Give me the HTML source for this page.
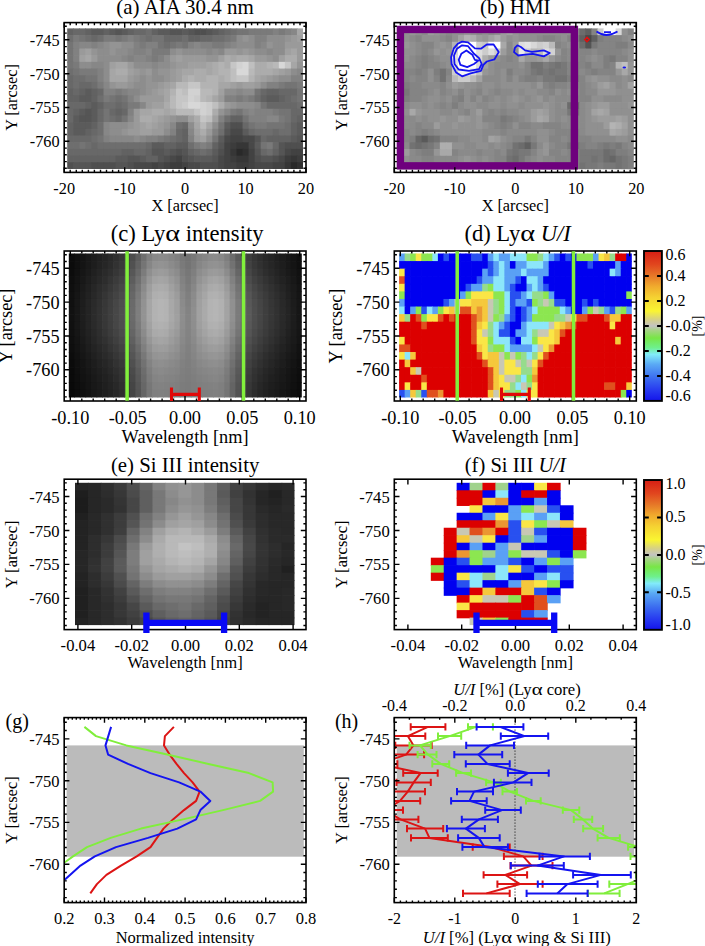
<!DOCTYPE html>
<html><head><meta charset="utf-8"><style>html,body{margin:0;padding:0;background:#fff;overflow:hidden}svg{display:block}</style></head><body>
<svg width="705" height="946" viewBox="0 0 705 946" font-family='"Liberation Serif", serif'>
<rect width="705" height="946" fill="#fff"/>
<rect x="67.20" y="28.40" width="6.75" height="7.40" fill="#626262"/>
<rect x="73.25" y="28.40" width="6.75" height="7.40" fill="#686868"/>
<rect x="79.29" y="28.40" width="6.75" height="7.40" fill="#686868"/>
<rect x="85.34" y="28.40" width="6.75" height="7.40" fill="#626262"/>
<rect x="91.38" y="28.40" width="6.75" height="7.40" fill="#5b5b5b"/>
<rect x="97.43" y="28.40" width="6.75" height="7.40" fill="#5b5b5b"/>
<rect x="103.48" y="28.40" width="6.75" height="7.40" fill="#626262"/>
<rect x="109.52" y="28.40" width="6.75" height="7.40" fill="#5b5b5b"/>
<rect x="115.57" y="28.40" width="6.75" height="7.40" fill="#555555"/>
<rect x="121.62" y="28.40" width="6.75" height="7.40" fill="#5b5b5b"/>
<rect x="127.66" y="28.40" width="6.75" height="7.40" fill="#626262"/>
<rect x="133.71" y="28.40" width="6.75" height="7.40" fill="#686868"/>
<rect x="139.75" y="28.40" width="6.75" height="7.40" fill="#686868"/>
<rect x="145.80" y="28.40" width="6.75" height="7.40" fill="#6e6e6e"/>
<rect x="151.85" y="28.40" width="6.75" height="7.40" fill="#626262"/>
<rect x="157.89" y="28.40" width="6.75" height="7.40" fill="#5b5b5b"/>
<rect x="163.94" y="28.40" width="6.75" height="7.40" fill="#5b5b5b"/>
<rect x="169.98" y="28.40" width="6.75" height="7.40" fill="#555555"/>
<rect x="176.03" y="28.40" width="6.75" height="7.40" fill="#555555"/>
<rect x="182.08" y="28.40" width="6.75" height="7.40" fill="#5b5b5b"/>
<rect x="188.12" y="28.40" width="6.75" height="7.40" fill="#555555"/>
<rect x="194.17" y="28.40" width="6.75" height="7.40" fill="#4f4f4f"/>
<rect x="200.22" y="28.40" width="6.75" height="7.40" fill="#4f4f4f"/>
<rect x="206.26" y="28.40" width="6.75" height="7.40" fill="#555555"/>
<rect x="212.31" y="28.40" width="6.75" height="7.40" fill="#5b5b5b"/>
<rect x="218.35" y="28.40" width="6.75" height="7.40" fill="#626262"/>
<rect x="224.40" y="28.40" width="6.75" height="7.40" fill="#686868"/>
<rect x="230.45" y="28.40" width="6.75" height="7.40" fill="#6e6e6e"/>
<rect x="236.49" y="28.40" width="6.75" height="7.40" fill="#747474"/>
<rect x="242.54" y="28.40" width="6.75" height="7.40" fill="#747474"/>
<rect x="248.58" y="28.40" width="6.75" height="7.40" fill="#7a7a7a"/>
<rect x="254.63" y="28.40" width="6.75" height="7.40" fill="#7a7a7a"/>
<rect x="260.68" y="28.40" width="6.75" height="7.40" fill="#7a7a7a"/>
<rect x="266.72" y="28.40" width="6.75" height="7.40" fill="#7a7a7a"/>
<rect x="272.77" y="28.40" width="6.75" height="7.40" fill="#818181"/>
<rect x="278.82" y="28.40" width="6.75" height="7.40" fill="#7a7a7a"/>
<rect x="284.86" y="28.40" width="6.75" height="7.40" fill="#818181"/>
<rect x="290.91" y="28.40" width="6.75" height="7.40" fill="#878787"/>
<rect x="296.95" y="28.40" width="6.05" height="7.40" fill="#a6a6a6"/>
<rect x="67.20" y="35.10" width="6.75" height="7.40" fill="#6e6e6e"/>
<rect x="73.25" y="35.10" width="6.75" height="7.40" fill="#7a7a7a"/>
<rect x="79.29" y="35.10" width="6.75" height="7.40" fill="#747474"/>
<rect x="85.34" y="35.10" width="6.75" height="7.40" fill="#6e6e6e"/>
<rect x="91.38" y="35.10" width="6.75" height="7.40" fill="#686868"/>
<rect x="97.43" y="35.10" width="6.75" height="7.40" fill="#6e6e6e"/>
<rect x="103.48" y="35.10" width="6.75" height="7.40" fill="#7a7a7a"/>
<rect x="109.52" y="35.10" width="6.75" height="7.40" fill="#7a7a7a"/>
<rect x="115.57" y="35.10" width="6.75" height="7.40" fill="#747474"/>
<rect x="121.62" y="35.10" width="6.75" height="7.40" fill="#7a7a7a"/>
<rect x="127.66" y="35.10" width="6.75" height="7.40" fill="#818181"/>
<rect x="133.71" y="35.10" width="6.75" height="7.40" fill="#7a7a7a"/>
<rect x="139.75" y="35.10" width="6.75" height="7.40" fill="#747474"/>
<rect x="145.80" y="35.10" width="6.75" height="7.40" fill="#6e6e6e"/>
<rect x="151.85" y="35.10" width="6.75" height="7.40" fill="#747474"/>
<rect x="157.89" y="35.10" width="6.75" height="7.40" fill="#747474"/>
<rect x="163.94" y="35.10" width="6.75" height="7.40" fill="#686868"/>
<rect x="169.98" y="35.10" width="6.75" height="7.40" fill="#686868"/>
<rect x="176.03" y="35.10" width="6.75" height="7.40" fill="#686868"/>
<rect x="182.08" y="35.10" width="6.75" height="7.40" fill="#6e6e6e"/>
<rect x="188.12" y="35.10" width="6.75" height="7.40" fill="#626262"/>
<rect x="194.17" y="35.10" width="6.75" height="7.40" fill="#626262"/>
<rect x="200.22" y="35.10" width="6.75" height="7.40" fill="#686868"/>
<rect x="206.26" y="35.10" width="6.75" height="7.40" fill="#686868"/>
<rect x="212.31" y="35.10" width="6.75" height="7.40" fill="#6e6e6e"/>
<rect x="218.35" y="35.10" width="6.75" height="7.40" fill="#6e6e6e"/>
<rect x="224.40" y="35.10" width="6.75" height="7.40" fill="#747474"/>
<rect x="230.45" y="35.10" width="6.75" height="7.40" fill="#7a7a7a"/>
<rect x="236.49" y="35.10" width="6.75" height="7.40" fill="#8d8d8d"/>
<rect x="242.54" y="35.10" width="6.75" height="7.40" fill="#949494"/>
<rect x="248.58" y="35.10" width="6.75" height="7.40" fill="#8d8d8d"/>
<rect x="254.63" y="35.10" width="6.75" height="7.40" fill="#818181"/>
<rect x="260.68" y="35.10" width="6.75" height="7.40" fill="#818181"/>
<rect x="266.72" y="35.10" width="6.75" height="7.40" fill="#8d8d8d"/>
<rect x="272.77" y="35.10" width="6.75" height="7.40" fill="#8d8d8d"/>
<rect x="278.82" y="35.10" width="6.75" height="7.40" fill="#8d8d8d"/>
<rect x="284.86" y="35.10" width="6.75" height="7.40" fill="#949494"/>
<rect x="290.91" y="35.10" width="6.75" height="7.40" fill="#9a9a9a"/>
<rect x="296.95" y="35.10" width="6.05" height="7.40" fill="#a0a0a0"/>
<rect x="67.20" y="41.79" width="6.75" height="7.40" fill="#747474"/>
<rect x="73.25" y="41.79" width="6.75" height="7.40" fill="#818181"/>
<rect x="79.29" y="41.79" width="6.75" height="7.40" fill="#878787"/>
<rect x="85.34" y="41.79" width="6.75" height="7.40" fill="#878787"/>
<rect x="91.38" y="41.79" width="6.75" height="7.40" fill="#818181"/>
<rect x="97.43" y="41.79" width="6.75" height="7.40" fill="#878787"/>
<rect x="103.48" y="41.79" width="6.75" height="7.40" fill="#8d8d8d"/>
<rect x="109.52" y="41.79" width="6.75" height="7.40" fill="#949494"/>
<rect x="115.57" y="41.79" width="6.75" height="7.40" fill="#949494"/>
<rect x="121.62" y="41.79" width="6.75" height="7.40" fill="#8d8d8d"/>
<rect x="127.66" y="41.79" width="6.75" height="7.40" fill="#8d8d8d"/>
<rect x="133.71" y="41.79" width="6.75" height="7.40" fill="#818181"/>
<rect x="139.75" y="41.79" width="6.75" height="7.40" fill="#7a7a7a"/>
<rect x="145.80" y="41.79" width="6.75" height="7.40" fill="#818181"/>
<rect x="151.85" y="41.79" width="6.75" height="7.40" fill="#818181"/>
<rect x="157.89" y="41.79" width="6.75" height="7.40" fill="#747474"/>
<rect x="163.94" y="41.79" width="6.75" height="7.40" fill="#6e6e6e"/>
<rect x="169.98" y="41.79" width="6.75" height="7.40" fill="#747474"/>
<rect x="176.03" y="41.79" width="6.75" height="7.40" fill="#7a7a7a"/>
<rect x="182.08" y="41.79" width="6.75" height="7.40" fill="#747474"/>
<rect x="188.12" y="41.79" width="6.75" height="7.40" fill="#818181"/>
<rect x="194.17" y="41.79" width="6.75" height="7.40" fill="#878787"/>
<rect x="200.22" y="41.79" width="6.75" height="7.40" fill="#818181"/>
<rect x="206.26" y="41.79" width="6.75" height="7.40" fill="#818181"/>
<rect x="212.31" y="41.79" width="6.75" height="7.40" fill="#7a7a7a"/>
<rect x="218.35" y="41.79" width="6.75" height="7.40" fill="#7a7a7a"/>
<rect x="224.40" y="41.79" width="6.75" height="7.40" fill="#818181"/>
<rect x="230.45" y="41.79" width="6.75" height="7.40" fill="#878787"/>
<rect x="236.49" y="41.79" width="6.75" height="7.40" fill="#8d8d8d"/>
<rect x="242.54" y="41.79" width="6.75" height="7.40" fill="#8d8d8d"/>
<rect x="248.58" y="41.79" width="6.75" height="7.40" fill="#8d8d8d"/>
<rect x="254.63" y="41.79" width="6.75" height="7.40" fill="#818181"/>
<rect x="260.68" y="41.79" width="6.75" height="7.40" fill="#878787"/>
<rect x="266.72" y="41.79" width="6.75" height="7.40" fill="#949494"/>
<rect x="272.77" y="41.79" width="6.75" height="7.40" fill="#8d8d8d"/>
<rect x="278.82" y="41.79" width="6.75" height="7.40" fill="#8d8d8d"/>
<rect x="284.86" y="41.79" width="6.75" height="7.40" fill="#9a9a9a"/>
<rect x="290.91" y="41.79" width="6.75" height="7.40" fill="#9a9a9a"/>
<rect x="296.95" y="41.79" width="6.05" height="7.40" fill="#9a9a9a"/>
<rect x="67.20" y="48.49" width="6.75" height="7.40" fill="#747474"/>
<rect x="73.25" y="48.49" width="6.75" height="7.40" fill="#818181"/>
<rect x="79.29" y="48.49" width="6.75" height="7.40" fill="#9a9a9a"/>
<rect x="85.34" y="48.49" width="6.75" height="7.40" fill="#a0a0a0"/>
<rect x="91.38" y="48.49" width="6.75" height="7.40" fill="#949494"/>
<rect x="97.43" y="48.49" width="6.75" height="7.40" fill="#8d8d8d"/>
<rect x="103.48" y="48.49" width="6.75" height="7.40" fill="#8d8d8d"/>
<rect x="109.52" y="48.49" width="6.75" height="7.40" fill="#949494"/>
<rect x="115.57" y="48.49" width="6.75" height="7.40" fill="#8d8d8d"/>
<rect x="121.62" y="48.49" width="6.75" height="7.40" fill="#8d8d8d"/>
<rect x="127.66" y="48.49" width="6.75" height="7.40" fill="#878787"/>
<rect x="133.71" y="48.49" width="6.75" height="7.40" fill="#818181"/>
<rect x="139.75" y="48.49" width="6.75" height="7.40" fill="#818181"/>
<rect x="145.80" y="48.49" width="6.75" height="7.40" fill="#878787"/>
<rect x="151.85" y="48.49" width="6.75" height="7.40" fill="#7a7a7a"/>
<rect x="157.89" y="48.49" width="6.75" height="7.40" fill="#7a7a7a"/>
<rect x="163.94" y="48.49" width="6.75" height="7.40" fill="#7a7a7a"/>
<rect x="169.98" y="48.49" width="6.75" height="7.40" fill="#8d8d8d"/>
<rect x="176.03" y="48.49" width="6.75" height="7.40" fill="#949494"/>
<rect x="182.08" y="48.49" width="6.75" height="7.40" fill="#8d8d8d"/>
<rect x="188.12" y="48.49" width="6.75" height="7.40" fill="#8d8d8d"/>
<rect x="194.17" y="48.49" width="6.75" height="7.40" fill="#8d8d8d"/>
<rect x="200.22" y="48.49" width="6.75" height="7.40" fill="#8d8d8d"/>
<rect x="206.26" y="48.49" width="6.75" height="7.40" fill="#878787"/>
<rect x="212.31" y="48.49" width="6.75" height="7.40" fill="#8d8d8d"/>
<rect x="218.35" y="48.49" width="6.75" height="7.40" fill="#878787"/>
<rect x="224.40" y="48.49" width="6.75" height="7.40" fill="#9a9a9a"/>
<rect x="230.45" y="48.49" width="6.75" height="7.40" fill="#9a9a9a"/>
<rect x="236.49" y="48.49" width="6.75" height="7.40" fill="#949494"/>
<rect x="242.54" y="48.49" width="6.75" height="7.40" fill="#9a9a9a"/>
<rect x="248.58" y="48.49" width="6.75" height="7.40" fill="#949494"/>
<rect x="254.63" y="48.49" width="6.75" height="7.40" fill="#8d8d8d"/>
<rect x="260.68" y="48.49" width="6.75" height="7.40" fill="#8d8d8d"/>
<rect x="266.72" y="48.49" width="6.75" height="7.40" fill="#878787"/>
<rect x="272.77" y="48.49" width="6.75" height="7.40" fill="#8d8d8d"/>
<rect x="278.82" y="48.49" width="6.75" height="7.40" fill="#8d8d8d"/>
<rect x="284.86" y="48.49" width="6.75" height="7.40" fill="#a0a0a0"/>
<rect x="290.91" y="48.49" width="6.75" height="7.40" fill="#a6a6a6"/>
<rect x="296.95" y="48.49" width="6.05" height="7.40" fill="#9a9a9a"/>
<rect x="67.20" y="55.18" width="6.75" height="7.40" fill="#747474"/>
<rect x="73.25" y="55.18" width="6.75" height="7.40" fill="#818181"/>
<rect x="79.29" y="55.18" width="6.75" height="7.40" fill="#a0a0a0"/>
<rect x="85.34" y="55.18" width="6.75" height="7.40" fill="#a6a6a6"/>
<rect x="91.38" y="55.18" width="6.75" height="7.40" fill="#9a9a9a"/>
<rect x="97.43" y="55.18" width="6.75" height="7.40" fill="#8d8d8d"/>
<rect x="103.48" y="55.18" width="6.75" height="7.40" fill="#8d8d8d"/>
<rect x="109.52" y="55.18" width="6.75" height="7.40" fill="#8d8d8d"/>
<rect x="115.57" y="55.18" width="6.75" height="7.40" fill="#8d8d8d"/>
<rect x="121.62" y="55.18" width="6.75" height="7.40" fill="#878787"/>
<rect x="127.66" y="55.18" width="6.75" height="7.40" fill="#818181"/>
<rect x="133.71" y="55.18" width="6.75" height="7.40" fill="#878787"/>
<rect x="139.75" y="55.18" width="6.75" height="7.40" fill="#878787"/>
<rect x="145.80" y="55.18" width="6.75" height="7.40" fill="#818181"/>
<rect x="151.85" y="55.18" width="6.75" height="7.40" fill="#7a7a7a"/>
<rect x="157.89" y="55.18" width="6.75" height="7.40" fill="#818181"/>
<rect x="163.94" y="55.18" width="6.75" height="7.40" fill="#8d8d8d"/>
<rect x="169.98" y="55.18" width="6.75" height="7.40" fill="#9a9a9a"/>
<rect x="176.03" y="55.18" width="6.75" height="7.40" fill="#a0a0a0"/>
<rect x="182.08" y="55.18" width="6.75" height="7.40" fill="#9a9a9a"/>
<rect x="188.12" y="55.18" width="6.75" height="7.40" fill="#9a9a9a"/>
<rect x="194.17" y="55.18" width="6.75" height="7.40" fill="#9a9a9a"/>
<rect x="200.22" y="55.18" width="6.75" height="7.40" fill="#9a9a9a"/>
<rect x="206.26" y="55.18" width="6.75" height="7.40" fill="#949494"/>
<rect x="212.31" y="55.18" width="6.75" height="7.40" fill="#949494"/>
<rect x="218.35" y="55.18" width="6.75" height="7.40" fill="#a0a0a0"/>
<rect x="224.40" y="55.18" width="6.75" height="7.40" fill="#acacac"/>
<rect x="230.45" y="55.18" width="6.75" height="7.40" fill="#a6a6a6"/>
<rect x="236.49" y="55.18" width="6.75" height="7.40" fill="#acacac"/>
<rect x="242.54" y="55.18" width="6.75" height="7.40" fill="#acacac"/>
<rect x="248.58" y="55.18" width="6.75" height="7.40" fill="#a6a6a6"/>
<rect x="254.63" y="55.18" width="6.75" height="7.40" fill="#9a9a9a"/>
<rect x="260.68" y="55.18" width="6.75" height="7.40" fill="#9a9a9a"/>
<rect x="266.72" y="55.18" width="6.75" height="7.40" fill="#949494"/>
<rect x="272.77" y="55.18" width="6.75" height="7.40" fill="#8d8d8d"/>
<rect x="278.82" y="55.18" width="6.75" height="7.40" fill="#a0a0a0"/>
<rect x="284.86" y="55.18" width="6.75" height="7.40" fill="#acacac"/>
<rect x="290.91" y="55.18" width="6.75" height="7.40" fill="#acacac"/>
<rect x="296.95" y="55.18" width="6.05" height="7.40" fill="#9a9a9a"/>
<rect x="67.20" y="61.88" width="6.75" height="7.40" fill="#747474"/>
<rect x="73.25" y="61.88" width="6.75" height="7.40" fill="#7a7a7a"/>
<rect x="79.29" y="61.88" width="6.75" height="7.40" fill="#8d8d8d"/>
<rect x="85.34" y="61.88" width="6.75" height="7.40" fill="#8d8d8d"/>
<rect x="91.38" y="61.88" width="6.75" height="7.40" fill="#878787"/>
<rect x="97.43" y="61.88" width="6.75" height="7.40" fill="#878787"/>
<rect x="103.48" y="61.88" width="6.75" height="7.40" fill="#8d8d8d"/>
<rect x="109.52" y="61.88" width="6.75" height="7.40" fill="#a0a0a0"/>
<rect x="115.57" y="61.88" width="6.75" height="7.40" fill="#a6a6a6"/>
<rect x="121.62" y="61.88" width="6.75" height="7.40" fill="#a6a6a6"/>
<rect x="127.66" y="61.88" width="6.75" height="7.40" fill="#9a9a9a"/>
<rect x="133.71" y="61.88" width="6.75" height="7.40" fill="#8d8d8d"/>
<rect x="139.75" y="61.88" width="6.75" height="7.40" fill="#8d8d8d"/>
<rect x="145.80" y="61.88" width="6.75" height="7.40" fill="#8d8d8d"/>
<rect x="151.85" y="61.88" width="6.75" height="7.40" fill="#878787"/>
<rect x="157.89" y="61.88" width="6.75" height="7.40" fill="#8d8d8d"/>
<rect x="163.94" y="61.88" width="6.75" height="7.40" fill="#8d8d8d"/>
<rect x="169.98" y="61.88" width="6.75" height="7.40" fill="#949494"/>
<rect x="176.03" y="61.88" width="6.75" height="7.40" fill="#9a9a9a"/>
<rect x="182.08" y="61.88" width="6.75" height="7.40" fill="#9a9a9a"/>
<rect x="188.12" y="61.88" width="6.75" height="7.40" fill="#a0a0a0"/>
<rect x="194.17" y="61.88" width="6.75" height="7.40" fill="#a0a0a0"/>
<rect x="200.22" y="61.88" width="6.75" height="7.40" fill="#a0a0a0"/>
<rect x="206.26" y="61.88" width="6.75" height="7.40" fill="#a6a6a6"/>
<rect x="212.31" y="61.88" width="6.75" height="7.40" fill="#acacac"/>
<rect x="218.35" y="61.88" width="6.75" height="7.40" fill="#b3b3b3"/>
<rect x="224.40" y="61.88" width="6.75" height="7.40" fill="#acacac"/>
<rect x="230.45" y="61.88" width="6.75" height="7.40" fill="#c6c6c6"/>
<rect x="236.49" y="61.88" width="6.75" height="7.40" fill="#d2d2d2"/>
<rect x="242.54" y="61.88" width="6.75" height="7.40" fill="#d8d8d8"/>
<rect x="248.58" y="61.88" width="6.75" height="7.40" fill="#bfbfbf"/>
<rect x="254.63" y="61.88" width="6.75" height="7.40" fill="#acacac"/>
<rect x="260.68" y="61.88" width="6.75" height="7.40" fill="#acacac"/>
<rect x="266.72" y="61.88" width="6.75" height="7.40" fill="#b3b3b3"/>
<rect x="272.77" y="61.88" width="6.75" height="7.40" fill="#b9b9b9"/>
<rect x="278.82" y="61.88" width="6.75" height="7.40" fill="#d8d8d8"/>
<rect x="284.86" y="61.88" width="6.75" height="7.40" fill="#c6c6c6"/>
<rect x="290.91" y="61.88" width="6.75" height="7.40" fill="#a6a6a6"/>
<rect x="296.95" y="61.88" width="6.05" height="7.40" fill="#949494"/>
<rect x="67.20" y="68.57" width="6.75" height="7.40" fill="#6e6e6e"/>
<rect x="73.25" y="68.57" width="6.75" height="7.40" fill="#747474"/>
<rect x="79.29" y="68.57" width="6.75" height="7.40" fill="#7a7a7a"/>
<rect x="85.34" y="68.57" width="6.75" height="7.40" fill="#7a7a7a"/>
<rect x="91.38" y="68.57" width="6.75" height="7.40" fill="#7a7a7a"/>
<rect x="97.43" y="68.57" width="6.75" height="7.40" fill="#818181"/>
<rect x="103.48" y="68.57" width="6.75" height="7.40" fill="#8d8d8d"/>
<rect x="109.52" y="68.57" width="6.75" height="7.40" fill="#a6a6a6"/>
<rect x="115.57" y="68.57" width="6.75" height="7.40" fill="#acacac"/>
<rect x="121.62" y="68.57" width="6.75" height="7.40" fill="#acacac"/>
<rect x="127.66" y="68.57" width="6.75" height="7.40" fill="#a0a0a0"/>
<rect x="133.71" y="68.57" width="6.75" height="7.40" fill="#9a9a9a"/>
<rect x="139.75" y="68.57" width="6.75" height="7.40" fill="#949494"/>
<rect x="145.80" y="68.57" width="6.75" height="7.40" fill="#9a9a9a"/>
<rect x="151.85" y="68.57" width="6.75" height="7.40" fill="#8d8d8d"/>
<rect x="157.89" y="68.57" width="6.75" height="7.40" fill="#949494"/>
<rect x="163.94" y="68.57" width="6.75" height="7.40" fill="#949494"/>
<rect x="169.98" y="68.57" width="6.75" height="7.40" fill="#9a9a9a"/>
<rect x="176.03" y="68.57" width="6.75" height="7.40" fill="#a0a0a0"/>
<rect x="182.08" y="68.57" width="6.75" height="7.40" fill="#a6a6a6"/>
<rect x="188.12" y="68.57" width="6.75" height="7.40" fill="#a6a6a6"/>
<rect x="194.17" y="68.57" width="6.75" height="7.40" fill="#acacac"/>
<rect x="200.22" y="68.57" width="6.75" height="7.40" fill="#acacac"/>
<rect x="206.26" y="68.57" width="6.75" height="7.40" fill="#a6a6a6"/>
<rect x="212.31" y="68.57" width="6.75" height="7.40" fill="#acacac"/>
<rect x="218.35" y="68.57" width="6.75" height="7.40" fill="#b3b3b3"/>
<rect x="224.40" y="68.57" width="6.75" height="7.40" fill="#b3b3b3"/>
<rect x="230.45" y="68.57" width="6.75" height="7.40" fill="#bfbfbf"/>
<rect x="236.49" y="68.57" width="6.75" height="7.40" fill="#d8d8d8"/>
<rect x="242.54" y="68.57" width="6.75" height="7.40" fill="#d8d8d8"/>
<rect x="248.58" y="68.57" width="6.75" height="7.40" fill="#b9b9b9"/>
<rect x="254.63" y="68.57" width="6.75" height="7.40" fill="#acacac"/>
<rect x="260.68" y="68.57" width="6.75" height="7.40" fill="#acacac"/>
<rect x="266.72" y="68.57" width="6.75" height="7.40" fill="#acacac"/>
<rect x="272.77" y="68.57" width="6.75" height="7.40" fill="#a6a6a6"/>
<rect x="278.82" y="68.57" width="6.75" height="7.40" fill="#a0a0a0"/>
<rect x="284.86" y="68.57" width="6.75" height="7.40" fill="#9a9a9a"/>
<rect x="290.91" y="68.57" width="6.75" height="7.40" fill="#8d8d8d"/>
<rect x="296.95" y="68.57" width="6.05" height="7.40" fill="#878787"/>
<rect x="67.20" y="75.27" width="6.75" height="7.40" fill="#686868"/>
<rect x="73.25" y="75.27" width="6.75" height="7.40" fill="#6e6e6e"/>
<rect x="79.29" y="75.27" width="6.75" height="7.40" fill="#6e6e6e"/>
<rect x="85.34" y="75.27" width="6.75" height="7.40" fill="#747474"/>
<rect x="91.38" y="75.27" width="6.75" height="7.40" fill="#747474"/>
<rect x="97.43" y="75.27" width="6.75" height="7.40" fill="#818181"/>
<rect x="103.48" y="75.27" width="6.75" height="7.40" fill="#8d8d8d"/>
<rect x="109.52" y="75.27" width="6.75" height="7.40" fill="#a6a6a6"/>
<rect x="115.57" y="75.27" width="6.75" height="7.40" fill="#a6a6a6"/>
<rect x="121.62" y="75.27" width="6.75" height="7.40" fill="#a6a6a6"/>
<rect x="127.66" y="75.27" width="6.75" height="7.40" fill="#9a9a9a"/>
<rect x="133.71" y="75.27" width="6.75" height="7.40" fill="#949494"/>
<rect x="139.75" y="75.27" width="6.75" height="7.40" fill="#8d8d8d"/>
<rect x="145.80" y="75.27" width="6.75" height="7.40" fill="#949494"/>
<rect x="151.85" y="75.27" width="6.75" height="7.40" fill="#8d8d8d"/>
<rect x="157.89" y="75.27" width="6.75" height="7.40" fill="#8d8d8d"/>
<rect x="163.94" y="75.27" width="6.75" height="7.40" fill="#949494"/>
<rect x="169.98" y="75.27" width="6.75" height="7.40" fill="#9a9a9a"/>
<rect x="176.03" y="75.27" width="6.75" height="7.40" fill="#a0a0a0"/>
<rect x="182.08" y="75.27" width="6.75" height="7.40" fill="#acacac"/>
<rect x="188.12" y="75.27" width="6.75" height="7.40" fill="#b3b3b3"/>
<rect x="194.17" y="75.27" width="6.75" height="7.40" fill="#acacac"/>
<rect x="200.22" y="75.27" width="6.75" height="7.40" fill="#acacac"/>
<rect x="206.26" y="75.27" width="6.75" height="7.40" fill="#b3b3b3"/>
<rect x="212.31" y="75.27" width="6.75" height="7.40" fill="#b3b3b3"/>
<rect x="218.35" y="75.27" width="6.75" height="7.40" fill="#acacac"/>
<rect x="224.40" y="75.27" width="6.75" height="7.40" fill="#b3b3b3"/>
<rect x="230.45" y="75.27" width="6.75" height="7.40" fill="#bfbfbf"/>
<rect x="236.49" y="75.27" width="6.75" height="7.40" fill="#c6c6c6"/>
<rect x="242.54" y="75.27" width="6.75" height="7.40" fill="#c6c6c6"/>
<rect x="248.58" y="75.27" width="6.75" height="7.40" fill="#b3b3b3"/>
<rect x="254.63" y="75.27" width="6.75" height="7.40" fill="#a6a6a6"/>
<rect x="260.68" y="75.27" width="6.75" height="7.40" fill="#a0a0a0"/>
<rect x="266.72" y="75.27" width="6.75" height="7.40" fill="#9a9a9a"/>
<rect x="272.77" y="75.27" width="6.75" height="7.40" fill="#949494"/>
<rect x="278.82" y="75.27" width="6.75" height="7.40" fill="#8d8d8d"/>
<rect x="284.86" y="75.27" width="6.75" height="7.40" fill="#8d8d8d"/>
<rect x="290.91" y="75.27" width="6.75" height="7.40" fill="#818181"/>
<rect x="296.95" y="75.27" width="6.05" height="7.40" fill="#818181"/>
<rect x="67.20" y="81.96" width="6.75" height="7.40" fill="#686868"/>
<rect x="73.25" y="81.96" width="6.75" height="7.40" fill="#6e6e6e"/>
<rect x="79.29" y="81.96" width="6.75" height="7.40" fill="#686868"/>
<rect x="85.34" y="81.96" width="6.75" height="7.40" fill="#686868"/>
<rect x="91.38" y="81.96" width="6.75" height="7.40" fill="#6e6e6e"/>
<rect x="97.43" y="81.96" width="6.75" height="7.40" fill="#7a7a7a"/>
<rect x="103.48" y="81.96" width="6.75" height="7.40" fill="#878787"/>
<rect x="109.52" y="81.96" width="6.75" height="7.40" fill="#949494"/>
<rect x="115.57" y="81.96" width="6.75" height="7.40" fill="#9a9a9a"/>
<rect x="121.62" y="81.96" width="6.75" height="7.40" fill="#9a9a9a"/>
<rect x="127.66" y="81.96" width="6.75" height="7.40" fill="#949494"/>
<rect x="133.71" y="81.96" width="6.75" height="7.40" fill="#8d8d8d"/>
<rect x="139.75" y="81.96" width="6.75" height="7.40" fill="#8d8d8d"/>
<rect x="145.80" y="81.96" width="6.75" height="7.40" fill="#949494"/>
<rect x="151.85" y="81.96" width="6.75" height="7.40" fill="#949494"/>
<rect x="157.89" y="81.96" width="6.75" height="7.40" fill="#9a9a9a"/>
<rect x="163.94" y="81.96" width="6.75" height="7.40" fill="#a0a0a0"/>
<rect x="169.98" y="81.96" width="6.75" height="7.40" fill="#a6a6a6"/>
<rect x="176.03" y="81.96" width="6.75" height="7.40" fill="#b9b9b9"/>
<rect x="182.08" y="81.96" width="6.75" height="7.40" fill="#b9b9b9"/>
<rect x="188.12" y="81.96" width="6.75" height="7.40" fill="#c6c6c6"/>
<rect x="194.17" y="81.96" width="6.75" height="7.40" fill="#c6c6c6"/>
<rect x="200.22" y="81.96" width="6.75" height="7.40" fill="#b3b3b3"/>
<rect x="206.26" y="81.96" width="6.75" height="7.40" fill="#b3b3b3"/>
<rect x="212.31" y="81.96" width="6.75" height="7.40" fill="#b3b3b3"/>
<rect x="218.35" y="81.96" width="6.75" height="7.40" fill="#a6a6a6"/>
<rect x="224.40" y="81.96" width="6.75" height="7.40" fill="#a6a6a6"/>
<rect x="230.45" y="81.96" width="6.75" height="7.40" fill="#a0a0a0"/>
<rect x="236.49" y="81.96" width="6.75" height="7.40" fill="#9a9a9a"/>
<rect x="242.54" y="81.96" width="6.75" height="7.40" fill="#a0a0a0"/>
<rect x="248.58" y="81.96" width="6.75" height="7.40" fill="#a0a0a0"/>
<rect x="254.63" y="81.96" width="6.75" height="7.40" fill="#9a9a9a"/>
<rect x="260.68" y="81.96" width="6.75" height="7.40" fill="#8d8d8d"/>
<rect x="266.72" y="81.96" width="6.75" height="7.40" fill="#818181"/>
<rect x="272.77" y="81.96" width="6.75" height="7.40" fill="#818181"/>
<rect x="278.82" y="81.96" width="6.75" height="7.40" fill="#7a7a7a"/>
<rect x="284.86" y="81.96" width="6.75" height="7.40" fill="#747474"/>
<rect x="290.91" y="81.96" width="6.75" height="7.40" fill="#747474"/>
<rect x="296.95" y="81.96" width="6.05" height="7.40" fill="#7a7a7a"/>
<rect x="67.20" y="88.66" width="6.75" height="7.40" fill="#626262"/>
<rect x="73.25" y="88.66" width="6.75" height="7.40" fill="#686868"/>
<rect x="79.29" y="88.66" width="6.75" height="7.40" fill="#626262"/>
<rect x="85.34" y="88.66" width="6.75" height="7.40" fill="#5b5b5b"/>
<rect x="91.38" y="88.66" width="6.75" height="7.40" fill="#626262"/>
<rect x="97.43" y="88.66" width="6.75" height="7.40" fill="#686868"/>
<rect x="103.48" y="88.66" width="6.75" height="7.40" fill="#818181"/>
<rect x="109.52" y="88.66" width="6.75" height="7.40" fill="#818181"/>
<rect x="115.57" y="88.66" width="6.75" height="7.40" fill="#7a7a7a"/>
<rect x="121.62" y="88.66" width="6.75" height="7.40" fill="#818181"/>
<rect x="127.66" y="88.66" width="6.75" height="7.40" fill="#878787"/>
<rect x="133.71" y="88.66" width="6.75" height="7.40" fill="#878787"/>
<rect x="139.75" y="88.66" width="6.75" height="7.40" fill="#8d8d8d"/>
<rect x="145.80" y="88.66" width="6.75" height="7.40" fill="#949494"/>
<rect x="151.85" y="88.66" width="6.75" height="7.40" fill="#9a9a9a"/>
<rect x="157.89" y="88.66" width="6.75" height="7.40" fill="#a0a0a0"/>
<rect x="163.94" y="88.66" width="6.75" height="7.40" fill="#a6a6a6"/>
<rect x="169.98" y="88.66" width="6.75" height="7.40" fill="#b3b3b3"/>
<rect x="176.03" y="88.66" width="6.75" height="7.40" fill="#c6c6c6"/>
<rect x="182.08" y="88.66" width="6.75" height="7.40" fill="#bfbfbf"/>
<rect x="188.12" y="88.66" width="6.75" height="7.40" fill="#d2d2d2"/>
<rect x="194.17" y="88.66" width="6.75" height="7.40" fill="#d2d2d2"/>
<rect x="200.22" y="88.66" width="6.75" height="7.40" fill="#b9b9b9"/>
<rect x="206.26" y="88.66" width="6.75" height="7.40" fill="#b9b9b9"/>
<rect x="212.31" y="88.66" width="6.75" height="7.40" fill="#b3b3b3"/>
<rect x="218.35" y="88.66" width="6.75" height="7.40" fill="#a0a0a0"/>
<rect x="224.40" y="88.66" width="6.75" height="7.40" fill="#8d8d8d"/>
<rect x="230.45" y="88.66" width="6.75" height="7.40" fill="#8d8d8d"/>
<rect x="236.49" y="88.66" width="6.75" height="7.40" fill="#878787"/>
<rect x="242.54" y="88.66" width="6.75" height="7.40" fill="#8d8d8d"/>
<rect x="248.58" y="88.66" width="6.75" height="7.40" fill="#8d8d8d"/>
<rect x="254.63" y="88.66" width="6.75" height="7.40" fill="#747474"/>
<rect x="260.68" y="88.66" width="6.75" height="7.40" fill="#686868"/>
<rect x="266.72" y="88.66" width="6.75" height="7.40" fill="#626262"/>
<rect x="272.77" y="88.66" width="6.75" height="7.40" fill="#626262"/>
<rect x="278.82" y="88.66" width="6.75" height="7.40" fill="#686868"/>
<rect x="284.86" y="88.66" width="6.75" height="7.40" fill="#686868"/>
<rect x="290.91" y="88.66" width="6.75" height="7.40" fill="#686868"/>
<rect x="296.95" y="88.66" width="6.05" height="7.40" fill="#747474"/>
<rect x="67.20" y="95.35" width="6.75" height="7.40" fill="#626262"/>
<rect x="73.25" y="95.35" width="6.75" height="7.40" fill="#626262"/>
<rect x="79.29" y="95.35" width="6.75" height="7.40" fill="#5b5b5b"/>
<rect x="85.34" y="95.35" width="6.75" height="7.40" fill="#5b5b5b"/>
<rect x="91.38" y="95.35" width="6.75" height="7.40" fill="#626262"/>
<rect x="97.43" y="95.35" width="6.75" height="7.40" fill="#6e6e6e"/>
<rect x="103.48" y="95.35" width="6.75" height="7.40" fill="#7a7a7a"/>
<rect x="109.52" y="95.35" width="6.75" height="7.40" fill="#747474"/>
<rect x="115.57" y="95.35" width="6.75" height="7.40" fill="#6e6e6e"/>
<rect x="121.62" y="95.35" width="6.75" height="7.40" fill="#747474"/>
<rect x="127.66" y="95.35" width="6.75" height="7.40" fill="#818181"/>
<rect x="133.71" y="95.35" width="6.75" height="7.40" fill="#8d8d8d"/>
<rect x="139.75" y="95.35" width="6.75" height="7.40" fill="#9a9a9a"/>
<rect x="145.80" y="95.35" width="6.75" height="7.40" fill="#9a9a9a"/>
<rect x="151.85" y="95.35" width="6.75" height="7.40" fill="#9a9a9a"/>
<rect x="157.89" y="95.35" width="6.75" height="7.40" fill="#9a9a9a"/>
<rect x="163.94" y="95.35" width="6.75" height="7.40" fill="#a6a6a6"/>
<rect x="169.98" y="95.35" width="6.75" height="7.40" fill="#b9b9b9"/>
<rect x="176.03" y="95.35" width="6.75" height="7.40" fill="#c6c6c6"/>
<rect x="182.08" y="95.35" width="6.75" height="7.40" fill="#c6c6c6"/>
<rect x="188.12" y="95.35" width="6.75" height="7.40" fill="#d2d2d2"/>
<rect x="194.17" y="95.35" width="6.75" height="7.40" fill="#cccccc"/>
<rect x="200.22" y="95.35" width="6.75" height="7.40" fill="#b9b9b9"/>
<rect x="206.26" y="95.35" width="6.75" height="7.40" fill="#b3b3b3"/>
<rect x="212.31" y="95.35" width="6.75" height="7.40" fill="#a6a6a6"/>
<rect x="218.35" y="95.35" width="6.75" height="7.40" fill="#9a9a9a"/>
<rect x="224.40" y="95.35" width="6.75" height="7.40" fill="#818181"/>
<rect x="230.45" y="95.35" width="6.75" height="7.40" fill="#818181"/>
<rect x="236.49" y="95.35" width="6.75" height="7.40" fill="#7a7a7a"/>
<rect x="242.54" y="95.35" width="6.75" height="7.40" fill="#818181"/>
<rect x="248.58" y="95.35" width="6.75" height="7.40" fill="#7a7a7a"/>
<rect x="254.63" y="95.35" width="6.75" height="7.40" fill="#6e6e6e"/>
<rect x="260.68" y="95.35" width="6.75" height="7.40" fill="#626262"/>
<rect x="266.72" y="95.35" width="6.75" height="7.40" fill="#5b5b5b"/>
<rect x="272.77" y="95.35" width="6.75" height="7.40" fill="#5b5b5b"/>
<rect x="278.82" y="95.35" width="6.75" height="7.40" fill="#626262"/>
<rect x="284.86" y="95.35" width="6.75" height="7.40" fill="#686868"/>
<rect x="290.91" y="95.35" width="6.75" height="7.40" fill="#6e6e6e"/>
<rect x="296.95" y="95.35" width="6.05" height="7.40" fill="#747474"/>
<rect x="67.20" y="102.05" width="6.75" height="7.40" fill="#686868"/>
<rect x="73.25" y="102.05" width="6.75" height="7.40" fill="#686868"/>
<rect x="79.29" y="102.05" width="6.75" height="7.40" fill="#686868"/>
<rect x="85.34" y="102.05" width="6.75" height="7.40" fill="#626262"/>
<rect x="91.38" y="102.05" width="6.75" height="7.40" fill="#5b5b5b"/>
<rect x="97.43" y="102.05" width="6.75" height="7.40" fill="#626262"/>
<rect x="103.48" y="102.05" width="6.75" height="7.40" fill="#6e6e6e"/>
<rect x="109.52" y="102.05" width="6.75" height="7.40" fill="#6e6e6e"/>
<rect x="115.57" y="102.05" width="6.75" height="7.40" fill="#686868"/>
<rect x="121.62" y="102.05" width="6.75" height="7.40" fill="#6e6e6e"/>
<rect x="127.66" y="102.05" width="6.75" height="7.40" fill="#7a7a7a"/>
<rect x="133.71" y="102.05" width="6.75" height="7.40" fill="#7a7a7a"/>
<rect x="139.75" y="102.05" width="6.75" height="7.40" fill="#878787"/>
<rect x="145.80" y="102.05" width="6.75" height="7.40" fill="#9a9a9a"/>
<rect x="151.85" y="102.05" width="6.75" height="7.40" fill="#a0a0a0"/>
<rect x="157.89" y="102.05" width="6.75" height="7.40" fill="#a0a0a0"/>
<rect x="163.94" y="102.05" width="6.75" height="7.40" fill="#acacac"/>
<rect x="169.98" y="102.05" width="6.75" height="7.40" fill="#b9b9b9"/>
<rect x="176.03" y="102.05" width="6.75" height="7.40" fill="#c6c6c6"/>
<rect x="182.08" y="102.05" width="6.75" height="7.40" fill="#cccccc"/>
<rect x="188.12" y="102.05" width="6.75" height="7.40" fill="#d8d8d8"/>
<rect x="194.17" y="102.05" width="6.75" height="7.40" fill="#d8d8d8"/>
<rect x="200.22" y="102.05" width="6.75" height="7.40" fill="#d2d2d2"/>
<rect x="206.26" y="102.05" width="6.75" height="7.40" fill="#cccccc"/>
<rect x="212.31" y="102.05" width="6.75" height="7.40" fill="#bfbfbf"/>
<rect x="218.35" y="102.05" width="6.75" height="7.40" fill="#acacac"/>
<rect x="224.40" y="102.05" width="6.75" height="7.40" fill="#9a9a9a"/>
<rect x="230.45" y="102.05" width="6.75" height="7.40" fill="#949494"/>
<rect x="236.49" y="102.05" width="6.75" height="7.40" fill="#8d8d8d"/>
<rect x="242.54" y="102.05" width="6.75" height="7.40" fill="#8d8d8d"/>
<rect x="248.58" y="102.05" width="6.75" height="7.40" fill="#8d8d8d"/>
<rect x="254.63" y="102.05" width="6.75" height="7.40" fill="#878787"/>
<rect x="260.68" y="102.05" width="6.75" height="7.40" fill="#747474"/>
<rect x="266.72" y="102.05" width="6.75" height="7.40" fill="#686868"/>
<rect x="272.77" y="102.05" width="6.75" height="7.40" fill="#686868"/>
<rect x="278.82" y="102.05" width="6.75" height="7.40" fill="#686868"/>
<rect x="284.86" y="102.05" width="6.75" height="7.40" fill="#686868"/>
<rect x="290.91" y="102.05" width="6.75" height="7.40" fill="#686868"/>
<rect x="296.95" y="102.05" width="6.05" height="7.40" fill="#6e6e6e"/>
<rect x="67.20" y="108.74" width="6.75" height="7.40" fill="#686868"/>
<rect x="73.25" y="108.74" width="6.75" height="7.40" fill="#626262"/>
<rect x="79.29" y="108.74" width="6.75" height="7.40" fill="#5b5b5b"/>
<rect x="85.34" y="108.74" width="6.75" height="7.40" fill="#555555"/>
<rect x="91.38" y="108.74" width="6.75" height="7.40" fill="#5b5b5b"/>
<rect x="97.43" y="108.74" width="6.75" height="7.40" fill="#686868"/>
<rect x="103.48" y="108.74" width="6.75" height="7.40" fill="#747474"/>
<rect x="109.52" y="108.74" width="6.75" height="7.40" fill="#686868"/>
<rect x="115.57" y="108.74" width="6.75" height="7.40" fill="#626262"/>
<rect x="121.62" y="108.74" width="6.75" height="7.40" fill="#686868"/>
<rect x="127.66" y="108.74" width="6.75" height="7.40" fill="#818181"/>
<rect x="133.71" y="108.74" width="6.75" height="7.40" fill="#9a9a9a"/>
<rect x="139.75" y="108.74" width="6.75" height="7.40" fill="#a6a6a6"/>
<rect x="145.80" y="108.74" width="6.75" height="7.40" fill="#a6a6a6"/>
<rect x="151.85" y="108.74" width="6.75" height="7.40" fill="#acacac"/>
<rect x="157.89" y="108.74" width="6.75" height="7.40" fill="#acacac"/>
<rect x="163.94" y="108.74" width="6.75" height="7.40" fill="#a6a6a6"/>
<rect x="169.98" y="108.74" width="6.75" height="7.40" fill="#acacac"/>
<rect x="176.03" y="108.74" width="6.75" height="7.40" fill="#b9b9b9"/>
<rect x="182.08" y="108.74" width="6.75" height="7.40" fill="#b9b9b9"/>
<rect x="188.12" y="108.74" width="6.75" height="7.40" fill="#b9b9b9"/>
<rect x="194.17" y="108.74" width="6.75" height="7.40" fill="#c6c6c6"/>
<rect x="200.22" y="108.74" width="6.75" height="7.40" fill="#d2d2d2"/>
<rect x="206.26" y="108.74" width="6.75" height="7.40" fill="#cccccc"/>
<rect x="212.31" y="108.74" width="6.75" height="7.40" fill="#acacac"/>
<rect x="218.35" y="108.74" width="6.75" height="7.40" fill="#949494"/>
<rect x="224.40" y="108.74" width="6.75" height="7.40" fill="#878787"/>
<rect x="230.45" y="108.74" width="6.75" height="7.40" fill="#7a7a7a"/>
<rect x="236.49" y="108.74" width="6.75" height="7.40" fill="#747474"/>
<rect x="242.54" y="108.74" width="6.75" height="7.40" fill="#818181"/>
<rect x="248.58" y="108.74" width="6.75" height="7.40" fill="#878787"/>
<rect x="254.63" y="108.74" width="6.75" height="7.40" fill="#818181"/>
<rect x="260.68" y="108.74" width="6.75" height="7.40" fill="#818181"/>
<rect x="266.72" y="108.74" width="6.75" height="7.40" fill="#818181"/>
<rect x="272.77" y="108.74" width="6.75" height="7.40" fill="#7a7a7a"/>
<rect x="278.82" y="108.74" width="6.75" height="7.40" fill="#747474"/>
<rect x="284.86" y="108.74" width="6.75" height="7.40" fill="#747474"/>
<rect x="290.91" y="108.74" width="6.75" height="7.40" fill="#686868"/>
<rect x="296.95" y="108.74" width="6.05" height="7.40" fill="#686868"/>
<rect x="67.20" y="115.44" width="6.75" height="7.40" fill="#686868"/>
<rect x="73.25" y="115.44" width="6.75" height="7.40" fill="#5b5b5b"/>
<rect x="79.29" y="115.44" width="6.75" height="7.40" fill="#555555"/>
<rect x="85.34" y="115.44" width="6.75" height="7.40" fill="#555555"/>
<rect x="91.38" y="115.44" width="6.75" height="7.40" fill="#5b5b5b"/>
<rect x="97.43" y="115.44" width="6.75" height="7.40" fill="#686868"/>
<rect x="103.48" y="115.44" width="6.75" height="7.40" fill="#747474"/>
<rect x="109.52" y="115.44" width="6.75" height="7.40" fill="#6e6e6e"/>
<rect x="115.57" y="115.44" width="6.75" height="7.40" fill="#686868"/>
<rect x="121.62" y="115.44" width="6.75" height="7.40" fill="#747474"/>
<rect x="127.66" y="115.44" width="6.75" height="7.40" fill="#878787"/>
<rect x="133.71" y="115.44" width="6.75" height="7.40" fill="#9a9a9a"/>
<rect x="139.75" y="115.44" width="6.75" height="7.40" fill="#acacac"/>
<rect x="145.80" y="115.44" width="6.75" height="7.40" fill="#acacac"/>
<rect x="151.85" y="115.44" width="6.75" height="7.40" fill="#a6a6a6"/>
<rect x="157.89" y="115.44" width="6.75" height="7.40" fill="#a0a0a0"/>
<rect x="163.94" y="115.44" width="6.75" height="7.40" fill="#9a9a9a"/>
<rect x="169.98" y="115.44" width="6.75" height="7.40" fill="#949494"/>
<rect x="176.03" y="115.44" width="6.75" height="7.40" fill="#8d8d8d"/>
<rect x="182.08" y="115.44" width="6.75" height="7.40" fill="#8d8d8d"/>
<rect x="188.12" y="115.44" width="6.75" height="7.40" fill="#a0a0a0"/>
<rect x="194.17" y="115.44" width="6.75" height="7.40" fill="#acacac"/>
<rect x="200.22" y="115.44" width="6.75" height="7.40" fill="#c6c6c6"/>
<rect x="206.26" y="115.44" width="6.75" height="7.40" fill="#bfbfbf"/>
<rect x="212.31" y="115.44" width="6.75" height="7.40" fill="#a0a0a0"/>
<rect x="218.35" y="115.44" width="6.75" height="7.40" fill="#818181"/>
<rect x="224.40" y="115.44" width="6.75" height="7.40" fill="#6e6e6e"/>
<rect x="230.45" y="115.44" width="6.75" height="7.40" fill="#626262"/>
<rect x="236.49" y="115.44" width="6.75" height="7.40" fill="#626262"/>
<rect x="242.54" y="115.44" width="6.75" height="7.40" fill="#747474"/>
<rect x="248.58" y="115.44" width="6.75" height="7.40" fill="#818181"/>
<rect x="254.63" y="115.44" width="6.75" height="7.40" fill="#818181"/>
<rect x="260.68" y="115.44" width="6.75" height="7.40" fill="#818181"/>
<rect x="266.72" y="115.44" width="6.75" height="7.40" fill="#878787"/>
<rect x="272.77" y="115.44" width="6.75" height="7.40" fill="#878787"/>
<rect x="278.82" y="115.44" width="6.75" height="7.40" fill="#7a7a7a"/>
<rect x="284.86" y="115.44" width="6.75" height="7.40" fill="#747474"/>
<rect x="290.91" y="115.44" width="6.75" height="7.40" fill="#686868"/>
<rect x="296.95" y="115.44" width="6.05" height="7.40" fill="#626262"/>
<rect x="67.20" y="122.13" width="6.75" height="7.40" fill="#626262"/>
<rect x="73.25" y="122.13" width="6.75" height="7.40" fill="#5b5b5b"/>
<rect x="79.29" y="122.13" width="6.75" height="7.40" fill="#5b5b5b"/>
<rect x="85.34" y="122.13" width="6.75" height="7.40" fill="#5b5b5b"/>
<rect x="91.38" y="122.13" width="6.75" height="7.40" fill="#626262"/>
<rect x="97.43" y="122.13" width="6.75" height="7.40" fill="#6e6e6e"/>
<rect x="103.48" y="122.13" width="6.75" height="7.40" fill="#878787"/>
<rect x="109.52" y="122.13" width="6.75" height="7.40" fill="#8d8d8d"/>
<rect x="115.57" y="122.13" width="6.75" height="7.40" fill="#8d8d8d"/>
<rect x="121.62" y="122.13" width="6.75" height="7.40" fill="#8d8d8d"/>
<rect x="127.66" y="122.13" width="6.75" height="7.40" fill="#949494"/>
<rect x="133.71" y="122.13" width="6.75" height="7.40" fill="#9a9a9a"/>
<rect x="139.75" y="122.13" width="6.75" height="7.40" fill="#a0a0a0"/>
<rect x="145.80" y="122.13" width="6.75" height="7.40" fill="#a6a6a6"/>
<rect x="151.85" y="122.13" width="6.75" height="7.40" fill="#a0a0a0"/>
<rect x="157.89" y="122.13" width="6.75" height="7.40" fill="#9a9a9a"/>
<rect x="163.94" y="122.13" width="6.75" height="7.40" fill="#949494"/>
<rect x="169.98" y="122.13" width="6.75" height="7.40" fill="#878787"/>
<rect x="176.03" y="122.13" width="6.75" height="7.40" fill="#6e6e6e"/>
<rect x="182.08" y="122.13" width="6.75" height="7.40" fill="#686868"/>
<rect x="188.12" y="122.13" width="6.75" height="7.40" fill="#8d8d8d"/>
<rect x="194.17" y="122.13" width="6.75" height="7.40" fill="#a6a6a6"/>
<rect x="200.22" y="122.13" width="6.75" height="7.40" fill="#b9b9b9"/>
<rect x="206.26" y="122.13" width="6.75" height="7.40" fill="#a6a6a6"/>
<rect x="212.31" y="122.13" width="6.75" height="7.40" fill="#8d8d8d"/>
<rect x="218.35" y="122.13" width="6.75" height="7.40" fill="#747474"/>
<rect x="224.40" y="122.13" width="6.75" height="7.40" fill="#5b5b5b"/>
<rect x="230.45" y="122.13" width="6.75" height="7.40" fill="#4f4f4f"/>
<rect x="236.49" y="122.13" width="6.75" height="7.40" fill="#4f4f4f"/>
<rect x="242.54" y="122.13" width="6.75" height="7.40" fill="#686868"/>
<rect x="248.58" y="122.13" width="6.75" height="7.40" fill="#747474"/>
<rect x="254.63" y="122.13" width="6.75" height="7.40" fill="#7a7a7a"/>
<rect x="260.68" y="122.13" width="6.75" height="7.40" fill="#7a7a7a"/>
<rect x="266.72" y="122.13" width="6.75" height="7.40" fill="#747474"/>
<rect x="272.77" y="122.13" width="6.75" height="7.40" fill="#747474"/>
<rect x="278.82" y="122.13" width="6.75" height="7.40" fill="#747474"/>
<rect x="284.86" y="122.13" width="6.75" height="7.40" fill="#6e6e6e"/>
<rect x="290.91" y="122.13" width="6.75" height="7.40" fill="#626262"/>
<rect x="296.95" y="122.13" width="6.05" height="7.40" fill="#5b5b5b"/>
<rect x="67.20" y="128.83" width="6.75" height="7.40" fill="#626262"/>
<rect x="73.25" y="128.83" width="6.75" height="7.40" fill="#5b5b5b"/>
<rect x="79.29" y="128.83" width="6.75" height="7.40" fill="#5b5b5b"/>
<rect x="85.34" y="128.83" width="6.75" height="7.40" fill="#626262"/>
<rect x="91.38" y="128.83" width="6.75" height="7.40" fill="#686868"/>
<rect x="97.43" y="128.83" width="6.75" height="7.40" fill="#6e6e6e"/>
<rect x="103.48" y="128.83" width="6.75" height="7.40" fill="#878787"/>
<rect x="109.52" y="128.83" width="6.75" height="7.40" fill="#8d8d8d"/>
<rect x="115.57" y="128.83" width="6.75" height="7.40" fill="#8d8d8d"/>
<rect x="121.62" y="128.83" width="6.75" height="7.40" fill="#949494"/>
<rect x="127.66" y="128.83" width="6.75" height="7.40" fill="#9a9a9a"/>
<rect x="133.71" y="128.83" width="6.75" height="7.40" fill="#9a9a9a"/>
<rect x="139.75" y="128.83" width="6.75" height="7.40" fill="#a0a0a0"/>
<rect x="145.80" y="128.83" width="6.75" height="7.40" fill="#a0a0a0"/>
<rect x="151.85" y="128.83" width="6.75" height="7.40" fill="#9a9a9a"/>
<rect x="157.89" y="128.83" width="6.75" height="7.40" fill="#9a9a9a"/>
<rect x="163.94" y="128.83" width="6.75" height="7.40" fill="#8d8d8d"/>
<rect x="169.98" y="128.83" width="6.75" height="7.40" fill="#818181"/>
<rect x="176.03" y="128.83" width="6.75" height="7.40" fill="#686868"/>
<rect x="182.08" y="128.83" width="6.75" height="7.40" fill="#626262"/>
<rect x="188.12" y="128.83" width="6.75" height="7.40" fill="#878787"/>
<rect x="194.17" y="128.83" width="6.75" height="7.40" fill="#a0a0a0"/>
<rect x="200.22" y="128.83" width="6.75" height="7.40" fill="#acacac"/>
<rect x="206.26" y="128.83" width="6.75" height="7.40" fill="#9a9a9a"/>
<rect x="212.31" y="128.83" width="6.75" height="7.40" fill="#818181"/>
<rect x="218.35" y="128.83" width="6.75" height="7.40" fill="#6e6e6e"/>
<rect x="224.40" y="128.83" width="6.75" height="7.40" fill="#555555"/>
<rect x="230.45" y="128.83" width="6.75" height="7.40" fill="#484848"/>
<rect x="236.49" y="128.83" width="6.75" height="7.40" fill="#484848"/>
<rect x="242.54" y="128.83" width="6.75" height="7.40" fill="#5b5b5b"/>
<rect x="248.58" y="128.83" width="6.75" height="7.40" fill="#686868"/>
<rect x="254.63" y="128.83" width="6.75" height="7.40" fill="#6e6e6e"/>
<rect x="260.68" y="128.83" width="6.75" height="7.40" fill="#6e6e6e"/>
<rect x="266.72" y="128.83" width="6.75" height="7.40" fill="#6e6e6e"/>
<rect x="272.77" y="128.83" width="6.75" height="7.40" fill="#686868"/>
<rect x="278.82" y="128.83" width="6.75" height="7.40" fill="#6e6e6e"/>
<rect x="284.86" y="128.83" width="6.75" height="7.40" fill="#6e6e6e"/>
<rect x="290.91" y="128.83" width="6.75" height="7.40" fill="#626262"/>
<rect x="296.95" y="128.83" width="6.05" height="7.40" fill="#5b5b5b"/>
<rect x="67.20" y="135.52" width="6.75" height="7.40" fill="#686868"/>
<rect x="73.25" y="135.52" width="6.75" height="7.40" fill="#686868"/>
<rect x="79.29" y="135.52" width="6.75" height="7.40" fill="#686868"/>
<rect x="85.34" y="135.52" width="6.75" height="7.40" fill="#686868"/>
<rect x="91.38" y="135.52" width="6.75" height="7.40" fill="#6e6e6e"/>
<rect x="97.43" y="135.52" width="6.75" height="7.40" fill="#747474"/>
<rect x="103.48" y="135.52" width="6.75" height="7.40" fill="#818181"/>
<rect x="109.52" y="135.52" width="6.75" height="7.40" fill="#878787"/>
<rect x="115.57" y="135.52" width="6.75" height="7.40" fill="#878787"/>
<rect x="121.62" y="135.52" width="6.75" height="7.40" fill="#878787"/>
<rect x="127.66" y="135.52" width="6.75" height="7.40" fill="#878787"/>
<rect x="133.71" y="135.52" width="6.75" height="7.40" fill="#8d8d8d"/>
<rect x="139.75" y="135.52" width="6.75" height="7.40" fill="#878787"/>
<rect x="145.80" y="135.52" width="6.75" height="7.40" fill="#818181"/>
<rect x="151.85" y="135.52" width="6.75" height="7.40" fill="#818181"/>
<rect x="157.89" y="135.52" width="6.75" height="7.40" fill="#7a7a7a"/>
<rect x="163.94" y="135.52" width="6.75" height="7.40" fill="#747474"/>
<rect x="169.98" y="135.52" width="6.75" height="7.40" fill="#6e6e6e"/>
<rect x="176.03" y="135.52" width="6.75" height="7.40" fill="#686868"/>
<rect x="182.08" y="135.52" width="6.75" height="7.40" fill="#626262"/>
<rect x="188.12" y="135.52" width="6.75" height="7.40" fill="#818181"/>
<rect x="194.17" y="135.52" width="6.75" height="7.40" fill="#9a9a9a"/>
<rect x="200.22" y="135.52" width="6.75" height="7.40" fill="#a0a0a0"/>
<rect x="206.26" y="135.52" width="6.75" height="7.40" fill="#8d8d8d"/>
<rect x="212.31" y="135.52" width="6.75" height="7.40" fill="#747474"/>
<rect x="218.35" y="135.52" width="6.75" height="7.40" fill="#5b5b5b"/>
<rect x="224.40" y="135.52" width="6.75" height="7.40" fill="#484848"/>
<rect x="230.45" y="135.52" width="6.75" height="7.40" fill="#424242"/>
<rect x="236.49" y="135.52" width="6.75" height="7.40" fill="#424242"/>
<rect x="242.54" y="135.52" width="6.75" height="7.40" fill="#484848"/>
<rect x="248.58" y="135.52" width="6.75" height="7.40" fill="#484848"/>
<rect x="254.63" y="135.52" width="6.75" height="7.40" fill="#555555"/>
<rect x="260.68" y="135.52" width="6.75" height="7.40" fill="#686868"/>
<rect x="266.72" y="135.52" width="6.75" height="7.40" fill="#626262"/>
<rect x="272.77" y="135.52" width="6.75" height="7.40" fill="#626262"/>
<rect x="278.82" y="135.52" width="6.75" height="7.40" fill="#626262"/>
<rect x="284.86" y="135.52" width="6.75" height="7.40" fill="#626262"/>
<rect x="290.91" y="135.52" width="6.75" height="7.40" fill="#5b5b5b"/>
<rect x="296.95" y="135.52" width="6.05" height="7.40" fill="#555555"/>
<rect x="67.20" y="142.22" width="6.75" height="7.40" fill="#6e6e6e"/>
<rect x="73.25" y="142.22" width="6.75" height="7.40" fill="#6e6e6e"/>
<rect x="79.29" y="142.22" width="6.75" height="7.40" fill="#747474"/>
<rect x="85.34" y="142.22" width="6.75" height="7.40" fill="#6e6e6e"/>
<rect x="91.38" y="142.22" width="6.75" height="7.40" fill="#686868"/>
<rect x="97.43" y="142.22" width="6.75" height="7.40" fill="#6e6e6e"/>
<rect x="103.48" y="142.22" width="6.75" height="7.40" fill="#6e6e6e"/>
<rect x="109.52" y="142.22" width="6.75" height="7.40" fill="#6e6e6e"/>
<rect x="115.57" y="142.22" width="6.75" height="7.40" fill="#6e6e6e"/>
<rect x="121.62" y="142.22" width="6.75" height="7.40" fill="#6e6e6e"/>
<rect x="127.66" y="142.22" width="6.75" height="7.40" fill="#6e6e6e"/>
<rect x="133.71" y="142.22" width="6.75" height="7.40" fill="#6e6e6e"/>
<rect x="139.75" y="142.22" width="6.75" height="7.40" fill="#6e6e6e"/>
<rect x="145.80" y="142.22" width="6.75" height="7.40" fill="#686868"/>
<rect x="151.85" y="142.22" width="6.75" height="7.40" fill="#5b5b5b"/>
<rect x="157.89" y="142.22" width="6.75" height="7.40" fill="#5b5b5b"/>
<rect x="163.94" y="142.22" width="6.75" height="7.40" fill="#626262"/>
<rect x="169.98" y="142.22" width="6.75" height="7.40" fill="#626262"/>
<rect x="176.03" y="142.22" width="6.75" height="7.40" fill="#5b5b5b"/>
<rect x="182.08" y="142.22" width="6.75" height="7.40" fill="#5b5b5b"/>
<rect x="188.12" y="142.22" width="6.75" height="7.40" fill="#6e6e6e"/>
<rect x="194.17" y="142.22" width="6.75" height="7.40" fill="#7a7a7a"/>
<rect x="200.22" y="142.22" width="6.75" height="7.40" fill="#818181"/>
<rect x="206.26" y="142.22" width="6.75" height="7.40" fill="#7a7a7a"/>
<rect x="212.31" y="142.22" width="6.75" height="7.40" fill="#626262"/>
<rect x="218.35" y="142.22" width="6.75" height="7.40" fill="#555555"/>
<rect x="224.40" y="142.22" width="6.75" height="7.40" fill="#424242"/>
<rect x="230.45" y="142.22" width="6.75" height="7.40" fill="#3c3c3c"/>
<rect x="236.49" y="142.22" width="6.75" height="7.40" fill="#363636"/>
<rect x="242.54" y="142.22" width="6.75" height="7.40" fill="#363636"/>
<rect x="248.58" y="142.22" width="6.75" height="7.40" fill="#484848"/>
<rect x="254.63" y="142.22" width="6.75" height="7.40" fill="#5b5b5b"/>
<rect x="260.68" y="142.22" width="6.75" height="7.40" fill="#747474"/>
<rect x="266.72" y="142.22" width="6.75" height="7.40" fill="#7a7a7a"/>
<rect x="272.77" y="142.22" width="6.75" height="7.40" fill="#686868"/>
<rect x="278.82" y="142.22" width="6.75" height="7.40" fill="#555555"/>
<rect x="284.86" y="142.22" width="6.75" height="7.40" fill="#4f4f4f"/>
<rect x="290.91" y="142.22" width="6.75" height="7.40" fill="#4f4f4f"/>
<rect x="296.95" y="142.22" width="6.05" height="7.40" fill="#4f4f4f"/>
<rect x="67.20" y="148.91" width="6.75" height="7.40" fill="#686868"/>
<rect x="73.25" y="148.91" width="6.75" height="7.40" fill="#686868"/>
<rect x="79.29" y="148.91" width="6.75" height="7.40" fill="#686868"/>
<rect x="85.34" y="148.91" width="6.75" height="7.40" fill="#686868"/>
<rect x="91.38" y="148.91" width="6.75" height="7.40" fill="#686868"/>
<rect x="97.43" y="148.91" width="6.75" height="7.40" fill="#686868"/>
<rect x="103.48" y="148.91" width="6.75" height="7.40" fill="#686868"/>
<rect x="109.52" y="148.91" width="6.75" height="7.40" fill="#686868"/>
<rect x="115.57" y="148.91" width="6.75" height="7.40" fill="#686868"/>
<rect x="121.62" y="148.91" width="6.75" height="7.40" fill="#626262"/>
<rect x="127.66" y="148.91" width="6.75" height="7.40" fill="#626262"/>
<rect x="133.71" y="148.91" width="6.75" height="7.40" fill="#686868"/>
<rect x="139.75" y="148.91" width="6.75" height="7.40" fill="#686868"/>
<rect x="145.80" y="148.91" width="6.75" height="7.40" fill="#626262"/>
<rect x="151.85" y="148.91" width="6.75" height="7.40" fill="#555555"/>
<rect x="157.89" y="148.91" width="6.75" height="7.40" fill="#555555"/>
<rect x="163.94" y="148.91" width="6.75" height="7.40" fill="#5b5b5b"/>
<rect x="169.98" y="148.91" width="6.75" height="7.40" fill="#555555"/>
<rect x="176.03" y="148.91" width="6.75" height="7.40" fill="#4f4f4f"/>
<rect x="182.08" y="148.91" width="6.75" height="7.40" fill="#555555"/>
<rect x="188.12" y="148.91" width="6.75" height="7.40" fill="#626262"/>
<rect x="194.17" y="148.91" width="6.75" height="7.40" fill="#686868"/>
<rect x="200.22" y="148.91" width="6.75" height="7.40" fill="#6e6e6e"/>
<rect x="206.26" y="148.91" width="6.75" height="7.40" fill="#686868"/>
<rect x="212.31" y="148.91" width="6.75" height="7.40" fill="#5b5b5b"/>
<rect x="218.35" y="148.91" width="6.75" height="7.40" fill="#4f4f4f"/>
<rect x="224.40" y="148.91" width="6.75" height="7.40" fill="#424242"/>
<rect x="230.45" y="148.91" width="6.75" height="7.40" fill="#363636"/>
<rect x="236.49" y="148.91" width="6.75" height="7.40" fill="#292929"/>
<rect x="242.54" y="148.91" width="6.75" height="7.40" fill="#303030"/>
<rect x="248.58" y="148.91" width="6.75" height="7.40" fill="#424242"/>
<rect x="254.63" y="148.91" width="6.75" height="7.40" fill="#555555"/>
<rect x="260.68" y="148.91" width="6.75" height="7.40" fill="#686868"/>
<rect x="266.72" y="148.91" width="6.75" height="7.40" fill="#6e6e6e"/>
<rect x="272.77" y="148.91" width="6.75" height="7.40" fill="#626262"/>
<rect x="278.82" y="148.91" width="6.75" height="7.40" fill="#555555"/>
<rect x="284.86" y="148.91" width="6.75" height="7.40" fill="#484848"/>
<rect x="290.91" y="148.91" width="6.75" height="7.40" fill="#424242"/>
<rect x="296.95" y="148.91" width="6.05" height="7.40" fill="#424242"/>
<rect x="67.20" y="155.61" width="6.75" height="7.40" fill="#626262"/>
<rect x="73.25" y="155.61" width="6.75" height="7.40" fill="#626262"/>
<rect x="79.29" y="155.61" width="6.75" height="7.40" fill="#626262"/>
<rect x="85.34" y="155.61" width="6.75" height="7.40" fill="#626262"/>
<rect x="91.38" y="155.61" width="6.75" height="7.40" fill="#626262"/>
<rect x="97.43" y="155.61" width="6.75" height="7.40" fill="#626262"/>
<rect x="103.48" y="155.61" width="6.75" height="7.40" fill="#626262"/>
<rect x="109.52" y="155.61" width="6.75" height="7.40" fill="#626262"/>
<rect x="115.57" y="155.61" width="6.75" height="7.40" fill="#5b5b5b"/>
<rect x="121.62" y="155.61" width="6.75" height="7.40" fill="#5b5b5b"/>
<rect x="127.66" y="155.61" width="6.75" height="7.40" fill="#555555"/>
<rect x="133.71" y="155.61" width="6.75" height="7.40" fill="#555555"/>
<rect x="139.75" y="155.61" width="6.75" height="7.40" fill="#5b5b5b"/>
<rect x="145.80" y="155.61" width="6.75" height="7.40" fill="#626262"/>
<rect x="151.85" y="155.61" width="6.75" height="7.40" fill="#626262"/>
<rect x="157.89" y="155.61" width="6.75" height="7.40" fill="#555555"/>
<rect x="163.94" y="155.61" width="6.75" height="7.40" fill="#4f4f4f"/>
<rect x="169.98" y="155.61" width="6.75" height="7.40" fill="#484848"/>
<rect x="176.03" y="155.61" width="6.75" height="7.40" fill="#424242"/>
<rect x="182.08" y="155.61" width="6.75" height="7.40" fill="#4f4f4f"/>
<rect x="188.12" y="155.61" width="6.75" height="7.40" fill="#555555"/>
<rect x="194.17" y="155.61" width="6.75" height="7.40" fill="#5b5b5b"/>
<rect x="200.22" y="155.61" width="6.75" height="7.40" fill="#5b5b5b"/>
<rect x="206.26" y="155.61" width="6.75" height="7.40" fill="#5b5b5b"/>
<rect x="212.31" y="155.61" width="6.75" height="7.40" fill="#555555"/>
<rect x="218.35" y="155.61" width="6.75" height="7.40" fill="#484848"/>
<rect x="224.40" y="155.61" width="6.75" height="7.40" fill="#424242"/>
<rect x="230.45" y="155.61" width="6.75" height="7.40" fill="#3c3c3c"/>
<rect x="236.49" y="155.61" width="6.75" height="7.40" fill="#363636"/>
<rect x="242.54" y="155.61" width="6.75" height="7.40" fill="#363636"/>
<rect x="248.58" y="155.61" width="6.75" height="7.40" fill="#424242"/>
<rect x="254.63" y="155.61" width="6.75" height="7.40" fill="#4f4f4f"/>
<rect x="260.68" y="155.61" width="6.75" height="7.40" fill="#555555"/>
<rect x="266.72" y="155.61" width="6.75" height="7.40" fill="#555555"/>
<rect x="272.77" y="155.61" width="6.75" height="7.40" fill="#4f4f4f"/>
<rect x="278.82" y="155.61" width="6.75" height="7.40" fill="#484848"/>
<rect x="284.86" y="155.61" width="6.75" height="7.40" fill="#3c3c3c"/>
<rect x="290.91" y="155.61" width="6.75" height="7.40" fill="#363636"/>
<rect x="296.95" y="155.61" width="6.05" height="7.40" fill="#3c3c3c"/>
<rect x="67.20" y="162.30" width="6.75" height="6.70" fill="#4f4f4f"/>
<rect x="73.25" y="162.30" width="6.75" height="6.70" fill="#555555"/>
<rect x="79.29" y="162.30" width="6.75" height="6.70" fill="#555555"/>
<rect x="85.34" y="162.30" width="6.75" height="6.70" fill="#555555"/>
<rect x="91.38" y="162.30" width="6.75" height="6.70" fill="#4f4f4f"/>
<rect x="97.43" y="162.30" width="6.75" height="6.70" fill="#4f4f4f"/>
<rect x="103.48" y="162.30" width="6.75" height="6.70" fill="#4f4f4f"/>
<rect x="109.52" y="162.30" width="6.75" height="6.70" fill="#4f4f4f"/>
<rect x="115.57" y="162.30" width="6.75" height="6.70" fill="#555555"/>
<rect x="121.62" y="162.30" width="6.75" height="6.70" fill="#555555"/>
<rect x="127.66" y="162.30" width="6.75" height="6.70" fill="#4f4f4f"/>
<rect x="133.71" y="162.30" width="6.75" height="6.70" fill="#484848"/>
<rect x="139.75" y="162.30" width="6.75" height="6.70" fill="#484848"/>
<rect x="145.80" y="162.30" width="6.75" height="6.70" fill="#484848"/>
<rect x="151.85" y="162.30" width="6.75" height="6.70" fill="#424242"/>
<rect x="157.89" y="162.30" width="6.75" height="6.70" fill="#484848"/>
<rect x="163.94" y="162.30" width="6.75" height="6.70" fill="#424242"/>
<rect x="169.98" y="162.30" width="6.75" height="6.70" fill="#3c3c3c"/>
<rect x="176.03" y="162.30" width="6.75" height="6.70" fill="#3c3c3c"/>
<rect x="182.08" y="162.30" width="6.75" height="6.70" fill="#424242"/>
<rect x="188.12" y="162.30" width="6.75" height="6.70" fill="#484848"/>
<rect x="194.17" y="162.30" width="6.75" height="6.70" fill="#484848"/>
<rect x="200.22" y="162.30" width="6.75" height="6.70" fill="#4f4f4f"/>
<rect x="206.26" y="162.30" width="6.75" height="6.70" fill="#4f4f4f"/>
<rect x="212.31" y="162.30" width="6.75" height="6.70" fill="#4f4f4f"/>
<rect x="218.35" y="162.30" width="6.75" height="6.70" fill="#484848"/>
<rect x="224.40" y="162.30" width="6.75" height="6.70" fill="#424242"/>
<rect x="230.45" y="162.30" width="6.75" height="6.70" fill="#424242"/>
<rect x="236.49" y="162.30" width="6.75" height="6.70" fill="#3c3c3c"/>
<rect x="242.54" y="162.30" width="6.75" height="6.70" fill="#3c3c3c"/>
<rect x="248.58" y="162.30" width="6.75" height="6.70" fill="#424242"/>
<rect x="254.63" y="162.30" width="6.75" height="6.70" fill="#484848"/>
<rect x="260.68" y="162.30" width="6.75" height="6.70" fill="#484848"/>
<rect x="266.72" y="162.30" width="6.75" height="6.70" fill="#484848"/>
<rect x="272.77" y="162.30" width="6.75" height="6.70" fill="#424242"/>
<rect x="278.82" y="162.30" width="6.75" height="6.70" fill="#424242"/>
<rect x="284.86" y="162.30" width="6.75" height="6.70" fill="#363636"/>
<rect x="290.91" y="162.30" width="6.75" height="6.70" fill="#292929"/>
<rect x="296.95" y="162.30" width="6.05" height="6.70" fill="#303030"/>
<path d="M64.2 172.4v-5.2M64.2 22.6v5.2M124.7 172.4v-5.2M124.7 22.6v5.2M185.1 172.4v-5.2M185.1 22.6v5.2M245.6 172.4v-5.2M245.6 22.6v5.2M306.0 172.4v-5.2M306.0 22.6v5.2M70.2 172.4v-2.6M70.2 22.6v2.6M76.3 172.4v-2.6M76.3 22.6v2.6M82.3 172.4v-2.6M82.3 22.6v2.6M88.4 172.4v-2.6M88.4 22.6v2.6M94.4 172.4v-2.6M94.4 22.6v2.6M100.5 172.4v-2.6M100.5 22.6v2.6M106.5 172.4v-2.6M106.5 22.6v2.6M112.6 172.4v-2.6M112.6 22.6v2.6M118.6 172.4v-2.6M118.6 22.6v2.6M130.7 172.4v-2.6M130.7 22.6v2.6M136.7 172.4v-2.6M136.7 22.6v2.6M142.8 172.4v-2.6M142.8 22.6v2.6M148.8 172.4v-2.6M148.8 22.6v2.6M154.9 172.4v-2.6M154.9 22.6v2.6M160.9 172.4v-2.6M160.9 22.6v2.6M167.0 172.4v-2.6M167.0 22.6v2.6M173.0 172.4v-2.6M173.0 22.6v2.6M179.1 172.4v-2.6M179.1 22.6v2.6M191.1 172.4v-2.6M191.1 22.6v2.6M197.2 172.4v-2.6M197.2 22.6v2.6M203.2 172.4v-2.6M203.2 22.6v2.6M209.3 172.4v-2.6M209.3 22.6v2.6M215.3 172.4v-2.6M215.3 22.6v2.6M221.4 172.4v-2.6M221.4 22.6v2.6M227.4 172.4v-2.6M227.4 22.6v2.6M233.5 172.4v-2.6M233.5 22.6v2.6M239.5 172.4v-2.6M239.5 22.6v2.6M251.6 172.4v-2.6M251.6 22.6v2.6M257.6 172.4v-2.6M257.6 22.6v2.6M263.7 172.4v-2.6M263.7 22.6v2.6M269.7 172.4v-2.6M269.7 22.6v2.6M275.8 172.4v-2.6M275.8 22.6v2.6M281.8 172.4v-2.6M281.8 22.6v2.6M287.9 172.4v-2.6M287.9 22.6v2.6M293.9 172.4v-2.6M293.9 22.6v2.6M300.0 172.4v-2.6M300.0 22.6v2.6" stroke="#000" stroke-width="1.4" fill="none"/>
<path d="M64.2 39.8h5.2M306.0 39.8h-5.2M64.2 73.7h5.2M306.0 73.7h-5.2M64.2 107.5h5.2M306.0 107.5h-5.2M64.2 141.3h5.2M306.0 141.3h-5.2M64.2 168.3h2.6M306.0 168.3h-2.6M64.2 161.6h2.6M306.0 161.6h-2.6M64.2 154.8h2.6M306.0 154.8h-2.6M64.2 148.1h2.6M306.0 148.1h-2.6M64.2 134.5h2.6M306.0 134.5h-2.6M64.2 127.8h2.6M306.0 127.8h-2.6M64.2 121.0h2.6M306.0 121.0h-2.6M64.2 114.2h2.6M306.0 114.2h-2.6M64.2 100.7h2.6M306.0 100.7h-2.6M64.2 93.9h2.6M306.0 93.9h-2.6M64.2 87.2h2.6M306.0 87.2h-2.6M64.2 80.4h2.6M306.0 80.4h-2.6M64.2 66.9h2.6M306.0 66.9h-2.6M64.2 60.1h2.6M306.0 60.1h-2.6M64.2 53.4h2.6M306.0 53.4h-2.6M64.2 46.6h2.6M306.0 46.6h-2.6M64.2 33.1h2.6M306.0 33.1h-2.6M64.2 26.3h2.6M306.0 26.3h-2.6" stroke="#000" stroke-width="1.4" fill="none"/>
<text x="59.6" y="45.8" font-size="16.3" text-anchor="end" >-745</text>
<text x="59.6" y="79.6" font-size="16.3" text-anchor="end" >-750</text>
<text x="59.6" y="113.4" font-size="16.3" text-anchor="end" >-755</text>
<text x="59.6" y="147.2" font-size="16.3" text-anchor="end" >-760</text>
<text x="0" y="0" font-size="16.3" text-anchor="middle" transform="translate(16.7,97.5) rotate(-90)">Y [arcsec]</text>
<rect x="64.2" y="22.6" width="241.8" height="149.8" fill="none" stroke="#000" stroke-width="1.6"/>
<text x="64.2" y="193.8" font-size="16.3" text-anchor="middle" >-20</text>
<text x="124.7" y="193.8" font-size="16.3" text-anchor="middle" >-10</text>
<text x="185.1" y="193.8" font-size="16.3" text-anchor="middle" >0</text>
<text x="245.6" y="193.8" font-size="16.3" text-anchor="middle" >10</text>
<text x="306.0" y="193.8" font-size="16.3" text-anchor="middle" >20</text>
<text x="185.1" y="210.8" font-size="16.3" text-anchor="middle" >X [arcsec]</text>
<text x="185.1" y="14.3" font-size="21" text-anchor="middle" >(a) AIA 30.4 nm</text>
<rect x="397.40" y="28.40" width="6.76" height="7.40" fill="#909090"/>
<rect x="403.46" y="28.40" width="6.76" height="7.40" fill="#909090"/>
<rect x="409.52" y="28.40" width="6.76" height="7.40" fill="#969696"/>
<rect x="415.58" y="28.40" width="6.76" height="7.40" fill="#909090"/>
<rect x="421.65" y="28.40" width="6.76" height="7.40" fill="#8a8a8a"/>
<rect x="427.71" y="28.40" width="6.76" height="7.40" fill="#9c9c9c"/>
<rect x="433.77" y="28.40" width="6.76" height="7.40" fill="#969696"/>
<rect x="439.83" y="28.40" width="6.76" height="7.40" fill="#909090"/>
<rect x="445.89" y="28.40" width="6.76" height="7.40" fill="#8a8a8a"/>
<rect x="451.95" y="28.40" width="6.76" height="7.40" fill="#909090"/>
<rect x="458.02" y="28.40" width="6.76" height="7.40" fill="#909090"/>
<rect x="464.08" y="28.40" width="6.76" height="7.40" fill="#969696"/>
<rect x="470.14" y="28.40" width="6.76" height="7.40" fill="#909090"/>
<rect x="476.20" y="28.40" width="6.76" height="7.40" fill="#8a8a8a"/>
<rect x="482.26" y="28.40" width="6.76" height="7.40" fill="#909090"/>
<rect x="488.32" y="28.40" width="6.76" height="7.40" fill="#8a8a8a"/>
<rect x="494.38" y="28.40" width="6.76" height="7.40" fill="#909090"/>
<rect x="500.45" y="28.40" width="6.76" height="7.40" fill="#9c9c9c"/>
<rect x="506.51" y="28.40" width="6.76" height="7.40" fill="#a2a2a2"/>
<rect x="512.57" y="28.40" width="6.76" height="7.40" fill="#969696"/>
<rect x="518.63" y="28.40" width="6.76" height="7.40" fill="#909090"/>
<rect x="524.69" y="28.40" width="6.76" height="7.40" fill="#909090"/>
<rect x="530.75" y="28.40" width="6.76" height="7.40" fill="#909090"/>
<rect x="536.82" y="28.40" width="6.76" height="7.40" fill="#909090"/>
<rect x="542.88" y="28.40" width="6.76" height="7.40" fill="#909090"/>
<rect x="548.94" y="28.40" width="6.76" height="7.40" fill="#909090"/>
<rect x="555.00" y="28.40" width="6.76" height="7.40" fill="#909090"/>
<rect x="561.06" y="28.40" width="6.76" height="7.40" fill="#909090"/>
<rect x="567.12" y="28.40" width="6.76" height="7.40" fill="#909090"/>
<rect x="573.18" y="28.40" width="6.76" height="7.40" fill="#909090"/>
<rect x="579.25" y="28.40" width="6.76" height="7.40" fill="#6c6c6c"/>
<rect x="585.31" y="28.40" width="6.76" height="7.40" fill="#606060"/>
<rect x="591.37" y="28.40" width="6.76" height="7.40" fill="#848484"/>
<rect x="597.43" y="28.40" width="6.76" height="7.40" fill="#cccccc"/>
<rect x="603.49" y="28.40" width="6.76" height="7.40" fill="#ffffff"/>
<rect x="609.55" y="28.40" width="6.76" height="7.40" fill="#ffffff"/>
<rect x="615.62" y="28.40" width="6.76" height="7.40" fill="#d8d8d8"/>
<rect x="621.68" y="28.40" width="6.76" height="7.40" fill="#909090"/>
<rect x="627.74" y="28.40" width="6.06" height="7.40" fill="#848484"/>
<rect x="397.40" y="35.10" width="6.76" height="7.40" fill="#909090"/>
<rect x="403.46" y="35.10" width="6.76" height="7.40" fill="#909090"/>
<rect x="409.52" y="35.10" width="6.76" height="7.40" fill="#8a8a8a"/>
<rect x="415.58" y="35.10" width="6.76" height="7.40" fill="#848484"/>
<rect x="421.65" y="35.10" width="6.76" height="7.40" fill="#909090"/>
<rect x="427.71" y="35.10" width="6.76" height="7.40" fill="#909090"/>
<rect x="433.77" y="35.10" width="6.76" height="7.40" fill="#909090"/>
<rect x="439.83" y="35.10" width="6.76" height="7.40" fill="#8a8a8a"/>
<rect x="445.89" y="35.10" width="6.76" height="7.40" fill="#848484"/>
<rect x="451.95" y="35.10" width="6.76" height="7.40" fill="#909090"/>
<rect x="458.02" y="35.10" width="6.76" height="7.40" fill="#a2a2a2"/>
<rect x="464.08" y="35.10" width="6.76" height="7.40" fill="#b4b4b4"/>
<rect x="470.14" y="35.10" width="6.76" height="7.40" fill="#aeaeae"/>
<rect x="476.20" y="35.10" width="6.76" height="7.40" fill="#9c9c9c"/>
<rect x="482.26" y="35.10" width="6.76" height="7.40" fill="#969696"/>
<rect x="488.32" y="35.10" width="6.76" height="7.40" fill="#a2a2a2"/>
<rect x="494.38" y="35.10" width="6.76" height="7.40" fill="#aeaeae"/>
<rect x="500.45" y="35.10" width="6.76" height="7.40" fill="#9c9c9c"/>
<rect x="506.51" y="35.10" width="6.76" height="7.40" fill="#909090"/>
<rect x="512.57" y="35.10" width="6.76" height="7.40" fill="#969696"/>
<rect x="518.63" y="35.10" width="6.76" height="7.40" fill="#909090"/>
<rect x="524.69" y="35.10" width="6.76" height="7.40" fill="#909090"/>
<rect x="530.75" y="35.10" width="6.76" height="7.40" fill="#909090"/>
<rect x="536.82" y="35.10" width="6.76" height="7.40" fill="#8a8a8a"/>
<rect x="542.88" y="35.10" width="6.76" height="7.40" fill="#848484"/>
<rect x="548.94" y="35.10" width="6.76" height="7.40" fill="#848484"/>
<rect x="555.00" y="35.10" width="6.76" height="7.40" fill="#8a8a8a"/>
<rect x="561.06" y="35.10" width="6.76" height="7.40" fill="#909090"/>
<rect x="567.12" y="35.10" width="6.76" height="7.40" fill="#848484"/>
<rect x="573.18" y="35.10" width="6.76" height="7.40" fill="#848484"/>
<rect x="579.25" y="35.10" width="6.76" height="7.40" fill="#606060"/>
<rect x="585.31" y="35.10" width="6.76" height="7.40" fill="#484848"/>
<rect x="591.37" y="35.10" width="6.76" height="7.40" fill="#606060"/>
<rect x="597.43" y="35.10" width="6.76" height="7.40" fill="#7e7e7e"/>
<rect x="603.49" y="35.10" width="6.76" height="7.40" fill="#848484"/>
<rect x="609.55" y="35.10" width="6.76" height="7.40" fill="#848484"/>
<rect x="615.62" y="35.10" width="6.76" height="7.40" fill="#848484"/>
<rect x="621.68" y="35.10" width="6.76" height="7.40" fill="#8a8a8a"/>
<rect x="627.74" y="35.10" width="6.06" height="7.40" fill="#909090"/>
<rect x="397.40" y="41.81" width="6.76" height="7.40" fill="#969696"/>
<rect x="403.46" y="41.81" width="6.76" height="7.40" fill="#969696"/>
<rect x="409.52" y="41.81" width="6.76" height="7.40" fill="#909090"/>
<rect x="415.58" y="41.81" width="6.76" height="7.40" fill="#8a8a8a"/>
<rect x="421.65" y="41.81" width="6.76" height="7.40" fill="#848484"/>
<rect x="427.71" y="41.81" width="6.76" height="7.40" fill="#848484"/>
<rect x="433.77" y="41.81" width="6.76" height="7.40" fill="#909090"/>
<rect x="439.83" y="41.81" width="6.76" height="7.40" fill="#969696"/>
<rect x="445.89" y="41.81" width="6.76" height="7.40" fill="#909090"/>
<rect x="451.95" y="41.81" width="6.76" height="7.40" fill="#b4b4b4"/>
<rect x="458.02" y="41.81" width="6.76" height="7.40" fill="#fcfcfc"/>
<rect x="464.08" y="41.81" width="6.76" height="7.40" fill="#ffffff"/>
<rect x="470.14" y="41.81" width="6.76" height="7.40" fill="#fcfcfc"/>
<rect x="476.20" y="41.81" width="6.76" height="7.40" fill="#cccccc"/>
<rect x="482.26" y="41.81" width="6.76" height="7.40" fill="#c6c6c6"/>
<rect x="488.32" y="41.81" width="6.76" height="7.40" fill="#fcfcfc"/>
<rect x="494.38" y="41.81" width="6.76" height="7.40" fill="#fcfcfc"/>
<rect x="500.45" y="41.81" width="6.76" height="7.40" fill="#a8a8a8"/>
<rect x="506.51" y="41.81" width="6.76" height="7.40" fill="#8a8a8a"/>
<rect x="512.57" y="41.81" width="6.76" height="7.40" fill="#9c9c9c"/>
<rect x="518.63" y="41.81" width="6.76" height="7.40" fill="#dedede"/>
<rect x="524.69" y="41.81" width="6.76" height="7.40" fill="#e4e4e4"/>
<rect x="530.75" y="41.81" width="6.76" height="7.40" fill="#d8d8d8"/>
<rect x="536.82" y="41.81" width="6.76" height="7.40" fill="#cccccc"/>
<rect x="542.88" y="41.81" width="6.76" height="7.40" fill="#d2d2d2"/>
<rect x="548.94" y="41.81" width="6.76" height="7.40" fill="#bababa"/>
<rect x="555.00" y="41.81" width="6.76" height="7.40" fill="#848484"/>
<rect x="561.06" y="41.81" width="6.76" height="7.40" fill="#8a8a8a"/>
<rect x="567.12" y="41.81" width="6.76" height="7.40" fill="#909090"/>
<rect x="573.18" y="41.81" width="6.76" height="7.40" fill="#909090"/>
<rect x="579.25" y="41.81" width="6.76" height="7.40" fill="#6c6c6c"/>
<rect x="585.31" y="41.81" width="6.76" height="7.40" fill="#545454"/>
<rect x="591.37" y="41.81" width="6.76" height="7.40" fill="#787878"/>
<rect x="597.43" y="41.81" width="6.76" height="7.40" fill="#848484"/>
<rect x="603.49" y="41.81" width="6.76" height="7.40" fill="#848484"/>
<rect x="609.55" y="41.81" width="6.76" height="7.40" fill="#848484"/>
<rect x="615.62" y="41.81" width="6.76" height="7.40" fill="#7e7e7e"/>
<rect x="621.68" y="41.81" width="6.76" height="7.40" fill="#7e7e7e"/>
<rect x="627.74" y="41.81" width="6.06" height="7.40" fill="#8a8a8a"/>
<rect x="397.40" y="48.51" width="6.76" height="7.40" fill="#909090"/>
<rect x="403.46" y="48.51" width="6.76" height="7.40" fill="#909090"/>
<rect x="409.52" y="48.51" width="6.76" height="7.40" fill="#909090"/>
<rect x="415.58" y="48.51" width="6.76" height="7.40" fill="#8a8a8a"/>
<rect x="421.65" y="48.51" width="6.76" height="7.40" fill="#848484"/>
<rect x="427.71" y="48.51" width="6.76" height="7.40" fill="#8a8a8a"/>
<rect x="433.77" y="48.51" width="6.76" height="7.40" fill="#969696"/>
<rect x="439.83" y="48.51" width="6.76" height="7.40" fill="#909090"/>
<rect x="445.89" y="48.51" width="6.76" height="7.40" fill="#969696"/>
<rect x="451.95" y="48.51" width="6.76" height="7.40" fill="#d8d8d8"/>
<rect x="458.02" y="48.51" width="6.76" height="7.40" fill="#ffffff"/>
<rect x="464.08" y="48.51" width="6.76" height="7.40" fill="#ffffff"/>
<rect x="470.14" y="48.51" width="6.76" height="7.40" fill="#ffffff"/>
<rect x="476.20" y="48.51" width="6.76" height="7.40" fill="#dedede"/>
<rect x="482.26" y="48.51" width="6.76" height="7.40" fill="#cccccc"/>
<rect x="488.32" y="48.51" width="6.76" height="7.40" fill="#dedede"/>
<rect x="494.38" y="48.51" width="6.76" height="7.40" fill="#cccccc"/>
<rect x="500.45" y="48.51" width="6.76" height="7.40" fill="#9c9c9c"/>
<rect x="506.51" y="48.51" width="6.76" height="7.40" fill="#8a8a8a"/>
<rect x="512.57" y="48.51" width="6.76" height="7.40" fill="#909090"/>
<rect x="518.63" y="48.51" width="6.76" height="7.40" fill="#eaeaea"/>
<rect x="524.69" y="48.51" width="6.76" height="7.40" fill="#cccccc"/>
<rect x="530.75" y="48.51" width="6.76" height="7.40" fill="#b4b4b4"/>
<rect x="536.82" y="48.51" width="6.76" height="7.40" fill="#bababa"/>
<rect x="542.88" y="48.51" width="6.76" height="7.40" fill="#dedede"/>
<rect x="548.94" y="48.51" width="6.76" height="7.40" fill="#d2d2d2"/>
<rect x="555.00" y="48.51" width="6.76" height="7.40" fill="#969696"/>
<rect x="561.06" y="48.51" width="6.76" height="7.40" fill="#848484"/>
<rect x="567.12" y="48.51" width="6.76" height="7.40" fill="#8a8a8a"/>
<rect x="573.18" y="48.51" width="6.76" height="7.40" fill="#8a8a8a"/>
<rect x="579.25" y="48.51" width="6.76" height="7.40" fill="#848484"/>
<rect x="585.31" y="48.51" width="6.76" height="7.40" fill="#848484"/>
<rect x="591.37" y="48.51" width="6.76" height="7.40" fill="#8a8a8a"/>
<rect x="597.43" y="48.51" width="6.76" height="7.40" fill="#848484"/>
<rect x="603.49" y="48.51" width="6.76" height="7.40" fill="#848484"/>
<rect x="609.55" y="48.51" width="6.76" height="7.40" fill="#848484"/>
<rect x="615.62" y="48.51" width="6.76" height="7.40" fill="#848484"/>
<rect x="621.68" y="48.51" width="6.76" height="7.40" fill="#8a8a8a"/>
<rect x="627.74" y="48.51" width="6.06" height="7.40" fill="#909090"/>
<rect x="397.40" y="55.22" width="6.76" height="7.40" fill="#909090"/>
<rect x="403.46" y="55.22" width="6.76" height="7.40" fill="#909090"/>
<rect x="409.52" y="55.22" width="6.76" height="7.40" fill="#8a8a8a"/>
<rect x="415.58" y="55.22" width="6.76" height="7.40" fill="#848484"/>
<rect x="421.65" y="55.22" width="6.76" height="7.40" fill="#7e7e7e"/>
<rect x="427.71" y="55.22" width="6.76" height="7.40" fill="#848484"/>
<rect x="433.77" y="55.22" width="6.76" height="7.40" fill="#8a8a8a"/>
<rect x="439.83" y="55.22" width="6.76" height="7.40" fill="#909090"/>
<rect x="445.89" y="55.22" width="6.76" height="7.40" fill="#909090"/>
<rect x="451.95" y="55.22" width="6.76" height="7.40" fill="#dedede"/>
<rect x="458.02" y="55.22" width="6.76" height="7.40" fill="#ffffff"/>
<rect x="464.08" y="55.22" width="6.76" height="7.40" fill="#ffffff"/>
<rect x="470.14" y="55.22" width="6.76" height="7.40" fill="#ffffff"/>
<rect x="476.20" y="55.22" width="6.76" height="7.40" fill="#d8d8d8"/>
<rect x="482.26" y="55.22" width="6.76" height="7.40" fill="#aeaeae"/>
<rect x="488.32" y="55.22" width="6.76" height="7.40" fill="#9c9c9c"/>
<rect x="494.38" y="55.22" width="6.76" height="7.40" fill="#909090"/>
<rect x="500.45" y="55.22" width="6.76" height="7.40" fill="#8a8a8a"/>
<rect x="506.51" y="55.22" width="6.76" height="7.40" fill="#848484"/>
<rect x="512.57" y="55.22" width="6.76" height="7.40" fill="#8a8a8a"/>
<rect x="518.63" y="55.22" width="6.76" height="7.40" fill="#a8a8a8"/>
<rect x="524.69" y="55.22" width="6.76" height="7.40" fill="#969696"/>
<rect x="530.75" y="55.22" width="6.76" height="7.40" fill="#969696"/>
<rect x="536.82" y="55.22" width="6.76" height="7.40" fill="#9c9c9c"/>
<rect x="542.88" y="55.22" width="6.76" height="7.40" fill="#a8a8a8"/>
<rect x="548.94" y="55.22" width="6.76" height="7.40" fill="#969696"/>
<rect x="555.00" y="55.22" width="6.76" height="7.40" fill="#8a8a8a"/>
<rect x="561.06" y="55.22" width="6.76" height="7.40" fill="#848484"/>
<rect x="567.12" y="55.22" width="6.76" height="7.40" fill="#8a8a8a"/>
<rect x="573.18" y="55.22" width="6.76" height="7.40" fill="#8a8a8a"/>
<rect x="579.25" y="55.22" width="6.76" height="7.40" fill="#848484"/>
<rect x="585.31" y="55.22" width="6.76" height="7.40" fill="#8a8a8a"/>
<rect x="591.37" y="55.22" width="6.76" height="7.40" fill="#909090"/>
<rect x="597.43" y="55.22" width="6.76" height="7.40" fill="#8a8a8a"/>
<rect x="603.49" y="55.22" width="6.76" height="7.40" fill="#7e7e7e"/>
<rect x="609.55" y="55.22" width="6.76" height="7.40" fill="#787878"/>
<rect x="615.62" y="55.22" width="6.76" height="7.40" fill="#848484"/>
<rect x="621.68" y="55.22" width="6.76" height="7.40" fill="#848484"/>
<rect x="627.74" y="55.22" width="6.06" height="7.40" fill="#909090"/>
<rect x="397.40" y="61.92" width="6.76" height="7.40" fill="#8a8a8a"/>
<rect x="403.46" y="61.92" width="6.76" height="7.40" fill="#8a8a8a"/>
<rect x="409.52" y="61.92" width="6.76" height="7.40" fill="#8a8a8a"/>
<rect x="415.58" y="61.92" width="6.76" height="7.40" fill="#848484"/>
<rect x="421.65" y="61.92" width="6.76" height="7.40" fill="#7e7e7e"/>
<rect x="427.71" y="61.92" width="6.76" height="7.40" fill="#848484"/>
<rect x="433.77" y="61.92" width="6.76" height="7.40" fill="#848484"/>
<rect x="439.83" y="61.92" width="6.76" height="7.40" fill="#8a8a8a"/>
<rect x="445.89" y="61.92" width="6.76" height="7.40" fill="#909090"/>
<rect x="451.95" y="61.92" width="6.76" height="7.40" fill="#dedede"/>
<rect x="458.02" y="61.92" width="6.76" height="7.40" fill="#ffffff"/>
<rect x="464.08" y="61.92" width="6.76" height="7.40" fill="#ffffff"/>
<rect x="470.14" y="61.92" width="6.76" height="7.40" fill="#fcfcfc"/>
<rect x="476.20" y="61.92" width="6.76" height="7.40" fill="#d8d8d8"/>
<rect x="482.26" y="61.92" width="6.76" height="7.40" fill="#a2a2a2"/>
<rect x="488.32" y="61.92" width="6.76" height="7.40" fill="#909090"/>
<rect x="494.38" y="61.92" width="6.76" height="7.40" fill="#8a8a8a"/>
<rect x="500.45" y="61.92" width="6.76" height="7.40" fill="#8a8a8a"/>
<rect x="506.51" y="61.92" width="6.76" height="7.40" fill="#8a8a8a"/>
<rect x="512.57" y="61.92" width="6.76" height="7.40" fill="#8a8a8a"/>
<rect x="518.63" y="61.92" width="6.76" height="7.40" fill="#909090"/>
<rect x="524.69" y="61.92" width="6.76" height="7.40" fill="#848484"/>
<rect x="530.75" y="61.92" width="6.76" height="7.40" fill="#727272"/>
<rect x="536.82" y="61.92" width="6.76" height="7.40" fill="#727272"/>
<rect x="542.88" y="61.92" width="6.76" height="7.40" fill="#7e7e7e"/>
<rect x="548.94" y="61.92" width="6.76" height="7.40" fill="#787878"/>
<rect x="555.00" y="61.92" width="6.76" height="7.40" fill="#727272"/>
<rect x="561.06" y="61.92" width="6.76" height="7.40" fill="#787878"/>
<rect x="567.12" y="61.92" width="6.76" height="7.40" fill="#848484"/>
<rect x="573.18" y="61.92" width="6.76" height="7.40" fill="#848484"/>
<rect x="579.25" y="61.92" width="6.76" height="7.40" fill="#848484"/>
<rect x="585.31" y="61.92" width="6.76" height="7.40" fill="#7e7e7e"/>
<rect x="591.37" y="61.92" width="6.76" height="7.40" fill="#8a8a8a"/>
<rect x="597.43" y="61.92" width="6.76" height="7.40" fill="#8a8a8a"/>
<rect x="603.49" y="61.92" width="6.76" height="7.40" fill="#7e7e7e"/>
<rect x="609.55" y="61.92" width="6.76" height="7.40" fill="#848484"/>
<rect x="615.62" y="61.92" width="6.76" height="7.40" fill="#b4b4b4"/>
<rect x="621.68" y="61.92" width="6.76" height="7.40" fill="#c0c0c0"/>
<rect x="627.74" y="61.92" width="6.06" height="7.40" fill="#969696"/>
<rect x="397.40" y="68.63" width="6.76" height="7.40" fill="#848484"/>
<rect x="403.46" y="68.63" width="6.76" height="7.40" fill="#848484"/>
<rect x="409.52" y="68.63" width="6.76" height="7.40" fill="#848484"/>
<rect x="415.58" y="68.63" width="6.76" height="7.40" fill="#7e7e7e"/>
<rect x="421.65" y="68.63" width="6.76" height="7.40" fill="#848484"/>
<rect x="427.71" y="68.63" width="6.76" height="7.40" fill="#909090"/>
<rect x="433.77" y="68.63" width="6.76" height="7.40" fill="#7e7e7e"/>
<rect x="439.83" y="68.63" width="6.76" height="7.40" fill="#727272"/>
<rect x="445.89" y="68.63" width="6.76" height="7.40" fill="#848484"/>
<rect x="451.95" y="68.63" width="6.76" height="7.40" fill="#cccccc"/>
<rect x="458.02" y="68.63" width="6.76" height="7.40" fill="#f6f6f6"/>
<rect x="464.08" y="68.63" width="6.76" height="7.40" fill="#f6f6f6"/>
<rect x="470.14" y="68.63" width="6.76" height="7.40" fill="#dedede"/>
<rect x="476.20" y="68.63" width="6.76" height="7.40" fill="#c0c0c0"/>
<rect x="482.26" y="68.63" width="6.76" height="7.40" fill="#969696"/>
<rect x="488.32" y="68.63" width="6.76" height="7.40" fill="#909090"/>
<rect x="494.38" y="68.63" width="6.76" height="7.40" fill="#8a8a8a"/>
<rect x="500.45" y="68.63" width="6.76" height="7.40" fill="#909090"/>
<rect x="506.51" y="68.63" width="6.76" height="7.40" fill="#7e7e7e"/>
<rect x="512.57" y="68.63" width="6.76" height="7.40" fill="#8a8a8a"/>
<rect x="518.63" y="68.63" width="6.76" height="7.40" fill="#8a8a8a"/>
<rect x="524.69" y="68.63" width="6.76" height="7.40" fill="#848484"/>
<rect x="530.75" y="68.63" width="6.76" height="7.40" fill="#787878"/>
<rect x="536.82" y="68.63" width="6.76" height="7.40" fill="#727272"/>
<rect x="542.88" y="68.63" width="6.76" height="7.40" fill="#787878"/>
<rect x="548.94" y="68.63" width="6.76" height="7.40" fill="#727272"/>
<rect x="555.00" y="68.63" width="6.76" height="7.40" fill="#787878"/>
<rect x="561.06" y="68.63" width="6.76" height="7.40" fill="#787878"/>
<rect x="567.12" y="68.63" width="6.76" height="7.40" fill="#848484"/>
<rect x="573.18" y="68.63" width="6.76" height="7.40" fill="#848484"/>
<rect x="579.25" y="68.63" width="6.76" height="7.40" fill="#8a8a8a"/>
<rect x="585.31" y="68.63" width="6.76" height="7.40" fill="#848484"/>
<rect x="591.37" y="68.63" width="6.76" height="7.40" fill="#7e7e7e"/>
<rect x="597.43" y="68.63" width="6.76" height="7.40" fill="#848484"/>
<rect x="603.49" y="68.63" width="6.76" height="7.40" fill="#848484"/>
<rect x="609.55" y="68.63" width="6.76" height="7.40" fill="#848484"/>
<rect x="615.62" y="68.63" width="6.76" height="7.40" fill="#969696"/>
<rect x="621.68" y="68.63" width="6.76" height="7.40" fill="#a8a8a8"/>
<rect x="627.74" y="68.63" width="6.06" height="7.40" fill="#969696"/>
<rect x="397.40" y="75.33" width="6.76" height="7.40" fill="#848484"/>
<rect x="403.46" y="75.33" width="6.76" height="7.40" fill="#848484"/>
<rect x="409.52" y="75.33" width="6.76" height="7.40" fill="#8a8a8a"/>
<rect x="415.58" y="75.33" width="6.76" height="7.40" fill="#848484"/>
<rect x="421.65" y="75.33" width="6.76" height="7.40" fill="#848484"/>
<rect x="427.71" y="75.33" width="6.76" height="7.40" fill="#909090"/>
<rect x="433.77" y="75.33" width="6.76" height="7.40" fill="#848484"/>
<rect x="439.83" y="75.33" width="6.76" height="7.40" fill="#727272"/>
<rect x="445.89" y="75.33" width="6.76" height="7.40" fill="#8a8a8a"/>
<rect x="451.95" y="75.33" width="6.76" height="7.40" fill="#bababa"/>
<rect x="458.02" y="75.33" width="6.76" height="7.40" fill="#cccccc"/>
<rect x="464.08" y="75.33" width="6.76" height="7.40" fill="#cccccc"/>
<rect x="470.14" y="75.33" width="6.76" height="7.40" fill="#bababa"/>
<rect x="476.20" y="75.33" width="6.76" height="7.40" fill="#a2a2a2"/>
<rect x="482.26" y="75.33" width="6.76" height="7.40" fill="#8a8a8a"/>
<rect x="488.32" y="75.33" width="6.76" height="7.40" fill="#8a8a8a"/>
<rect x="494.38" y="75.33" width="6.76" height="7.40" fill="#8a8a8a"/>
<rect x="500.45" y="75.33" width="6.76" height="7.40" fill="#909090"/>
<rect x="506.51" y="75.33" width="6.76" height="7.40" fill="#848484"/>
<rect x="512.57" y="75.33" width="6.76" height="7.40" fill="#909090"/>
<rect x="518.63" y="75.33" width="6.76" height="7.40" fill="#848484"/>
<rect x="524.69" y="75.33" width="6.76" height="7.40" fill="#7e7e7e"/>
<rect x="530.75" y="75.33" width="6.76" height="7.40" fill="#7e7e7e"/>
<rect x="536.82" y="75.33" width="6.76" height="7.40" fill="#848484"/>
<rect x="542.88" y="75.33" width="6.76" height="7.40" fill="#787878"/>
<rect x="548.94" y="75.33" width="6.76" height="7.40" fill="#787878"/>
<rect x="555.00" y="75.33" width="6.76" height="7.40" fill="#727272"/>
<rect x="561.06" y="75.33" width="6.76" height="7.40" fill="#727272"/>
<rect x="567.12" y="75.33" width="6.76" height="7.40" fill="#7e7e7e"/>
<rect x="573.18" y="75.33" width="6.76" height="7.40" fill="#7e7e7e"/>
<rect x="579.25" y="75.33" width="6.76" height="7.40" fill="#848484"/>
<rect x="585.31" y="75.33" width="6.76" height="7.40" fill="#909090"/>
<rect x="591.37" y="75.33" width="6.76" height="7.40" fill="#969696"/>
<rect x="597.43" y="75.33" width="6.76" height="7.40" fill="#909090"/>
<rect x="603.49" y="75.33" width="6.76" height="7.40" fill="#909090"/>
<rect x="609.55" y="75.33" width="6.76" height="7.40" fill="#8a8a8a"/>
<rect x="615.62" y="75.33" width="6.76" height="7.40" fill="#8a8a8a"/>
<rect x="621.68" y="75.33" width="6.76" height="7.40" fill="#909090"/>
<rect x="627.74" y="75.33" width="6.06" height="7.40" fill="#8a8a8a"/>
<rect x="397.40" y="82.04" width="6.76" height="7.40" fill="#7e7e7e"/>
<rect x="403.46" y="82.04" width="6.76" height="7.40" fill="#7e7e7e"/>
<rect x="409.52" y="82.04" width="6.76" height="7.40" fill="#848484"/>
<rect x="415.58" y="82.04" width="6.76" height="7.40" fill="#848484"/>
<rect x="421.65" y="82.04" width="6.76" height="7.40" fill="#8a8a8a"/>
<rect x="427.71" y="82.04" width="6.76" height="7.40" fill="#8a8a8a"/>
<rect x="433.77" y="82.04" width="6.76" height="7.40" fill="#8a8a8a"/>
<rect x="439.83" y="82.04" width="6.76" height="7.40" fill="#848484"/>
<rect x="445.89" y="82.04" width="6.76" height="7.40" fill="#909090"/>
<rect x="451.95" y="82.04" width="6.76" height="7.40" fill="#9c9c9c"/>
<rect x="458.02" y="82.04" width="6.76" height="7.40" fill="#969696"/>
<rect x="464.08" y="82.04" width="6.76" height="7.40" fill="#909090"/>
<rect x="470.14" y="82.04" width="6.76" height="7.40" fill="#909090"/>
<rect x="476.20" y="82.04" width="6.76" height="7.40" fill="#8a8a8a"/>
<rect x="482.26" y="82.04" width="6.76" height="7.40" fill="#909090"/>
<rect x="488.32" y="82.04" width="6.76" height="7.40" fill="#909090"/>
<rect x="494.38" y="82.04" width="6.76" height="7.40" fill="#8a8a8a"/>
<rect x="500.45" y="82.04" width="6.76" height="7.40" fill="#909090"/>
<rect x="506.51" y="82.04" width="6.76" height="7.40" fill="#909090"/>
<rect x="512.57" y="82.04" width="6.76" height="7.40" fill="#909090"/>
<rect x="518.63" y="82.04" width="6.76" height="7.40" fill="#909090"/>
<rect x="524.69" y="82.04" width="6.76" height="7.40" fill="#909090"/>
<rect x="530.75" y="82.04" width="6.76" height="7.40" fill="#8a8a8a"/>
<rect x="536.82" y="82.04" width="6.76" height="7.40" fill="#969696"/>
<rect x="542.88" y="82.04" width="6.76" height="7.40" fill="#848484"/>
<rect x="548.94" y="82.04" width="6.76" height="7.40" fill="#7e7e7e"/>
<rect x="555.00" y="82.04" width="6.76" height="7.40" fill="#848484"/>
<rect x="561.06" y="82.04" width="6.76" height="7.40" fill="#848484"/>
<rect x="567.12" y="82.04" width="6.76" height="7.40" fill="#8a8a8a"/>
<rect x="573.18" y="82.04" width="6.76" height="7.40" fill="#8a8a8a"/>
<rect x="579.25" y="82.04" width="6.76" height="7.40" fill="#848484"/>
<rect x="585.31" y="82.04" width="6.76" height="7.40" fill="#8a8a8a"/>
<rect x="591.37" y="82.04" width="6.76" height="7.40" fill="#909090"/>
<rect x="597.43" y="82.04" width="6.76" height="7.40" fill="#9c9c9c"/>
<rect x="603.49" y="82.04" width="6.76" height="7.40" fill="#a2a2a2"/>
<rect x="609.55" y="82.04" width="6.76" height="7.40" fill="#969696"/>
<rect x="615.62" y="82.04" width="6.76" height="7.40" fill="#8a8a8a"/>
<rect x="621.68" y="82.04" width="6.76" height="7.40" fill="#909090"/>
<rect x="627.74" y="82.04" width="6.06" height="7.40" fill="#a2a2a2"/>
<rect x="397.40" y="88.74" width="6.76" height="7.40" fill="#787878"/>
<rect x="403.46" y="88.74" width="6.76" height="7.40" fill="#787878"/>
<rect x="409.52" y="88.74" width="6.76" height="7.40" fill="#848484"/>
<rect x="415.58" y="88.74" width="6.76" height="7.40" fill="#848484"/>
<rect x="421.65" y="88.74" width="6.76" height="7.40" fill="#848484"/>
<rect x="427.71" y="88.74" width="6.76" height="7.40" fill="#8a8a8a"/>
<rect x="433.77" y="88.74" width="6.76" height="7.40" fill="#909090"/>
<rect x="439.83" y="88.74" width="6.76" height="7.40" fill="#848484"/>
<rect x="445.89" y="88.74" width="6.76" height="7.40" fill="#8a8a8a"/>
<rect x="451.95" y="88.74" width="6.76" height="7.40" fill="#909090"/>
<rect x="458.02" y="88.74" width="6.76" height="7.40" fill="#848484"/>
<rect x="464.08" y="88.74" width="6.76" height="7.40" fill="#909090"/>
<rect x="470.14" y="88.74" width="6.76" height="7.40" fill="#8a8a8a"/>
<rect x="476.20" y="88.74" width="6.76" height="7.40" fill="#848484"/>
<rect x="482.26" y="88.74" width="6.76" height="7.40" fill="#909090"/>
<rect x="488.32" y="88.74" width="6.76" height="7.40" fill="#8a8a8a"/>
<rect x="494.38" y="88.74" width="6.76" height="7.40" fill="#848484"/>
<rect x="500.45" y="88.74" width="6.76" height="7.40" fill="#8a8a8a"/>
<rect x="506.51" y="88.74" width="6.76" height="7.40" fill="#8a8a8a"/>
<rect x="512.57" y="88.74" width="6.76" height="7.40" fill="#909090"/>
<rect x="518.63" y="88.74" width="6.76" height="7.40" fill="#8a8a8a"/>
<rect x="524.69" y="88.74" width="6.76" height="7.40" fill="#909090"/>
<rect x="530.75" y="88.74" width="6.76" height="7.40" fill="#909090"/>
<rect x="536.82" y="88.74" width="6.76" height="7.40" fill="#8a8a8a"/>
<rect x="542.88" y="88.74" width="6.76" height="7.40" fill="#8a8a8a"/>
<rect x="548.94" y="88.74" width="6.76" height="7.40" fill="#848484"/>
<rect x="555.00" y="88.74" width="6.76" height="7.40" fill="#909090"/>
<rect x="561.06" y="88.74" width="6.76" height="7.40" fill="#8a8a8a"/>
<rect x="567.12" y="88.74" width="6.76" height="7.40" fill="#909090"/>
<rect x="573.18" y="88.74" width="6.76" height="7.40" fill="#909090"/>
<rect x="579.25" y="88.74" width="6.76" height="7.40" fill="#848484"/>
<rect x="585.31" y="88.74" width="6.76" height="7.40" fill="#8a8a8a"/>
<rect x="591.37" y="88.74" width="6.76" height="7.40" fill="#8a8a8a"/>
<rect x="597.43" y="88.74" width="6.76" height="7.40" fill="#969696"/>
<rect x="603.49" y="88.74" width="6.76" height="7.40" fill="#969696"/>
<rect x="609.55" y="88.74" width="6.76" height="7.40" fill="#969696"/>
<rect x="615.62" y="88.74" width="6.76" height="7.40" fill="#909090"/>
<rect x="621.68" y="88.74" width="6.76" height="7.40" fill="#909090"/>
<rect x="627.74" y="88.74" width="6.06" height="7.40" fill="#909090"/>
<rect x="397.40" y="95.45" width="6.76" height="7.40" fill="#7e7e7e"/>
<rect x="403.46" y="95.45" width="6.76" height="7.40" fill="#7e7e7e"/>
<rect x="409.52" y="95.45" width="6.76" height="7.40" fill="#848484"/>
<rect x="415.58" y="95.45" width="6.76" height="7.40" fill="#848484"/>
<rect x="421.65" y="95.45" width="6.76" height="7.40" fill="#8a8a8a"/>
<rect x="427.71" y="95.45" width="6.76" height="7.40" fill="#909090"/>
<rect x="433.77" y="95.45" width="6.76" height="7.40" fill="#909090"/>
<rect x="439.83" y="95.45" width="6.76" height="7.40" fill="#8a8a8a"/>
<rect x="445.89" y="95.45" width="6.76" height="7.40" fill="#909090"/>
<rect x="451.95" y="95.45" width="6.76" height="7.40" fill="#848484"/>
<rect x="458.02" y="95.45" width="6.76" height="7.40" fill="#7e7e7e"/>
<rect x="464.08" y="95.45" width="6.76" height="7.40" fill="#909090"/>
<rect x="470.14" y="95.45" width="6.76" height="7.40" fill="#848484"/>
<rect x="476.20" y="95.45" width="6.76" height="7.40" fill="#909090"/>
<rect x="482.26" y="95.45" width="6.76" height="7.40" fill="#848484"/>
<rect x="488.32" y="95.45" width="6.76" height="7.40" fill="#8a8a8a"/>
<rect x="494.38" y="95.45" width="6.76" height="7.40" fill="#909090"/>
<rect x="500.45" y="95.45" width="6.76" height="7.40" fill="#8a8a8a"/>
<rect x="506.51" y="95.45" width="6.76" height="7.40" fill="#909090"/>
<rect x="512.57" y="95.45" width="6.76" height="7.40" fill="#969696"/>
<rect x="518.63" y="95.45" width="6.76" height="7.40" fill="#909090"/>
<rect x="524.69" y="95.45" width="6.76" height="7.40" fill="#8a8a8a"/>
<rect x="530.75" y="95.45" width="6.76" height="7.40" fill="#909090"/>
<rect x="536.82" y="95.45" width="6.76" height="7.40" fill="#969696"/>
<rect x="542.88" y="95.45" width="6.76" height="7.40" fill="#8a8a8a"/>
<rect x="548.94" y="95.45" width="6.76" height="7.40" fill="#909090"/>
<rect x="555.00" y="95.45" width="6.76" height="7.40" fill="#8a8a8a"/>
<rect x="561.06" y="95.45" width="6.76" height="7.40" fill="#8a8a8a"/>
<rect x="567.12" y="95.45" width="6.76" height="7.40" fill="#8a8a8a"/>
<rect x="573.18" y="95.45" width="6.76" height="7.40" fill="#8a8a8a"/>
<rect x="579.25" y="95.45" width="6.76" height="7.40" fill="#848484"/>
<rect x="585.31" y="95.45" width="6.76" height="7.40" fill="#848484"/>
<rect x="591.37" y="95.45" width="6.76" height="7.40" fill="#909090"/>
<rect x="597.43" y="95.45" width="6.76" height="7.40" fill="#909090"/>
<rect x="603.49" y="95.45" width="6.76" height="7.40" fill="#8a8a8a"/>
<rect x="609.55" y="95.45" width="6.76" height="7.40" fill="#8a8a8a"/>
<rect x="615.62" y="95.45" width="6.76" height="7.40" fill="#8a8a8a"/>
<rect x="621.68" y="95.45" width="6.76" height="7.40" fill="#909090"/>
<rect x="627.74" y="95.45" width="6.06" height="7.40" fill="#909090"/>
<rect x="397.40" y="102.15" width="6.76" height="7.40" fill="#8a8a8a"/>
<rect x="403.46" y="102.15" width="6.76" height="7.40" fill="#8a8a8a"/>
<rect x="409.52" y="102.15" width="6.76" height="7.40" fill="#909090"/>
<rect x="415.58" y="102.15" width="6.76" height="7.40" fill="#909090"/>
<rect x="421.65" y="102.15" width="6.76" height="7.40" fill="#8a8a8a"/>
<rect x="427.71" y="102.15" width="6.76" height="7.40" fill="#909090"/>
<rect x="433.77" y="102.15" width="6.76" height="7.40" fill="#8a8a8a"/>
<rect x="439.83" y="102.15" width="6.76" height="7.40" fill="#848484"/>
<rect x="445.89" y="102.15" width="6.76" height="7.40" fill="#8a8a8a"/>
<rect x="451.95" y="102.15" width="6.76" height="7.40" fill="#7e7e7e"/>
<rect x="458.02" y="102.15" width="6.76" height="7.40" fill="#8a8a8a"/>
<rect x="464.08" y="102.15" width="6.76" height="7.40" fill="#909090"/>
<rect x="470.14" y="102.15" width="6.76" height="7.40" fill="#909090"/>
<rect x="476.20" y="102.15" width="6.76" height="7.40" fill="#8a8a8a"/>
<rect x="482.26" y="102.15" width="6.76" height="7.40" fill="#8a8a8a"/>
<rect x="488.32" y="102.15" width="6.76" height="7.40" fill="#909090"/>
<rect x="494.38" y="102.15" width="6.76" height="7.40" fill="#909090"/>
<rect x="500.45" y="102.15" width="6.76" height="7.40" fill="#8a8a8a"/>
<rect x="506.51" y="102.15" width="6.76" height="7.40" fill="#909090"/>
<rect x="512.57" y="102.15" width="6.76" height="7.40" fill="#909090"/>
<rect x="518.63" y="102.15" width="6.76" height="7.40" fill="#8a8a8a"/>
<rect x="524.69" y="102.15" width="6.76" height="7.40" fill="#909090"/>
<rect x="530.75" y="102.15" width="6.76" height="7.40" fill="#909090"/>
<rect x="536.82" y="102.15" width="6.76" height="7.40" fill="#909090"/>
<rect x="542.88" y="102.15" width="6.76" height="7.40" fill="#969696"/>
<rect x="548.94" y="102.15" width="6.76" height="7.40" fill="#909090"/>
<rect x="555.00" y="102.15" width="6.76" height="7.40" fill="#8a8a8a"/>
<rect x="561.06" y="102.15" width="6.76" height="7.40" fill="#909090"/>
<rect x="567.12" y="102.15" width="6.76" height="7.40" fill="#6c6c6c"/>
<rect x="573.18" y="102.15" width="6.76" height="7.40" fill="#6c6c6c"/>
<rect x="579.25" y="102.15" width="6.76" height="7.40" fill="#8a8a8a"/>
<rect x="585.31" y="102.15" width="6.76" height="7.40" fill="#909090"/>
<rect x="591.37" y="102.15" width="6.76" height="7.40" fill="#969696"/>
<rect x="597.43" y="102.15" width="6.76" height="7.40" fill="#9c9c9c"/>
<rect x="603.49" y="102.15" width="6.76" height="7.40" fill="#9c9c9c"/>
<rect x="609.55" y="102.15" width="6.76" height="7.40" fill="#909090"/>
<rect x="615.62" y="102.15" width="6.76" height="7.40" fill="#909090"/>
<rect x="621.68" y="102.15" width="6.76" height="7.40" fill="#909090"/>
<rect x="627.74" y="102.15" width="6.06" height="7.40" fill="#969696"/>
<rect x="397.40" y="108.86" width="6.76" height="7.40" fill="#909090"/>
<rect x="403.46" y="108.86" width="6.76" height="7.40" fill="#909090"/>
<rect x="409.52" y="108.86" width="6.76" height="7.40" fill="#a8a8a8"/>
<rect x="415.58" y="108.86" width="6.76" height="7.40" fill="#969696"/>
<rect x="421.65" y="108.86" width="6.76" height="7.40" fill="#909090"/>
<rect x="427.71" y="108.86" width="6.76" height="7.40" fill="#909090"/>
<rect x="433.77" y="108.86" width="6.76" height="7.40" fill="#909090"/>
<rect x="439.83" y="108.86" width="6.76" height="7.40" fill="#8a8a8a"/>
<rect x="445.89" y="108.86" width="6.76" height="7.40" fill="#8a8a8a"/>
<rect x="451.95" y="108.86" width="6.76" height="7.40" fill="#909090"/>
<rect x="458.02" y="108.86" width="6.76" height="7.40" fill="#8a8a8a"/>
<rect x="464.08" y="108.86" width="6.76" height="7.40" fill="#848484"/>
<rect x="470.14" y="108.86" width="6.76" height="7.40" fill="#909090"/>
<rect x="476.20" y="108.86" width="6.76" height="7.40" fill="#9c9c9c"/>
<rect x="482.26" y="108.86" width="6.76" height="7.40" fill="#8a8a8a"/>
<rect x="488.32" y="108.86" width="6.76" height="7.40" fill="#848484"/>
<rect x="494.38" y="108.86" width="6.76" height="7.40" fill="#8a8a8a"/>
<rect x="500.45" y="108.86" width="6.76" height="7.40" fill="#848484"/>
<rect x="506.51" y="108.86" width="6.76" height="7.40" fill="#8a8a8a"/>
<rect x="512.57" y="108.86" width="6.76" height="7.40" fill="#8a8a8a"/>
<rect x="518.63" y="108.86" width="6.76" height="7.40" fill="#909090"/>
<rect x="524.69" y="108.86" width="6.76" height="7.40" fill="#909090"/>
<rect x="530.75" y="108.86" width="6.76" height="7.40" fill="#9c9c9c"/>
<rect x="536.82" y="108.86" width="6.76" height="7.40" fill="#a2a2a2"/>
<rect x="542.88" y="108.86" width="6.76" height="7.40" fill="#9c9c9c"/>
<rect x="548.94" y="108.86" width="6.76" height="7.40" fill="#909090"/>
<rect x="555.00" y="108.86" width="6.76" height="7.40" fill="#8a8a8a"/>
<rect x="561.06" y="108.86" width="6.76" height="7.40" fill="#8a8a8a"/>
<rect x="567.12" y="108.86" width="6.76" height="7.40" fill="#787878"/>
<rect x="573.18" y="108.86" width="6.76" height="7.40" fill="#787878"/>
<rect x="579.25" y="108.86" width="6.76" height="7.40" fill="#8a8a8a"/>
<rect x="585.31" y="108.86" width="6.76" height="7.40" fill="#909090"/>
<rect x="591.37" y="108.86" width="6.76" height="7.40" fill="#a2a2a2"/>
<rect x="597.43" y="108.86" width="6.76" height="7.40" fill="#a8a8a8"/>
<rect x="603.49" y="108.86" width="6.76" height="7.40" fill="#a2a2a2"/>
<rect x="609.55" y="108.86" width="6.76" height="7.40" fill="#909090"/>
<rect x="615.62" y="108.86" width="6.76" height="7.40" fill="#909090"/>
<rect x="621.68" y="108.86" width="6.76" height="7.40" fill="#909090"/>
<rect x="627.74" y="108.86" width="6.06" height="7.40" fill="#909090"/>
<rect x="397.40" y="115.56" width="6.76" height="7.40" fill="#8a8a8a"/>
<rect x="403.46" y="115.56" width="6.76" height="7.40" fill="#8a8a8a"/>
<rect x="409.52" y="115.56" width="6.76" height="7.40" fill="#8a8a8a"/>
<rect x="415.58" y="115.56" width="6.76" height="7.40" fill="#909090"/>
<rect x="421.65" y="115.56" width="6.76" height="7.40" fill="#8a8a8a"/>
<rect x="427.71" y="115.56" width="6.76" height="7.40" fill="#909090"/>
<rect x="433.77" y="115.56" width="6.76" height="7.40" fill="#909090"/>
<rect x="439.83" y="115.56" width="6.76" height="7.40" fill="#969696"/>
<rect x="445.89" y="115.56" width="6.76" height="7.40" fill="#909090"/>
<rect x="451.95" y="115.56" width="6.76" height="7.40" fill="#909090"/>
<rect x="458.02" y="115.56" width="6.76" height="7.40" fill="#9c9c9c"/>
<rect x="464.08" y="115.56" width="6.76" height="7.40" fill="#969696"/>
<rect x="470.14" y="115.56" width="6.76" height="7.40" fill="#909090"/>
<rect x="476.20" y="115.56" width="6.76" height="7.40" fill="#969696"/>
<rect x="482.26" y="115.56" width="6.76" height="7.40" fill="#848484"/>
<rect x="488.32" y="115.56" width="6.76" height="7.40" fill="#848484"/>
<rect x="494.38" y="115.56" width="6.76" height="7.40" fill="#848484"/>
<rect x="500.45" y="115.56" width="6.76" height="7.40" fill="#787878"/>
<rect x="506.51" y="115.56" width="6.76" height="7.40" fill="#7e7e7e"/>
<rect x="512.57" y="115.56" width="6.76" height="7.40" fill="#848484"/>
<rect x="518.63" y="115.56" width="6.76" height="7.40" fill="#8a8a8a"/>
<rect x="524.69" y="115.56" width="6.76" height="7.40" fill="#909090"/>
<rect x="530.75" y="115.56" width="6.76" height="7.40" fill="#9c9c9c"/>
<rect x="536.82" y="115.56" width="6.76" height="7.40" fill="#a8a8a8"/>
<rect x="542.88" y="115.56" width="6.76" height="7.40" fill="#a2a2a2"/>
<rect x="548.94" y="115.56" width="6.76" height="7.40" fill="#909090"/>
<rect x="555.00" y="115.56" width="6.76" height="7.40" fill="#8a8a8a"/>
<rect x="561.06" y="115.56" width="6.76" height="7.40" fill="#909090"/>
<rect x="567.12" y="115.56" width="6.76" height="7.40" fill="#8a8a8a"/>
<rect x="573.18" y="115.56" width="6.76" height="7.40" fill="#8a8a8a"/>
<rect x="579.25" y="115.56" width="6.76" height="7.40" fill="#8a8a8a"/>
<rect x="585.31" y="115.56" width="6.76" height="7.40" fill="#909090"/>
<rect x="591.37" y="115.56" width="6.76" height="7.40" fill="#969696"/>
<rect x="597.43" y="115.56" width="6.76" height="7.40" fill="#9c9c9c"/>
<rect x="603.49" y="115.56" width="6.76" height="7.40" fill="#9c9c9c"/>
<rect x="609.55" y="115.56" width="6.76" height="7.40" fill="#9c9c9c"/>
<rect x="615.62" y="115.56" width="6.76" height="7.40" fill="#a2a2a2"/>
<rect x="621.68" y="115.56" width="6.76" height="7.40" fill="#9c9c9c"/>
<rect x="627.74" y="115.56" width="6.06" height="7.40" fill="#909090"/>
<rect x="397.40" y="122.27" width="6.76" height="7.40" fill="#8a8a8a"/>
<rect x="403.46" y="122.27" width="6.76" height="7.40" fill="#8a8a8a"/>
<rect x="409.52" y="122.27" width="6.76" height="7.40" fill="#8a8a8a"/>
<rect x="415.58" y="122.27" width="6.76" height="7.40" fill="#848484"/>
<rect x="421.65" y="122.27" width="6.76" height="7.40" fill="#8a8a8a"/>
<rect x="427.71" y="122.27" width="6.76" height="7.40" fill="#8a8a8a"/>
<rect x="433.77" y="122.27" width="6.76" height="7.40" fill="#9c9c9c"/>
<rect x="439.83" y="122.27" width="6.76" height="7.40" fill="#909090"/>
<rect x="445.89" y="122.27" width="6.76" height="7.40" fill="#909090"/>
<rect x="451.95" y="122.27" width="6.76" height="7.40" fill="#969696"/>
<rect x="458.02" y="122.27" width="6.76" height="7.40" fill="#909090"/>
<rect x="464.08" y="122.27" width="6.76" height="7.40" fill="#909090"/>
<rect x="470.14" y="122.27" width="6.76" height="7.40" fill="#909090"/>
<rect x="476.20" y="122.27" width="6.76" height="7.40" fill="#969696"/>
<rect x="482.26" y="122.27" width="6.76" height="7.40" fill="#909090"/>
<rect x="488.32" y="122.27" width="6.76" height="7.40" fill="#8a8a8a"/>
<rect x="494.38" y="122.27" width="6.76" height="7.40" fill="#848484"/>
<rect x="500.45" y="122.27" width="6.76" height="7.40" fill="#7e7e7e"/>
<rect x="506.51" y="122.27" width="6.76" height="7.40" fill="#848484"/>
<rect x="512.57" y="122.27" width="6.76" height="7.40" fill="#909090"/>
<rect x="518.63" y="122.27" width="6.76" height="7.40" fill="#848484"/>
<rect x="524.69" y="122.27" width="6.76" height="7.40" fill="#848484"/>
<rect x="530.75" y="122.27" width="6.76" height="7.40" fill="#8a8a8a"/>
<rect x="536.82" y="122.27" width="6.76" height="7.40" fill="#8a8a8a"/>
<rect x="542.88" y="122.27" width="6.76" height="7.40" fill="#848484"/>
<rect x="548.94" y="122.27" width="6.76" height="7.40" fill="#848484"/>
<rect x="555.00" y="122.27" width="6.76" height="7.40" fill="#848484"/>
<rect x="561.06" y="122.27" width="6.76" height="7.40" fill="#8a8a8a"/>
<rect x="567.12" y="122.27" width="6.76" height="7.40" fill="#8a8a8a"/>
<rect x="573.18" y="122.27" width="6.76" height="7.40" fill="#8a8a8a"/>
<rect x="579.25" y="122.27" width="6.76" height="7.40" fill="#8a8a8a"/>
<rect x="585.31" y="122.27" width="6.76" height="7.40" fill="#909090"/>
<rect x="591.37" y="122.27" width="6.76" height="7.40" fill="#909090"/>
<rect x="597.43" y="122.27" width="6.76" height="7.40" fill="#909090"/>
<rect x="603.49" y="122.27" width="6.76" height="7.40" fill="#9c9c9c"/>
<rect x="609.55" y="122.27" width="6.76" height="7.40" fill="#b4b4b4"/>
<rect x="615.62" y="122.27" width="6.76" height="7.40" fill="#aeaeae"/>
<rect x="621.68" y="122.27" width="6.76" height="7.40" fill="#a2a2a2"/>
<rect x="627.74" y="122.27" width="6.06" height="7.40" fill="#909090"/>
<rect x="397.40" y="128.97" width="6.76" height="7.40" fill="#848484"/>
<rect x="403.46" y="128.97" width="6.76" height="7.40" fill="#848484"/>
<rect x="409.52" y="128.97" width="6.76" height="7.40" fill="#8a8a8a"/>
<rect x="415.58" y="128.97" width="6.76" height="7.40" fill="#848484"/>
<rect x="421.65" y="128.97" width="6.76" height="7.40" fill="#7e7e7e"/>
<rect x="427.71" y="128.97" width="6.76" height="7.40" fill="#848484"/>
<rect x="433.77" y="128.97" width="6.76" height="7.40" fill="#8a8a8a"/>
<rect x="439.83" y="128.97" width="6.76" height="7.40" fill="#909090"/>
<rect x="445.89" y="128.97" width="6.76" height="7.40" fill="#909090"/>
<rect x="451.95" y="128.97" width="6.76" height="7.40" fill="#909090"/>
<rect x="458.02" y="128.97" width="6.76" height="7.40" fill="#909090"/>
<rect x="464.08" y="128.97" width="6.76" height="7.40" fill="#909090"/>
<rect x="470.14" y="128.97" width="6.76" height="7.40" fill="#909090"/>
<rect x="476.20" y="128.97" width="6.76" height="7.40" fill="#909090"/>
<rect x="482.26" y="128.97" width="6.76" height="7.40" fill="#8a8a8a"/>
<rect x="488.32" y="128.97" width="6.76" height="7.40" fill="#8a8a8a"/>
<rect x="494.38" y="128.97" width="6.76" height="7.40" fill="#8a8a8a"/>
<rect x="500.45" y="128.97" width="6.76" height="7.40" fill="#848484"/>
<rect x="506.51" y="128.97" width="6.76" height="7.40" fill="#8a8a8a"/>
<rect x="512.57" y="128.97" width="6.76" height="7.40" fill="#8a8a8a"/>
<rect x="518.63" y="128.97" width="6.76" height="7.40" fill="#8a8a8a"/>
<rect x="524.69" y="128.97" width="6.76" height="7.40" fill="#8a8a8a"/>
<rect x="530.75" y="128.97" width="6.76" height="7.40" fill="#8a8a8a"/>
<rect x="536.82" y="128.97" width="6.76" height="7.40" fill="#909090"/>
<rect x="542.88" y="128.97" width="6.76" height="7.40" fill="#909090"/>
<rect x="548.94" y="128.97" width="6.76" height="7.40" fill="#8a8a8a"/>
<rect x="555.00" y="128.97" width="6.76" height="7.40" fill="#848484"/>
<rect x="561.06" y="128.97" width="6.76" height="7.40" fill="#848484"/>
<rect x="567.12" y="128.97" width="6.76" height="7.40" fill="#848484"/>
<rect x="573.18" y="128.97" width="6.76" height="7.40" fill="#848484"/>
<rect x="579.25" y="128.97" width="6.76" height="7.40" fill="#8a8a8a"/>
<rect x="585.31" y="128.97" width="6.76" height="7.40" fill="#909090"/>
<rect x="591.37" y="128.97" width="6.76" height="7.40" fill="#909090"/>
<rect x="597.43" y="128.97" width="6.76" height="7.40" fill="#909090"/>
<rect x="603.49" y="128.97" width="6.76" height="7.40" fill="#909090"/>
<rect x="609.55" y="128.97" width="6.76" height="7.40" fill="#a8a8a8"/>
<rect x="615.62" y="128.97" width="6.76" height="7.40" fill="#a2a2a2"/>
<rect x="621.68" y="128.97" width="6.76" height="7.40" fill="#9c9c9c"/>
<rect x="627.74" y="128.97" width="6.06" height="7.40" fill="#909090"/>
<rect x="397.40" y="135.68" width="6.76" height="7.40" fill="#848484"/>
<rect x="403.46" y="135.68" width="6.76" height="7.40" fill="#848484"/>
<rect x="409.52" y="135.68" width="6.76" height="7.40" fill="#7e7e7e"/>
<rect x="415.58" y="135.68" width="6.76" height="7.40" fill="#666666"/>
<rect x="421.65" y="135.68" width="6.76" height="7.40" fill="#5a5a5a"/>
<rect x="427.71" y="135.68" width="6.76" height="7.40" fill="#6c6c6c"/>
<rect x="433.77" y="135.68" width="6.76" height="7.40" fill="#727272"/>
<rect x="439.83" y="135.68" width="6.76" height="7.40" fill="#848484"/>
<rect x="445.89" y="135.68" width="6.76" height="7.40" fill="#848484"/>
<rect x="451.95" y="135.68" width="6.76" height="7.40" fill="#848484"/>
<rect x="458.02" y="135.68" width="6.76" height="7.40" fill="#8a8a8a"/>
<rect x="464.08" y="135.68" width="6.76" height="7.40" fill="#8a8a8a"/>
<rect x="470.14" y="135.68" width="6.76" height="7.40" fill="#909090"/>
<rect x="476.20" y="135.68" width="6.76" height="7.40" fill="#909090"/>
<rect x="482.26" y="135.68" width="6.76" height="7.40" fill="#8a8a8a"/>
<rect x="488.32" y="135.68" width="6.76" height="7.40" fill="#a2a2a2"/>
<rect x="494.38" y="135.68" width="6.76" height="7.40" fill="#9c9c9c"/>
<rect x="500.45" y="135.68" width="6.76" height="7.40" fill="#909090"/>
<rect x="506.51" y="135.68" width="6.76" height="7.40" fill="#8a8a8a"/>
<rect x="512.57" y="135.68" width="6.76" height="7.40" fill="#848484"/>
<rect x="518.63" y="135.68" width="6.76" height="7.40" fill="#848484"/>
<rect x="524.69" y="135.68" width="6.76" height="7.40" fill="#787878"/>
<rect x="530.75" y="135.68" width="6.76" height="7.40" fill="#848484"/>
<rect x="536.82" y="135.68" width="6.76" height="7.40" fill="#909090"/>
<rect x="542.88" y="135.68" width="6.76" height="7.40" fill="#909090"/>
<rect x="548.94" y="135.68" width="6.76" height="7.40" fill="#848484"/>
<rect x="555.00" y="135.68" width="6.76" height="7.40" fill="#848484"/>
<rect x="561.06" y="135.68" width="6.76" height="7.40" fill="#8a8a8a"/>
<rect x="567.12" y="135.68" width="6.76" height="7.40" fill="#848484"/>
<rect x="573.18" y="135.68" width="6.76" height="7.40" fill="#848484"/>
<rect x="579.25" y="135.68" width="6.76" height="7.40" fill="#848484"/>
<rect x="585.31" y="135.68" width="6.76" height="7.40" fill="#848484"/>
<rect x="591.37" y="135.68" width="6.76" height="7.40" fill="#8a8a8a"/>
<rect x="597.43" y="135.68" width="6.76" height="7.40" fill="#8a8a8a"/>
<rect x="603.49" y="135.68" width="6.76" height="7.40" fill="#8a8a8a"/>
<rect x="609.55" y="135.68" width="6.76" height="7.40" fill="#8a8a8a"/>
<rect x="615.62" y="135.68" width="6.76" height="7.40" fill="#909090"/>
<rect x="621.68" y="135.68" width="6.76" height="7.40" fill="#909090"/>
<rect x="627.74" y="135.68" width="6.06" height="7.40" fill="#8a8a8a"/>
<rect x="397.40" y="142.38" width="6.76" height="7.40" fill="#8a8a8a"/>
<rect x="403.46" y="142.38" width="6.76" height="7.40" fill="#8a8a8a"/>
<rect x="409.52" y="142.38" width="6.76" height="7.40" fill="#727272"/>
<rect x="415.58" y="142.38" width="6.76" height="7.40" fill="#6c6c6c"/>
<rect x="421.65" y="142.38" width="6.76" height="7.40" fill="#727272"/>
<rect x="427.71" y="142.38" width="6.76" height="7.40" fill="#787878"/>
<rect x="433.77" y="142.38" width="6.76" height="7.40" fill="#848484"/>
<rect x="439.83" y="142.38" width="6.76" height="7.40" fill="#aeaeae"/>
<rect x="445.89" y="142.38" width="6.76" height="7.40" fill="#aeaeae"/>
<rect x="451.95" y="142.38" width="6.76" height="7.40" fill="#909090"/>
<rect x="458.02" y="142.38" width="6.76" height="7.40" fill="#909090"/>
<rect x="464.08" y="142.38" width="6.76" height="7.40" fill="#8a8a8a"/>
<rect x="470.14" y="142.38" width="6.76" height="7.40" fill="#8a8a8a"/>
<rect x="476.20" y="142.38" width="6.76" height="7.40" fill="#909090"/>
<rect x="482.26" y="142.38" width="6.76" height="7.40" fill="#909090"/>
<rect x="488.32" y="142.38" width="6.76" height="7.40" fill="#8a8a8a"/>
<rect x="494.38" y="142.38" width="6.76" height="7.40" fill="#909090"/>
<rect x="500.45" y="142.38" width="6.76" height="7.40" fill="#8a8a8a"/>
<rect x="506.51" y="142.38" width="6.76" height="7.40" fill="#848484"/>
<rect x="512.57" y="142.38" width="6.76" height="7.40" fill="#727272"/>
<rect x="518.63" y="142.38" width="6.76" height="7.40" fill="#6c6c6c"/>
<rect x="524.69" y="142.38" width="6.76" height="7.40" fill="#606060"/>
<rect x="530.75" y="142.38" width="6.76" height="7.40" fill="#787878"/>
<rect x="536.82" y="142.38" width="6.76" height="7.40" fill="#8a8a8a"/>
<rect x="542.88" y="142.38" width="6.76" height="7.40" fill="#969696"/>
<rect x="548.94" y="142.38" width="6.76" height="7.40" fill="#8a8a8a"/>
<rect x="555.00" y="142.38" width="6.76" height="7.40" fill="#848484"/>
<rect x="561.06" y="142.38" width="6.76" height="7.40" fill="#848484"/>
<rect x="567.12" y="142.38" width="6.76" height="7.40" fill="#787878"/>
<rect x="573.18" y="142.38" width="6.76" height="7.40" fill="#787878"/>
<rect x="579.25" y="142.38" width="6.76" height="7.40" fill="#7e7e7e"/>
<rect x="585.31" y="142.38" width="6.76" height="7.40" fill="#848484"/>
<rect x="591.37" y="142.38" width="6.76" height="7.40" fill="#848484"/>
<rect x="597.43" y="142.38" width="6.76" height="7.40" fill="#7e7e7e"/>
<rect x="603.49" y="142.38" width="6.76" height="7.40" fill="#787878"/>
<rect x="609.55" y="142.38" width="6.76" height="7.40" fill="#7e7e7e"/>
<rect x="615.62" y="142.38" width="6.76" height="7.40" fill="#787878"/>
<rect x="621.68" y="142.38" width="6.76" height="7.40" fill="#848484"/>
<rect x="627.74" y="142.38" width="6.06" height="7.40" fill="#8a8a8a"/>
<rect x="397.40" y="149.09" width="6.76" height="7.40" fill="#9c9c9c"/>
<rect x="403.46" y="149.09" width="6.76" height="7.40" fill="#9c9c9c"/>
<rect x="409.52" y="149.09" width="6.76" height="7.40" fill="#8a8a8a"/>
<rect x="415.58" y="149.09" width="6.76" height="7.40" fill="#848484"/>
<rect x="421.65" y="149.09" width="6.76" height="7.40" fill="#7e7e7e"/>
<rect x="427.71" y="149.09" width="6.76" height="7.40" fill="#7e7e7e"/>
<rect x="433.77" y="149.09" width="6.76" height="7.40" fill="#969696"/>
<rect x="439.83" y="149.09" width="6.76" height="7.40" fill="#a8a8a8"/>
<rect x="445.89" y="149.09" width="6.76" height="7.40" fill="#a8a8a8"/>
<rect x="451.95" y="149.09" width="6.76" height="7.40" fill="#848484"/>
<rect x="458.02" y="149.09" width="6.76" height="7.40" fill="#8a8a8a"/>
<rect x="464.08" y="149.09" width="6.76" height="7.40" fill="#8a8a8a"/>
<rect x="470.14" y="149.09" width="6.76" height="7.40" fill="#8a8a8a"/>
<rect x="476.20" y="149.09" width="6.76" height="7.40" fill="#848484"/>
<rect x="482.26" y="149.09" width="6.76" height="7.40" fill="#8a8a8a"/>
<rect x="488.32" y="149.09" width="6.76" height="7.40" fill="#8a8a8a"/>
<rect x="494.38" y="149.09" width="6.76" height="7.40" fill="#848484"/>
<rect x="500.45" y="149.09" width="6.76" height="7.40" fill="#8a8a8a"/>
<rect x="506.51" y="149.09" width="6.76" height="7.40" fill="#787878"/>
<rect x="512.57" y="149.09" width="6.76" height="7.40" fill="#727272"/>
<rect x="518.63" y="149.09" width="6.76" height="7.40" fill="#787878"/>
<rect x="524.69" y="149.09" width="6.76" height="7.40" fill="#787878"/>
<rect x="530.75" y="149.09" width="6.76" height="7.40" fill="#848484"/>
<rect x="536.82" y="149.09" width="6.76" height="7.40" fill="#909090"/>
<rect x="542.88" y="149.09" width="6.76" height="7.40" fill="#969696"/>
<rect x="548.94" y="149.09" width="6.76" height="7.40" fill="#848484"/>
<rect x="555.00" y="149.09" width="6.76" height="7.40" fill="#848484"/>
<rect x="561.06" y="149.09" width="6.76" height="7.40" fill="#8a8a8a"/>
<rect x="567.12" y="149.09" width="6.76" height="7.40" fill="#848484"/>
<rect x="573.18" y="149.09" width="6.76" height="7.40" fill="#848484"/>
<rect x="579.25" y="149.09" width="6.76" height="7.40" fill="#787878"/>
<rect x="585.31" y="149.09" width="6.76" height="7.40" fill="#787878"/>
<rect x="591.37" y="149.09" width="6.76" height="7.40" fill="#787878"/>
<rect x="597.43" y="149.09" width="6.76" height="7.40" fill="#787878"/>
<rect x="603.49" y="149.09" width="6.76" height="7.40" fill="#6c6c6c"/>
<rect x="609.55" y="149.09" width="6.76" height="7.40" fill="#727272"/>
<rect x="615.62" y="149.09" width="6.76" height="7.40" fill="#7e7e7e"/>
<rect x="621.68" y="149.09" width="6.76" height="7.40" fill="#7e7e7e"/>
<rect x="627.74" y="149.09" width="6.06" height="7.40" fill="#848484"/>
<rect x="397.40" y="155.79" width="6.76" height="7.40" fill="#909090"/>
<rect x="403.46" y="155.79" width="6.76" height="7.40" fill="#909090"/>
<rect x="409.52" y="155.79" width="6.76" height="7.40" fill="#8a8a8a"/>
<rect x="415.58" y="155.79" width="6.76" height="7.40" fill="#8a8a8a"/>
<rect x="421.65" y="155.79" width="6.76" height="7.40" fill="#848484"/>
<rect x="427.71" y="155.79" width="6.76" height="7.40" fill="#848484"/>
<rect x="433.77" y="155.79" width="6.76" height="7.40" fill="#8a8a8a"/>
<rect x="439.83" y="155.79" width="6.76" height="7.40" fill="#8a8a8a"/>
<rect x="445.89" y="155.79" width="6.76" height="7.40" fill="#8a8a8a"/>
<rect x="451.95" y="155.79" width="6.76" height="7.40" fill="#8a8a8a"/>
<rect x="458.02" y="155.79" width="6.76" height="7.40" fill="#909090"/>
<rect x="464.08" y="155.79" width="6.76" height="7.40" fill="#969696"/>
<rect x="470.14" y="155.79" width="6.76" height="7.40" fill="#909090"/>
<rect x="476.20" y="155.79" width="6.76" height="7.40" fill="#8a8a8a"/>
<rect x="482.26" y="155.79" width="6.76" height="7.40" fill="#909090"/>
<rect x="488.32" y="155.79" width="6.76" height="7.40" fill="#8a8a8a"/>
<rect x="494.38" y="155.79" width="6.76" height="7.40" fill="#848484"/>
<rect x="500.45" y="155.79" width="6.76" height="7.40" fill="#848484"/>
<rect x="506.51" y="155.79" width="6.76" height="7.40" fill="#727272"/>
<rect x="512.57" y="155.79" width="6.76" height="7.40" fill="#6c6c6c"/>
<rect x="518.63" y="155.79" width="6.76" height="7.40" fill="#787878"/>
<rect x="524.69" y="155.79" width="6.76" height="7.40" fill="#848484"/>
<rect x="530.75" y="155.79" width="6.76" height="7.40" fill="#8a8a8a"/>
<rect x="536.82" y="155.79" width="6.76" height="7.40" fill="#909090"/>
<rect x="542.88" y="155.79" width="6.76" height="7.40" fill="#8a8a8a"/>
<rect x="548.94" y="155.79" width="6.76" height="7.40" fill="#8a8a8a"/>
<rect x="555.00" y="155.79" width="6.76" height="7.40" fill="#848484"/>
<rect x="561.06" y="155.79" width="6.76" height="7.40" fill="#848484"/>
<rect x="567.12" y="155.79" width="6.76" height="7.40" fill="#848484"/>
<rect x="573.18" y="155.79" width="6.76" height="7.40" fill="#848484"/>
<rect x="579.25" y="155.79" width="6.76" height="7.40" fill="#787878"/>
<rect x="585.31" y="155.79" width="6.76" height="7.40" fill="#787878"/>
<rect x="591.37" y="155.79" width="6.76" height="7.40" fill="#727272"/>
<rect x="597.43" y="155.79" width="6.76" height="7.40" fill="#787878"/>
<rect x="603.49" y="155.79" width="6.76" height="7.40" fill="#6c6c6c"/>
<rect x="609.55" y="155.79" width="6.76" height="7.40" fill="#666666"/>
<rect x="615.62" y="155.79" width="6.76" height="7.40" fill="#727272"/>
<rect x="621.68" y="155.79" width="6.76" height="7.40" fill="#787878"/>
<rect x="627.74" y="155.79" width="6.06" height="7.40" fill="#7e7e7e"/>
<rect x="397.40" y="162.50" width="6.76" height="6.70" fill="#8a8a8a"/>
<rect x="403.46" y="162.50" width="6.76" height="6.70" fill="#8a8a8a"/>
<rect x="409.52" y="162.50" width="6.76" height="6.70" fill="#8a8a8a"/>
<rect x="415.58" y="162.50" width="6.76" height="6.70" fill="#8a8a8a"/>
<rect x="421.65" y="162.50" width="6.76" height="6.70" fill="#8a8a8a"/>
<rect x="427.71" y="162.50" width="6.76" height="6.70" fill="#8a8a8a"/>
<rect x="433.77" y="162.50" width="6.76" height="6.70" fill="#8a8a8a"/>
<rect x="439.83" y="162.50" width="6.76" height="6.70" fill="#8a8a8a"/>
<rect x="445.89" y="162.50" width="6.76" height="6.70" fill="#8a8a8a"/>
<rect x="451.95" y="162.50" width="6.76" height="6.70" fill="#8a8a8a"/>
<rect x="458.02" y="162.50" width="6.76" height="6.70" fill="#8a8a8a"/>
<rect x="464.08" y="162.50" width="6.76" height="6.70" fill="#8a8a8a"/>
<rect x="470.14" y="162.50" width="6.76" height="6.70" fill="#8a8a8a"/>
<rect x="476.20" y="162.50" width="6.76" height="6.70" fill="#8a8a8a"/>
<rect x="482.26" y="162.50" width="6.76" height="6.70" fill="#8a8a8a"/>
<rect x="488.32" y="162.50" width="6.76" height="6.70" fill="#8a8a8a"/>
<rect x="494.38" y="162.50" width="6.76" height="6.70" fill="#8a8a8a"/>
<rect x="500.45" y="162.50" width="6.76" height="6.70" fill="#8a8a8a"/>
<rect x="506.51" y="162.50" width="6.76" height="6.70" fill="#8a8a8a"/>
<rect x="512.57" y="162.50" width="6.76" height="6.70" fill="#8a8a8a"/>
<rect x="518.63" y="162.50" width="6.76" height="6.70" fill="#848484"/>
<rect x="524.69" y="162.50" width="6.76" height="6.70" fill="#848484"/>
<rect x="530.75" y="162.50" width="6.76" height="6.70" fill="#848484"/>
<rect x="536.82" y="162.50" width="6.76" height="6.70" fill="#848484"/>
<rect x="542.88" y="162.50" width="6.76" height="6.70" fill="#848484"/>
<rect x="548.94" y="162.50" width="6.76" height="6.70" fill="#848484"/>
<rect x="555.00" y="162.50" width="6.76" height="6.70" fill="#848484"/>
<rect x="561.06" y="162.50" width="6.76" height="6.70" fill="#848484"/>
<rect x="567.12" y="162.50" width="6.76" height="6.70" fill="#848484"/>
<rect x="573.18" y="162.50" width="6.76" height="6.70" fill="#848484"/>
<rect x="579.25" y="162.50" width="6.76" height="6.70" fill="#727272"/>
<rect x="585.31" y="162.50" width="6.76" height="6.70" fill="#787878"/>
<rect x="591.37" y="162.50" width="6.76" height="6.70" fill="#787878"/>
<rect x="597.43" y="162.50" width="6.76" height="6.70" fill="#7e7e7e"/>
<rect x="603.49" y="162.50" width="6.76" height="6.70" fill="#787878"/>
<rect x="609.55" y="162.50" width="6.76" height="6.70" fill="#787878"/>
<rect x="615.62" y="162.50" width="6.76" height="6.70" fill="#727272"/>
<rect x="621.68" y="162.50" width="6.76" height="6.70" fill="#787878"/>
<rect x="627.74" y="162.50" width="6.06" height="6.70" fill="#7e7e7e"/>
<rect x="400.4" y="29.45" width="174.0" height="136.4" fill="none" stroke="#6e007d" stroke-width="7.4"/>
<path d="M462.1 41.6 L468.1 42.3 L471.5 45.3 L474.9 48.4 L480.9 48.7 L486.8 44.5 L493.6 44.5 L498.7 52.1 L494.5 59.3 L486.8 61.5 L483.4 64.9 L480.9 70.9 L470.6 73.4 L462.1 76.3 L456.2 72.6 L451.6 64.0 L451.1 57.2 L453.6 48.7 L457.9 43.6 Z M462.1 45.3 L468.1 46.2 L474.0 53.8 L479.1 58.1 L481.7 64.0 L479.1 69.1 L468.9 70.9 L458.7 69.5 L454.5 64.0 L454.0 55.5 L457.0 48.7 Z M466.4 50.4 L472.3 54.7 L474.9 59.8 L478.3 60.6 L474.0 64.0 L467.2 67.1 L460.4 64.9 L458.7 59.8 L461.3 53.8 Z M517.4 45.3 L520.9 47.0 L525.1 50.4 L531.9 51.8 L543.8 50.4 L549.8 53.0 L543.8 56.4 L532.8 53.8 L525.1 54.7 L518.3 55.5 L514.0 52.1 L514.9 47.9 Z" fill="none" stroke="#1414f0" stroke-width="1.8" stroke-linejoin="round"/>
<path d="M596.5 31.5Q606 38.5 617.5 31.5M604 32.2H611" fill="none" stroke="#1414f0" stroke-width="1.8"/>
<ellipse cx="624.3" cy="67.5" rx="1.8" ry="1.1" fill="#1414f0"/>
<path d="M587 37.3L589.2 39.5L587 41.7L584.8 39.5Z" fill="none" stroke="#e01010" stroke-width="1.5"/>
<path d="M394.3 172.4v-5.2M394.3 22.6v5.2M454.8 172.4v-5.2M454.8 22.6v5.2M515.3 172.4v-5.2M515.3 22.6v5.2M575.8 172.4v-5.2M575.8 22.6v5.2M636.3 172.4v-5.2M636.3 22.6v5.2M400.4 172.4v-2.6M400.4 22.6v2.6M406.4 172.4v-2.6M406.4 22.6v2.6M412.4 172.4v-2.6M412.4 22.6v2.6M418.5 172.4v-2.6M418.5 22.6v2.6M424.6 172.4v-2.6M424.6 22.6v2.6M430.6 172.4v-2.6M430.6 22.6v2.6M436.6 172.4v-2.6M436.6 22.6v2.6M442.7 172.4v-2.6M442.7 22.6v2.6M448.8 172.4v-2.6M448.8 22.6v2.6M460.9 172.4v-2.6M460.9 22.6v2.6M466.9 172.4v-2.6M466.9 22.6v2.6M472.9 172.4v-2.6M472.9 22.6v2.6M479.0 172.4v-2.6M479.0 22.6v2.6M485.0 172.4v-2.6M485.0 22.6v2.6M491.1 172.4v-2.6M491.1 22.6v2.6M497.1 172.4v-2.6M497.1 22.6v2.6M503.2 172.4v-2.6M503.2 22.6v2.6M509.2 172.4v-2.6M509.2 22.6v2.6M521.4 172.4v-2.6M521.4 22.6v2.6M527.4 172.4v-2.6M527.4 22.6v2.6M533.4 172.4v-2.6M533.4 22.6v2.6M539.5 172.4v-2.6M539.5 22.6v2.6M545.5 172.4v-2.6M545.5 22.6v2.6M551.6 172.4v-2.6M551.6 22.6v2.6M557.6 172.4v-2.6M557.6 22.6v2.6M563.7 172.4v-2.6M563.7 22.6v2.6M569.8 172.4v-2.6M569.8 22.6v2.6M581.8 172.4v-2.6M581.8 22.6v2.6M587.9 172.4v-2.6M587.9 22.6v2.6M593.9 172.4v-2.6M593.9 22.6v2.6M600.0 172.4v-2.6M600.0 22.6v2.6M606.0 172.4v-2.6M606.0 22.6v2.6M612.1 172.4v-2.6M612.1 22.6v2.6M618.1 172.4v-2.6M618.1 22.6v2.6M624.2 172.4v-2.6M624.2 22.6v2.6M630.2 172.4v-2.6M630.2 22.6v2.6" stroke="#000" stroke-width="1.4" fill="none"/>
<path d="M394.3 39.8h5.2M636.3 39.8h-5.2M394.3 73.7h5.2M636.3 73.7h-5.2M394.3 107.5h5.2M636.3 107.5h-5.2M394.3 141.3h5.2M636.3 141.3h-5.2M394.3 168.3h2.6M636.3 168.3h-2.6M394.3 161.6h2.6M636.3 161.6h-2.6M394.3 154.8h2.6M636.3 154.8h-2.6M394.3 148.1h2.6M636.3 148.1h-2.6M394.3 134.5h2.6M636.3 134.5h-2.6M394.3 127.8h2.6M636.3 127.8h-2.6M394.3 121.0h2.6M636.3 121.0h-2.6M394.3 114.2h2.6M636.3 114.2h-2.6M394.3 100.7h2.6M636.3 100.7h-2.6M394.3 93.9h2.6M636.3 93.9h-2.6M394.3 87.2h2.6M636.3 87.2h-2.6M394.3 80.4h2.6M636.3 80.4h-2.6M394.3 66.9h2.6M636.3 66.9h-2.6M394.3 60.1h2.6M636.3 60.1h-2.6M394.3 53.4h2.6M636.3 53.4h-2.6M394.3 46.6h2.6M636.3 46.6h-2.6M394.3 33.1h2.6M636.3 33.1h-2.6M394.3 26.3h2.6M636.3 26.3h-2.6" stroke="#000" stroke-width="1.4" fill="none"/>
<text x="389.7" y="45.8" font-size="16.3" text-anchor="end" >-745</text>
<text x="389.7" y="79.6" font-size="16.3" text-anchor="end" >-750</text>
<text x="389.7" y="113.4" font-size="16.3" text-anchor="end" >-755</text>
<text x="389.7" y="147.2" font-size="16.3" text-anchor="end" >-760</text>
<text x="0" y="0" font-size="16.3" text-anchor="middle" transform="translate(346.8,97.5) rotate(-90)">Y [arcsec]</text>
<rect x="394.3" y="22.6" width="242.0" height="149.8" fill="none" stroke="#000" stroke-width="1.6"/>
<text x="394.3" y="193.8" font-size="16.3" text-anchor="middle" >-20</text>
<text x="454.8" y="193.8" font-size="16.3" text-anchor="middle" >-10</text>
<text x="515.3" y="193.8" font-size="16.3" text-anchor="middle" >0</text>
<text x="575.8" y="193.8" font-size="16.3" text-anchor="middle" >10</text>
<text x="636.3" y="193.8" font-size="16.3" text-anchor="middle" >20</text>
<text x="515.3" y="210.8" font-size="16.3" text-anchor="middle" >X [arcsec]</text>
<text x="515.3" y="14.3" font-size="21" text-anchor="middle" >(b) HMI</text>
<rect x="68.80" y="253.50" width="6.25" height="8.28" fill="#0b0b0b"/>
<rect x="74.35" y="253.50" width="6.25" height="8.28" fill="#0f0f0f"/>
<rect x="79.90" y="253.50" width="6.25" height="8.28" fill="#131313"/>
<rect x="85.44" y="253.50" width="6.25" height="8.28" fill="#181818"/>
<rect x="90.99" y="253.50" width="6.25" height="8.28" fill="#1c1c1c"/>
<rect x="96.54" y="253.50" width="6.25" height="8.28" fill="#202020"/>
<rect x="102.09" y="253.50" width="6.25" height="8.28" fill="#242424"/>
<rect x="107.63" y="253.50" width="6.25" height="8.28" fill="#292929"/>
<rect x="113.18" y="253.50" width="6.25" height="8.28" fill="#2f2f2f"/>
<rect x="118.73" y="253.50" width="6.25" height="8.28" fill="#363636"/>
<rect x="124.28" y="253.50" width="6.25" height="8.28" fill="#404040"/>
<rect x="129.82" y="253.50" width="6.25" height="8.28" fill="#4d4d4d"/>
<rect x="135.37" y="253.50" width="6.25" height="8.28" fill="#5d5d5d"/>
<rect x="140.92" y="253.50" width="6.25" height="8.28" fill="#6f6f6f"/>
<rect x="146.47" y="253.50" width="6.25" height="8.28" fill="#808080"/>
<rect x="152.01" y="253.50" width="6.25" height="8.28" fill="#898989"/>
<rect x="157.56" y="253.50" width="6.25" height="8.28" fill="#8b8b8b"/>
<rect x="163.11" y="253.50" width="6.25" height="8.28" fill="#8a8a8a"/>
<rect x="168.66" y="253.50" width="6.25" height="8.28" fill="#858585"/>
<rect x="174.20" y="253.50" width="6.25" height="8.28" fill="#808080"/>
<rect x="179.75" y="253.50" width="6.25" height="8.28" fill="#777777"/>
<rect x="185.30" y="253.50" width="6.25" height="8.28" fill="#727272"/>
<rect x="190.85" y="253.50" width="6.25" height="8.28" fill="#787878"/>
<rect x="196.40" y="253.50" width="6.25" height="8.28" fill="#818181"/>
<rect x="201.94" y="253.50" width="6.25" height="8.28" fill="#858585"/>
<rect x="207.49" y="253.50" width="6.25" height="8.28" fill="#8a8a8a"/>
<rect x="213.04" y="253.50" width="6.25" height="8.28" fill="#8b8b8b"/>
<rect x="218.59" y="253.50" width="6.25" height="8.28" fill="#888888"/>
<rect x="224.13" y="253.50" width="6.25" height="8.28" fill="#7e7e7e"/>
<rect x="229.68" y="253.50" width="6.25" height="8.28" fill="#6c6c6c"/>
<rect x="235.23" y="253.50" width="6.25" height="8.28" fill="#5a5a5a"/>
<rect x="240.78" y="253.50" width="6.25" height="8.28" fill="#4b4b4b"/>
<rect x="246.32" y="253.50" width="6.25" height="8.28" fill="#3e3e3e"/>
<rect x="251.87" y="253.50" width="6.25" height="8.28" fill="#353535"/>
<rect x="257.42" y="253.50" width="6.25" height="8.28" fill="#2e2e2e"/>
<rect x="262.97" y="253.50" width="6.25" height="8.28" fill="#282828"/>
<rect x="268.51" y="253.50" width="6.25" height="8.28" fill="#242424"/>
<rect x="274.06" y="253.50" width="6.25" height="8.28" fill="#1f1f1f"/>
<rect x="279.61" y="253.50" width="6.25" height="8.28" fill="#1b1b1b"/>
<rect x="285.16" y="253.50" width="6.25" height="8.28" fill="#171717"/>
<rect x="290.70" y="253.50" width="6.25" height="8.28" fill="#131313"/>
<rect x="296.25" y="253.50" width="5.55" height="8.28" fill="#0e0e0e"/>
<rect x="68.80" y="261.08" width="6.25" height="8.28" fill="#0b0b0b"/>
<rect x="74.35" y="261.08" width="6.25" height="8.28" fill="#101010"/>
<rect x="79.90" y="261.08" width="6.25" height="8.28" fill="#141414"/>
<rect x="85.44" y="261.08" width="6.25" height="8.28" fill="#191919"/>
<rect x="90.99" y="261.08" width="6.25" height="8.28" fill="#1d1d1d"/>
<rect x="96.54" y="261.08" width="6.25" height="8.28" fill="#222222"/>
<rect x="102.09" y="261.08" width="6.25" height="8.28" fill="#262626"/>
<rect x="107.63" y="261.08" width="6.25" height="8.28" fill="#2b2b2b"/>
<rect x="113.18" y="261.08" width="6.25" height="8.28" fill="#323232"/>
<rect x="118.73" y="261.08" width="6.25" height="8.28" fill="#393939"/>
<rect x="124.28" y="261.08" width="6.25" height="8.28" fill="#434343"/>
<rect x="129.82" y="261.08" width="6.25" height="8.28" fill="#515151"/>
<rect x="135.37" y="261.08" width="6.25" height="8.28" fill="#626262"/>
<rect x="140.92" y="261.08" width="6.25" height="8.28" fill="#757575"/>
<rect x="146.47" y="261.08" width="6.25" height="8.28" fill="#868686"/>
<rect x="152.01" y="261.08" width="6.25" height="8.28" fill="#919191"/>
<rect x="157.56" y="261.08" width="6.25" height="8.28" fill="#939393"/>
<rect x="163.11" y="261.08" width="6.25" height="8.28" fill="#919191"/>
<rect x="168.66" y="261.08" width="6.25" height="8.28" fill="#8b8b8b"/>
<rect x="174.20" y="261.08" width="6.25" height="8.28" fill="#858585"/>
<rect x="179.75" y="261.08" width="6.25" height="8.28" fill="#7a7a7a"/>
<rect x="185.30" y="261.08" width="6.25" height="8.28" fill="#747474"/>
<rect x="190.85" y="261.08" width="6.25" height="8.28" fill="#7b7b7b"/>
<rect x="196.40" y="261.08" width="6.25" height="8.28" fill="#868686"/>
<rect x="201.94" y="261.08" width="6.25" height="8.28" fill="#8c8c8c"/>
<rect x="207.49" y="261.08" width="6.25" height="8.28" fill="#919191"/>
<rect x="213.04" y="261.08" width="6.25" height="8.28" fill="#929292"/>
<rect x="218.59" y="261.08" width="6.25" height="8.28" fill="#8f8f8f"/>
<rect x="224.13" y="261.08" width="6.25" height="8.28" fill="#848484"/>
<rect x="229.68" y="261.08" width="6.25" height="8.28" fill="#727272"/>
<rect x="235.23" y="261.08" width="6.25" height="8.28" fill="#5f5f5f"/>
<rect x="240.78" y="261.08" width="6.25" height="8.28" fill="#4f4f4f"/>
<rect x="246.32" y="261.08" width="6.25" height="8.28" fill="#424242"/>
<rect x="251.87" y="261.08" width="6.25" height="8.28" fill="#383838"/>
<rect x="257.42" y="261.08" width="6.25" height="8.28" fill="#313131"/>
<rect x="262.97" y="261.08" width="6.25" height="8.28" fill="#2b2b2b"/>
<rect x="268.51" y="261.08" width="6.25" height="8.28" fill="#262626"/>
<rect x="274.06" y="261.08" width="6.25" height="8.28" fill="#212121"/>
<rect x="279.61" y="261.08" width="6.25" height="8.28" fill="#1d1d1d"/>
<rect x="285.16" y="261.08" width="6.25" height="8.28" fill="#181818"/>
<rect x="290.70" y="261.08" width="6.25" height="8.28" fill="#141414"/>
<rect x="296.25" y="261.08" width="5.55" height="8.28" fill="#0f0f0f"/>
<rect x="68.80" y="268.66" width="6.25" height="8.28" fill="#0c0c0c"/>
<rect x="74.35" y="268.66" width="6.25" height="8.28" fill="#111111"/>
<rect x="79.90" y="268.66" width="6.25" height="8.28" fill="#161616"/>
<rect x="85.44" y="268.66" width="6.25" height="8.28" fill="#1b1b1b"/>
<rect x="90.99" y="268.66" width="6.25" height="8.28" fill="#202020"/>
<rect x="96.54" y="268.66" width="6.25" height="8.28" fill="#252525"/>
<rect x="102.09" y="268.66" width="6.25" height="8.28" fill="#2a2a2a"/>
<rect x="107.63" y="268.66" width="6.25" height="8.28" fill="#2f2f2f"/>
<rect x="113.18" y="268.66" width="6.25" height="8.28" fill="#363636"/>
<rect x="118.73" y="268.66" width="6.25" height="8.28" fill="#3d3d3d"/>
<rect x="124.28" y="268.66" width="6.25" height="8.28" fill="#484848"/>
<rect x="129.82" y="268.66" width="6.25" height="8.28" fill="#575757"/>
<rect x="135.37" y="268.66" width="6.25" height="8.28" fill="#686868"/>
<rect x="140.92" y="268.66" width="6.25" height="8.28" fill="#7c7c7c"/>
<rect x="146.47" y="268.66" width="6.25" height="8.28" fill="#8f8f8f"/>
<rect x="152.01" y="268.66" width="6.25" height="8.28" fill="#999999"/>
<rect x="157.56" y="268.66" width="6.25" height="8.28" fill="#9c9c9c"/>
<rect x="163.11" y="268.66" width="6.25" height="8.28" fill="#9a9a9a"/>
<rect x="168.66" y="268.66" width="6.25" height="8.28" fill="#929292"/>
<rect x="174.20" y="268.66" width="6.25" height="8.28" fill="#8c8c8c"/>
<rect x="179.75" y="268.66" width="6.25" height="8.28" fill="#7e7e7e"/>
<rect x="185.30" y="268.66" width="6.25" height="8.28" fill="#777777"/>
<rect x="190.85" y="268.66" width="6.25" height="8.28" fill="#7f7f7f"/>
<rect x="196.40" y="268.66" width="6.25" height="8.28" fill="#8d8d8d"/>
<rect x="201.94" y="268.66" width="6.25" height="8.28" fill="#939393"/>
<rect x="207.49" y="268.66" width="6.25" height="8.28" fill="#9a9a9a"/>
<rect x="213.04" y="268.66" width="6.25" height="8.28" fill="#9b9b9b"/>
<rect x="218.59" y="268.66" width="6.25" height="8.28" fill="#989898"/>
<rect x="224.13" y="268.66" width="6.25" height="8.28" fill="#8c8c8c"/>
<rect x="229.68" y="268.66" width="6.25" height="8.28" fill="#7a7a7a"/>
<rect x="235.23" y="268.66" width="6.25" height="8.28" fill="#666666"/>
<rect x="240.78" y="268.66" width="6.25" height="8.28" fill="#555555"/>
<rect x="246.32" y="268.66" width="6.25" height="8.28" fill="#474747"/>
<rect x="251.87" y="268.66" width="6.25" height="8.28" fill="#3c3c3c"/>
<rect x="257.42" y="268.66" width="6.25" height="8.28" fill="#353535"/>
<rect x="262.97" y="268.66" width="6.25" height="8.28" fill="#2e2e2e"/>
<rect x="268.51" y="268.66" width="6.25" height="8.28" fill="#292929"/>
<rect x="274.06" y="268.66" width="6.25" height="8.28" fill="#242424"/>
<rect x="279.61" y="268.66" width="6.25" height="8.28" fill="#1f1f1f"/>
<rect x="285.16" y="268.66" width="6.25" height="8.28" fill="#1a1a1a"/>
<rect x="290.70" y="268.66" width="6.25" height="8.28" fill="#161616"/>
<rect x="296.25" y="268.66" width="5.55" height="8.28" fill="#111111"/>
<rect x="68.80" y="276.24" width="6.25" height="8.28" fill="#0e0e0e"/>
<rect x="74.35" y="276.24" width="6.25" height="8.28" fill="#131313"/>
<rect x="79.90" y="276.24" width="6.25" height="8.28" fill="#181818"/>
<rect x="85.44" y="276.24" width="6.25" height="8.28" fill="#1e1e1e"/>
<rect x="90.99" y="276.24" width="6.25" height="8.28" fill="#232323"/>
<rect x="96.54" y="276.24" width="6.25" height="8.28" fill="#282828"/>
<rect x="102.09" y="276.24" width="6.25" height="8.28" fill="#2d2d2d"/>
<rect x="107.63" y="276.24" width="6.25" height="8.28" fill="#343434"/>
<rect x="113.18" y="276.24" width="6.25" height="8.28" fill="#3b3b3b"/>
<rect x="118.73" y="276.24" width="6.25" height="8.28" fill="#424242"/>
<rect x="124.28" y="276.24" width="6.25" height="8.28" fill="#4e4e4e"/>
<rect x="129.82" y="276.24" width="6.25" height="8.28" fill="#5d5d5d"/>
<rect x="135.37" y="276.24" width="6.25" height="8.28" fill="#6f6f6f"/>
<rect x="140.92" y="276.24" width="6.25" height="8.28" fill="#848484"/>
<rect x="146.47" y="276.24" width="6.25" height="8.28" fill="#979797"/>
<rect x="152.01" y="276.24" width="6.25" height="8.28" fill="#a2a2a2"/>
<rect x="157.56" y="276.24" width="6.25" height="8.28" fill="#a5a5a5"/>
<rect x="163.11" y="276.24" width="6.25" height="8.28" fill="#a3a3a3"/>
<rect x="168.66" y="276.24" width="6.25" height="8.28" fill="#9a9a9a"/>
<rect x="174.20" y="276.24" width="6.25" height="8.28" fill="#929292"/>
<rect x="179.75" y="276.24" width="6.25" height="8.28" fill="#828282"/>
<rect x="185.30" y="276.24" width="6.25" height="8.28" fill="#797979"/>
<rect x="190.85" y="276.24" width="6.25" height="8.28" fill="#838383"/>
<rect x="196.40" y="276.24" width="6.25" height="8.28" fill="#939393"/>
<rect x="201.94" y="276.24" width="6.25" height="8.28" fill="#9b9b9b"/>
<rect x="207.49" y="276.24" width="6.25" height="8.28" fill="#a3a3a3"/>
<rect x="213.04" y="276.24" width="6.25" height="8.28" fill="#a5a5a5"/>
<rect x="218.59" y="276.24" width="6.25" height="8.28" fill="#a1a1a1"/>
<rect x="224.13" y="276.24" width="6.25" height="8.28" fill="#959595"/>
<rect x="229.68" y="276.24" width="6.25" height="8.28" fill="#818181"/>
<rect x="235.23" y="276.24" width="6.25" height="8.28" fill="#6d6d6d"/>
<rect x="240.78" y="276.24" width="6.25" height="8.28" fill="#5b5b5b"/>
<rect x="246.32" y="276.24" width="6.25" height="8.28" fill="#4c4c4c"/>
<rect x="251.87" y="276.24" width="6.25" height="8.28" fill="#414141"/>
<rect x="257.42" y="276.24" width="6.25" height="8.28" fill="#3a3a3a"/>
<rect x="262.97" y="276.24" width="6.25" height="8.28" fill="#333333"/>
<rect x="268.51" y="276.24" width="6.25" height="8.28" fill="#2d2d2d"/>
<rect x="274.06" y="276.24" width="6.25" height="8.28" fill="#272727"/>
<rect x="279.61" y="276.24" width="6.25" height="8.28" fill="#222222"/>
<rect x="285.16" y="276.24" width="6.25" height="8.28" fill="#1d1d1d"/>
<rect x="290.70" y="276.24" width="6.25" height="8.28" fill="#181818"/>
<rect x="296.25" y="276.24" width="5.55" height="8.28" fill="#121212"/>
<rect x="68.80" y="283.82" width="6.25" height="8.28" fill="#0f0f0f"/>
<rect x="74.35" y="283.82" width="6.25" height="8.28" fill="#141414"/>
<rect x="79.90" y="283.82" width="6.25" height="8.28" fill="#1a1a1a"/>
<rect x="85.44" y="283.82" width="6.25" height="8.28" fill="#202020"/>
<rect x="90.99" y="283.82" width="6.25" height="8.28" fill="#262626"/>
<rect x="96.54" y="283.82" width="6.25" height="8.28" fill="#2c2c2c"/>
<rect x="102.09" y="283.82" width="6.25" height="8.28" fill="#313131"/>
<rect x="107.63" y="283.82" width="6.25" height="8.28" fill="#383838"/>
<rect x="113.18" y="283.82" width="6.25" height="8.28" fill="#3f3f3f"/>
<rect x="118.73" y="283.82" width="6.25" height="8.28" fill="#474747"/>
<rect x="124.28" y="283.82" width="6.25" height="8.28" fill="#535353"/>
<rect x="129.82" y="283.82" width="6.25" height="8.28" fill="#636363"/>
<rect x="135.37" y="283.82" width="6.25" height="8.28" fill="#757575"/>
<rect x="140.92" y="283.82" width="6.25" height="8.28" fill="#8a8a8a"/>
<rect x="146.47" y="283.82" width="6.25" height="8.28" fill="#9e9e9e"/>
<rect x="152.01" y="283.82" width="6.25" height="8.28" fill="#aaaaaa"/>
<rect x="157.56" y="283.82" width="6.25" height="8.28" fill="#acacac"/>
<rect x="163.11" y="283.82" width="6.25" height="8.28" fill="#aaaaaa"/>
<rect x="168.66" y="283.82" width="6.25" height="8.28" fill="#a0a0a0"/>
<rect x="174.20" y="283.82" width="6.25" height="8.28" fill="#979797"/>
<rect x="179.75" y="283.82" width="6.25" height="8.28" fill="#858585"/>
<rect x="185.30" y="283.82" width="6.25" height="8.28" fill="#7c7c7c"/>
<rect x="190.85" y="283.82" width="6.25" height="8.28" fill="#878787"/>
<rect x="196.40" y="283.82" width="6.25" height="8.28" fill="#999999"/>
<rect x="201.94" y="283.82" width="6.25" height="8.28" fill="#a1a1a1"/>
<rect x="207.49" y="283.82" width="6.25" height="8.28" fill="#aaaaaa"/>
<rect x="213.04" y="283.82" width="6.25" height="8.28" fill="#acacac"/>
<rect x="218.59" y="283.82" width="6.25" height="8.28" fill="#a8a8a8"/>
<rect x="224.13" y="283.82" width="6.25" height="8.28" fill="#9b9b9b"/>
<rect x="229.68" y="283.82" width="6.25" height="8.28" fill="#878787"/>
<rect x="235.23" y="283.82" width="6.25" height="8.28" fill="#737373"/>
<rect x="240.78" y="283.82" width="6.25" height="8.28" fill="#616161"/>
<rect x="246.32" y="283.82" width="6.25" height="8.28" fill="#515151"/>
<rect x="251.87" y="283.82" width="6.25" height="8.28" fill="#464646"/>
<rect x="257.42" y="283.82" width="6.25" height="8.28" fill="#3e3e3e"/>
<rect x="262.97" y="283.82" width="6.25" height="8.28" fill="#373737"/>
<rect x="268.51" y="283.82" width="6.25" height="8.28" fill="#313131"/>
<rect x="274.06" y="283.82" width="6.25" height="8.28" fill="#2b2b2b"/>
<rect x="279.61" y="283.82" width="6.25" height="8.28" fill="#252525"/>
<rect x="285.16" y="283.82" width="6.25" height="8.28" fill="#1f1f1f"/>
<rect x="290.70" y="283.82" width="6.25" height="8.28" fill="#1a1a1a"/>
<rect x="296.25" y="283.82" width="5.55" height="8.28" fill="#141414"/>
<rect x="68.80" y="291.39" width="6.25" height="8.28" fill="#101010"/>
<rect x="74.35" y="291.39" width="6.25" height="8.28" fill="#161616"/>
<rect x="79.90" y="291.39" width="6.25" height="8.28" fill="#1c1c1c"/>
<rect x="85.44" y="291.39" width="6.25" height="8.28" fill="#222222"/>
<rect x="90.99" y="291.39" width="6.25" height="8.28" fill="#282828"/>
<rect x="96.54" y="291.39" width="6.25" height="8.28" fill="#2e2e2e"/>
<rect x="102.09" y="291.39" width="6.25" height="8.28" fill="#353535"/>
<rect x="107.63" y="291.39" width="6.25" height="8.28" fill="#3c3c3c"/>
<rect x="113.18" y="291.39" width="6.25" height="8.28" fill="#434343"/>
<rect x="118.73" y="291.39" width="6.25" height="8.28" fill="#4b4b4b"/>
<rect x="124.28" y="291.39" width="6.25" height="8.28" fill="#575757"/>
<rect x="129.82" y="291.39" width="6.25" height="8.28" fill="#676767"/>
<rect x="135.37" y="291.39" width="6.25" height="8.28" fill="#7a7a7a"/>
<rect x="140.92" y="291.39" width="6.25" height="8.28" fill="#8f8f8f"/>
<rect x="146.47" y="291.39" width="6.25" height="8.28" fill="#a2a2a2"/>
<rect x="152.01" y="291.39" width="6.25" height="8.28" fill="#afafaf"/>
<rect x="157.56" y="291.39" width="6.25" height="8.28" fill="#b1b1b1"/>
<rect x="163.11" y="291.39" width="6.25" height="8.28" fill="#afafaf"/>
<rect x="168.66" y="291.39" width="6.25" height="8.28" fill="#a5a5a5"/>
<rect x="174.20" y="291.39" width="6.25" height="8.28" fill="#9c9c9c"/>
<rect x="179.75" y="291.39" width="6.25" height="8.28" fill="#898989"/>
<rect x="185.30" y="291.39" width="6.25" height="8.28" fill="#7f7f7f"/>
<rect x="190.85" y="291.39" width="6.25" height="8.28" fill="#8b8b8b"/>
<rect x="196.40" y="291.39" width="6.25" height="8.28" fill="#9d9d9d"/>
<rect x="201.94" y="291.39" width="6.25" height="8.28" fill="#a6a6a6"/>
<rect x="207.49" y="291.39" width="6.25" height="8.28" fill="#b0b0b0"/>
<rect x="213.04" y="291.39" width="6.25" height="8.28" fill="#b1b1b1"/>
<rect x="218.59" y="291.39" width="6.25" height="8.28" fill="#adadad"/>
<rect x="224.13" y="291.39" width="6.25" height="8.28" fill="#a0a0a0"/>
<rect x="229.68" y="291.39" width="6.25" height="8.28" fill="#8c8c8c"/>
<rect x="235.23" y="291.39" width="6.25" height="8.28" fill="#777777"/>
<rect x="240.78" y="291.39" width="6.25" height="8.28" fill="#656565"/>
<rect x="246.32" y="291.39" width="6.25" height="8.28" fill="#565656"/>
<rect x="251.87" y="291.39" width="6.25" height="8.28" fill="#4a4a4a"/>
<rect x="257.42" y="291.39" width="6.25" height="8.28" fill="#424242"/>
<rect x="262.97" y="291.39" width="6.25" height="8.28" fill="#3b3b3b"/>
<rect x="268.51" y="291.39" width="6.25" height="8.28" fill="#343434"/>
<rect x="274.06" y="291.39" width="6.25" height="8.28" fill="#2e2e2e"/>
<rect x="279.61" y="291.39" width="6.25" height="8.28" fill="#282828"/>
<rect x="285.16" y="291.39" width="6.25" height="8.28" fill="#212121"/>
<rect x="290.70" y="291.39" width="6.25" height="8.28" fill="#1b1b1b"/>
<rect x="296.25" y="291.39" width="5.55" height="8.28" fill="#151515"/>
<rect x="68.80" y="298.97" width="6.25" height="8.28" fill="#101010"/>
<rect x="74.35" y="298.97" width="6.25" height="8.28" fill="#171717"/>
<rect x="79.90" y="298.97" width="6.25" height="8.28" fill="#1d1d1d"/>
<rect x="85.44" y="298.97" width="6.25" height="8.28" fill="#242424"/>
<rect x="90.99" y="298.97" width="6.25" height="8.28" fill="#2a2a2a"/>
<rect x="96.54" y="298.97" width="6.25" height="8.28" fill="#303030"/>
<rect x="102.09" y="298.97" width="6.25" height="8.28" fill="#373737"/>
<rect x="107.63" y="298.97" width="6.25" height="8.28" fill="#3e3e3e"/>
<rect x="113.18" y="298.97" width="6.25" height="8.28" fill="#464646"/>
<rect x="118.73" y="298.97" width="6.25" height="8.28" fill="#4e4e4e"/>
<rect x="124.28" y="298.97" width="6.25" height="8.28" fill="#5a5a5a"/>
<rect x="129.82" y="298.97" width="6.25" height="8.28" fill="#6a6a6a"/>
<rect x="135.37" y="298.97" width="6.25" height="8.28" fill="#7d7d7d"/>
<rect x="140.92" y="298.97" width="6.25" height="8.28" fill="#929292"/>
<rect x="146.47" y="298.97" width="6.25" height="8.28" fill="#a6a6a6"/>
<rect x="152.01" y="298.97" width="6.25" height="8.28" fill="#b2b2b2"/>
<rect x="157.56" y="298.97" width="6.25" height="8.28" fill="#b5b5b5"/>
<rect x="163.11" y="298.97" width="6.25" height="8.28" fill="#b3b3b3"/>
<rect x="168.66" y="298.97" width="6.25" height="8.28" fill="#a8a8a8"/>
<rect x="174.20" y="298.97" width="6.25" height="8.28" fill="#9f9f9f"/>
<rect x="179.75" y="298.97" width="6.25" height="8.28" fill="#8b8b8b"/>
<rect x="185.30" y="298.97" width="6.25" height="8.28" fill="#818181"/>
<rect x="190.85" y="298.97" width="6.25" height="8.28" fill="#8d8d8d"/>
<rect x="196.40" y="298.97" width="6.25" height="8.28" fill="#a0a0a0"/>
<rect x="201.94" y="298.97" width="6.25" height="8.28" fill="#a9a9a9"/>
<rect x="207.49" y="298.97" width="6.25" height="8.28" fill="#b3b3b3"/>
<rect x="213.04" y="298.97" width="6.25" height="8.28" fill="#b5b5b5"/>
<rect x="218.59" y="298.97" width="6.25" height="8.28" fill="#b1b1b1"/>
<rect x="224.13" y="298.97" width="6.25" height="8.28" fill="#a3a3a3"/>
<rect x="229.68" y="298.97" width="6.25" height="8.28" fill="#909090"/>
<rect x="235.23" y="298.97" width="6.25" height="8.28" fill="#7b7b7b"/>
<rect x="240.78" y="298.97" width="6.25" height="8.28" fill="#686868"/>
<rect x="246.32" y="298.97" width="6.25" height="8.28" fill="#585858"/>
<rect x="251.87" y="298.97" width="6.25" height="8.28" fill="#4d4d4d"/>
<rect x="257.42" y="298.97" width="6.25" height="8.28" fill="#454545"/>
<rect x="262.97" y="298.97" width="6.25" height="8.28" fill="#3d3d3d"/>
<rect x="268.51" y="298.97" width="6.25" height="8.28" fill="#363636"/>
<rect x="274.06" y="298.97" width="6.25" height="8.28" fill="#303030"/>
<rect x="279.61" y="298.97" width="6.25" height="8.28" fill="#292929"/>
<rect x="285.16" y="298.97" width="6.25" height="8.28" fill="#232323"/>
<rect x="290.70" y="298.97" width="6.25" height="8.28" fill="#1c1c1c"/>
<rect x="296.25" y="298.97" width="5.55" height="8.28" fill="#161616"/>
<rect x="68.80" y="306.55" width="6.25" height="8.28" fill="#111111"/>
<rect x="74.35" y="306.55" width="6.25" height="8.28" fill="#171717"/>
<rect x="79.90" y="306.55" width="6.25" height="8.28" fill="#1e1e1e"/>
<rect x="85.44" y="306.55" width="6.25" height="8.28" fill="#242424"/>
<rect x="90.99" y="306.55" width="6.25" height="8.28" fill="#2b2b2b"/>
<rect x="96.54" y="306.55" width="6.25" height="8.28" fill="#313131"/>
<rect x="102.09" y="306.55" width="6.25" height="8.28" fill="#383838"/>
<rect x="107.63" y="306.55" width="6.25" height="8.28" fill="#3f3f3f"/>
<rect x="113.18" y="306.55" width="6.25" height="8.28" fill="#474747"/>
<rect x="118.73" y="306.55" width="6.25" height="8.28" fill="#4f4f4f"/>
<rect x="124.28" y="306.55" width="6.25" height="8.28" fill="#5b5b5b"/>
<rect x="129.82" y="306.55" width="6.25" height="8.28" fill="#6b6b6b"/>
<rect x="135.37" y="306.55" width="6.25" height="8.28" fill="#7e7e7e"/>
<rect x="140.92" y="306.55" width="6.25" height="8.28" fill="#939393"/>
<rect x="146.47" y="306.55" width="6.25" height="8.28" fill="#a6a6a6"/>
<rect x="152.01" y="306.55" width="6.25" height="8.28" fill="#b2b2b2"/>
<rect x="157.56" y="306.55" width="6.25" height="8.28" fill="#b5b5b5"/>
<rect x="163.11" y="306.55" width="6.25" height="8.28" fill="#b3b3b3"/>
<rect x="168.66" y="306.55" width="6.25" height="8.28" fill="#a8a8a8"/>
<rect x="174.20" y="306.55" width="6.25" height="8.28" fill="#9f9f9f"/>
<rect x="179.75" y="306.55" width="6.25" height="8.28" fill="#8d8d8d"/>
<rect x="185.30" y="306.55" width="6.25" height="8.28" fill="#838383"/>
<rect x="190.85" y="306.55" width="6.25" height="8.28" fill="#8f8f8f"/>
<rect x="196.40" y="306.55" width="6.25" height="8.28" fill="#a1a1a1"/>
<rect x="201.94" y="306.55" width="6.25" height="8.28" fill="#aaaaaa"/>
<rect x="207.49" y="306.55" width="6.25" height="8.28" fill="#b3b3b3"/>
<rect x="213.04" y="306.55" width="6.25" height="8.28" fill="#b5b5b5"/>
<rect x="218.59" y="306.55" width="6.25" height="8.28" fill="#b1b1b1"/>
<rect x="224.13" y="306.55" width="6.25" height="8.28" fill="#a3a3a3"/>
<rect x="229.68" y="306.55" width="6.25" height="8.28" fill="#909090"/>
<rect x="235.23" y="306.55" width="6.25" height="8.28" fill="#7b7b7b"/>
<rect x="240.78" y="306.55" width="6.25" height="8.28" fill="#696969"/>
<rect x="246.32" y="306.55" width="6.25" height="8.28" fill="#5a5a5a"/>
<rect x="251.87" y="306.55" width="6.25" height="8.28" fill="#4e4e4e"/>
<rect x="257.42" y="306.55" width="6.25" height="8.28" fill="#464646"/>
<rect x="262.97" y="306.55" width="6.25" height="8.28" fill="#3e3e3e"/>
<rect x="268.51" y="306.55" width="6.25" height="8.28" fill="#373737"/>
<rect x="274.06" y="306.55" width="6.25" height="8.28" fill="#313131"/>
<rect x="279.61" y="306.55" width="6.25" height="8.28" fill="#2a2a2a"/>
<rect x="285.16" y="306.55" width="6.25" height="8.28" fill="#242424"/>
<rect x="290.70" y="306.55" width="6.25" height="8.28" fill="#1d1d1d"/>
<rect x="296.25" y="306.55" width="5.55" height="8.28" fill="#161616"/>
<rect x="68.80" y="314.13" width="6.25" height="8.28" fill="#111111"/>
<rect x="74.35" y="314.13" width="6.25" height="8.28" fill="#171717"/>
<rect x="79.90" y="314.13" width="6.25" height="8.28" fill="#1e1e1e"/>
<rect x="85.44" y="314.13" width="6.25" height="8.28" fill="#242424"/>
<rect x="90.99" y="314.13" width="6.25" height="8.28" fill="#2b2b2b"/>
<rect x="96.54" y="314.13" width="6.25" height="8.28" fill="#313131"/>
<rect x="102.09" y="314.13" width="6.25" height="8.28" fill="#383838"/>
<rect x="107.63" y="314.13" width="6.25" height="8.28" fill="#3f3f3f"/>
<rect x="113.18" y="314.13" width="6.25" height="8.28" fill="#474747"/>
<rect x="118.73" y="314.13" width="6.25" height="8.28" fill="#4f4f4f"/>
<rect x="124.28" y="314.13" width="6.25" height="8.28" fill="#5b5b5b"/>
<rect x="129.82" y="314.13" width="6.25" height="8.28" fill="#6b6b6b"/>
<rect x="135.37" y="314.13" width="6.25" height="8.28" fill="#7e7e7e"/>
<rect x="140.92" y="314.13" width="6.25" height="8.28" fill="#939393"/>
<rect x="146.47" y="314.13" width="6.25" height="8.28" fill="#a6a6a6"/>
<rect x="152.01" y="314.13" width="6.25" height="8.28" fill="#b2b2b2"/>
<rect x="157.56" y="314.13" width="6.25" height="8.28" fill="#b5b5b5"/>
<rect x="163.11" y="314.13" width="6.25" height="8.28" fill="#b3b3b3"/>
<rect x="168.66" y="314.13" width="6.25" height="8.28" fill="#a9a9a9"/>
<rect x="174.20" y="314.13" width="6.25" height="8.28" fill="#a0a0a0"/>
<rect x="179.75" y="314.13" width="6.25" height="8.28" fill="#8e8e8e"/>
<rect x="185.30" y="314.13" width="6.25" height="8.28" fill="#848484"/>
<rect x="190.85" y="314.13" width="6.25" height="8.28" fill="#8f8f8f"/>
<rect x="196.40" y="314.13" width="6.25" height="8.28" fill="#a1a1a1"/>
<rect x="201.94" y="314.13" width="6.25" height="8.28" fill="#aaaaaa"/>
<rect x="207.49" y="314.13" width="6.25" height="8.28" fill="#b3b3b3"/>
<rect x="213.04" y="314.13" width="6.25" height="8.28" fill="#b5b5b5"/>
<rect x="218.59" y="314.13" width="6.25" height="8.28" fill="#b1b1b1"/>
<rect x="224.13" y="314.13" width="6.25" height="8.28" fill="#a3a3a3"/>
<rect x="229.68" y="314.13" width="6.25" height="8.28" fill="#909090"/>
<rect x="235.23" y="314.13" width="6.25" height="8.28" fill="#7b7b7b"/>
<rect x="240.78" y="314.13" width="6.25" height="8.28" fill="#696969"/>
<rect x="246.32" y="314.13" width="6.25" height="8.28" fill="#5a5a5a"/>
<rect x="251.87" y="314.13" width="6.25" height="8.28" fill="#4e4e4e"/>
<rect x="257.42" y="314.13" width="6.25" height="8.28" fill="#464646"/>
<rect x="262.97" y="314.13" width="6.25" height="8.28" fill="#3e3e3e"/>
<rect x="268.51" y="314.13" width="6.25" height="8.28" fill="#373737"/>
<rect x="274.06" y="314.13" width="6.25" height="8.28" fill="#313131"/>
<rect x="279.61" y="314.13" width="6.25" height="8.28" fill="#2a2a2a"/>
<rect x="285.16" y="314.13" width="6.25" height="8.28" fill="#242424"/>
<rect x="290.70" y="314.13" width="6.25" height="8.28" fill="#1d1d1d"/>
<rect x="296.25" y="314.13" width="5.55" height="8.28" fill="#161616"/>
<rect x="68.80" y="321.71" width="6.25" height="8.28" fill="#101010"/>
<rect x="74.35" y="321.71" width="6.25" height="8.28" fill="#171717"/>
<rect x="79.90" y="321.71" width="6.25" height="8.28" fill="#1d1d1d"/>
<rect x="85.44" y="321.71" width="6.25" height="8.28" fill="#242424"/>
<rect x="90.99" y="321.71" width="6.25" height="8.28" fill="#2a2a2a"/>
<rect x="96.54" y="321.71" width="6.25" height="8.28" fill="#303030"/>
<rect x="102.09" y="321.71" width="6.25" height="8.28" fill="#373737"/>
<rect x="107.63" y="321.71" width="6.25" height="8.28" fill="#3e3e3e"/>
<rect x="113.18" y="321.71" width="6.25" height="8.28" fill="#464646"/>
<rect x="118.73" y="321.71" width="6.25" height="8.28" fill="#4e4e4e"/>
<rect x="124.28" y="321.71" width="6.25" height="8.28" fill="#5a5a5a"/>
<rect x="129.82" y="321.71" width="6.25" height="8.28" fill="#696969"/>
<rect x="135.37" y="321.71" width="6.25" height="8.28" fill="#7b7b7b"/>
<rect x="140.92" y="321.71" width="6.25" height="8.28" fill="#909090"/>
<rect x="146.47" y="321.71" width="6.25" height="8.28" fill="#a2a2a2"/>
<rect x="152.01" y="321.71" width="6.25" height="8.28" fill="#afafaf"/>
<rect x="157.56" y="321.71" width="6.25" height="8.28" fill="#b1b1b1"/>
<rect x="163.11" y="321.71" width="6.25" height="8.28" fill="#afafaf"/>
<rect x="168.66" y="321.71" width="6.25" height="8.28" fill="#a6a6a6"/>
<rect x="174.20" y="321.71" width="6.25" height="8.28" fill="#9e9e9e"/>
<rect x="179.75" y="321.71" width="6.25" height="8.28" fill="#8d8d8d"/>
<rect x="185.30" y="321.71" width="6.25" height="8.28" fill="#848484"/>
<rect x="190.85" y="321.71" width="6.25" height="8.28" fill="#8e8e8e"/>
<rect x="196.40" y="321.71" width="6.25" height="8.28" fill="#9f9f9f"/>
<rect x="201.94" y="321.71" width="6.25" height="8.28" fill="#a7a7a7"/>
<rect x="207.49" y="321.71" width="6.25" height="8.28" fill="#b0b0b0"/>
<rect x="213.04" y="321.71" width="6.25" height="8.28" fill="#b1b1b1"/>
<rect x="218.59" y="321.71" width="6.25" height="8.28" fill="#adadad"/>
<rect x="224.13" y="321.71" width="6.25" height="8.28" fill="#a0a0a0"/>
<rect x="229.68" y="321.71" width="6.25" height="8.28" fill="#8d8d8d"/>
<rect x="235.23" y="321.71" width="6.25" height="8.28" fill="#797979"/>
<rect x="240.78" y="321.71" width="6.25" height="8.28" fill="#676767"/>
<rect x="246.32" y="321.71" width="6.25" height="8.28" fill="#585858"/>
<rect x="251.87" y="321.71" width="6.25" height="8.28" fill="#4d4d4d"/>
<rect x="257.42" y="321.71" width="6.25" height="8.28" fill="#454545"/>
<rect x="262.97" y="321.71" width="6.25" height="8.28" fill="#3d3d3d"/>
<rect x="268.51" y="321.71" width="6.25" height="8.28" fill="#363636"/>
<rect x="274.06" y="321.71" width="6.25" height="8.28" fill="#303030"/>
<rect x="279.61" y="321.71" width="6.25" height="8.28" fill="#292929"/>
<rect x="285.16" y="321.71" width="6.25" height="8.28" fill="#232323"/>
<rect x="290.70" y="321.71" width="6.25" height="8.28" fill="#1c1c1c"/>
<rect x="296.25" y="321.71" width="5.55" height="8.28" fill="#161616"/>
<rect x="68.80" y="329.29" width="6.25" height="8.28" fill="#101010"/>
<rect x="74.35" y="329.29" width="6.25" height="8.28" fill="#161616"/>
<rect x="79.90" y="329.29" width="6.25" height="8.28" fill="#1c1c1c"/>
<rect x="85.44" y="329.29" width="6.25" height="8.28" fill="#222222"/>
<rect x="90.99" y="329.29" width="6.25" height="8.28" fill="#282828"/>
<rect x="96.54" y="329.29" width="6.25" height="8.28" fill="#2e2e2e"/>
<rect x="102.09" y="329.29" width="6.25" height="8.28" fill="#353535"/>
<rect x="107.63" y="329.29" width="6.25" height="8.28" fill="#3c3c3c"/>
<rect x="113.18" y="329.29" width="6.25" height="8.28" fill="#434343"/>
<rect x="118.73" y="329.29" width="6.25" height="8.28" fill="#4b4b4b"/>
<rect x="124.28" y="329.29" width="6.25" height="8.28" fill="#565656"/>
<rect x="129.82" y="329.29" width="6.25" height="8.28" fill="#656565"/>
<rect x="135.37" y="329.29" width="6.25" height="8.28" fill="#777777"/>
<rect x="140.92" y="329.29" width="6.25" height="8.28" fill="#8b8b8b"/>
<rect x="146.47" y="329.29" width="6.25" height="8.28" fill="#9e9e9e"/>
<rect x="152.01" y="329.29" width="6.25" height="8.28" fill="#aaaaaa"/>
<rect x="157.56" y="329.29" width="6.25" height="8.28" fill="#acacac"/>
<rect x="163.11" y="329.29" width="6.25" height="8.28" fill="#aaaaaa"/>
<rect x="168.66" y="329.29" width="6.25" height="8.28" fill="#a1a1a1"/>
<rect x="174.20" y="329.29" width="6.25" height="8.28" fill="#9a9a9a"/>
<rect x="179.75" y="329.29" width="6.25" height="8.28" fill="#8b8b8b"/>
<rect x="185.30" y="329.29" width="6.25" height="8.28" fill="#838383"/>
<rect x="190.85" y="329.29" width="6.25" height="8.28" fill="#8c8c8c"/>
<rect x="196.40" y="329.29" width="6.25" height="8.28" fill="#9b9b9b"/>
<rect x="201.94" y="329.29" width="6.25" height="8.28" fill="#a3a3a3"/>
<rect x="207.49" y="329.29" width="6.25" height="8.28" fill="#aaaaaa"/>
<rect x="213.04" y="329.29" width="6.25" height="8.28" fill="#acacac"/>
<rect x="218.59" y="329.29" width="6.25" height="8.28" fill="#a8a8a8"/>
<rect x="224.13" y="329.29" width="6.25" height="8.28" fill="#9b9b9b"/>
<rect x="229.68" y="329.29" width="6.25" height="8.28" fill="#898989"/>
<rect x="235.23" y="329.29" width="6.25" height="8.28" fill="#757575"/>
<rect x="240.78" y="329.29" width="6.25" height="8.28" fill="#636363"/>
<rect x="246.32" y="329.29" width="6.25" height="8.28" fill="#555555"/>
<rect x="251.87" y="329.29" width="6.25" height="8.28" fill="#4a4a4a"/>
<rect x="257.42" y="329.29" width="6.25" height="8.28" fill="#424242"/>
<rect x="262.97" y="329.29" width="6.25" height="8.28" fill="#3b3b3b"/>
<rect x="268.51" y="329.29" width="6.25" height="8.28" fill="#343434"/>
<rect x="274.06" y="329.29" width="6.25" height="8.28" fill="#2e2e2e"/>
<rect x="279.61" y="329.29" width="6.25" height="8.28" fill="#282828"/>
<rect x="285.16" y="329.29" width="6.25" height="8.28" fill="#212121"/>
<rect x="290.70" y="329.29" width="6.25" height="8.28" fill="#1b1b1b"/>
<rect x="296.25" y="329.29" width="5.55" height="8.28" fill="#151515"/>
<rect x="68.80" y="336.87" width="6.25" height="8.28" fill="#0f0f0f"/>
<rect x="74.35" y="336.87" width="6.25" height="8.28" fill="#141414"/>
<rect x="79.90" y="336.87" width="6.25" height="8.28" fill="#1a1a1a"/>
<rect x="85.44" y="336.87" width="6.25" height="8.28" fill="#202020"/>
<rect x="90.99" y="336.87" width="6.25" height="8.28" fill="#262626"/>
<rect x="96.54" y="336.87" width="6.25" height="8.28" fill="#2c2c2c"/>
<rect x="102.09" y="336.87" width="6.25" height="8.28" fill="#313131"/>
<rect x="107.63" y="336.87" width="6.25" height="8.28" fill="#383838"/>
<rect x="113.18" y="336.87" width="6.25" height="8.28" fill="#3f3f3f"/>
<rect x="118.73" y="336.87" width="6.25" height="8.28" fill="#474747"/>
<rect x="124.28" y="336.87" width="6.25" height="8.28" fill="#525252"/>
<rect x="129.82" y="336.87" width="6.25" height="8.28" fill="#606060"/>
<rect x="135.37" y="336.87" width="6.25" height="8.28" fill="#727272"/>
<rect x="140.92" y="336.87" width="6.25" height="8.28" fill="#858585"/>
<rect x="146.47" y="336.87" width="6.25" height="8.28" fill="#979797"/>
<rect x="152.01" y="336.87" width="6.25" height="8.28" fill="#a2a2a2"/>
<rect x="157.56" y="336.87" width="6.25" height="8.28" fill="#a5a5a5"/>
<rect x="163.11" y="336.87" width="6.25" height="8.28" fill="#a3a3a3"/>
<rect x="168.66" y="336.87" width="6.25" height="8.28" fill="#9c9c9c"/>
<rect x="174.20" y="336.87" width="6.25" height="8.28" fill="#959595"/>
<rect x="179.75" y="336.87" width="6.25" height="8.28" fill="#898989"/>
<rect x="185.30" y="336.87" width="6.25" height="8.28" fill="#828282"/>
<rect x="190.85" y="336.87" width="6.25" height="8.28" fill="#8a8a8a"/>
<rect x="196.40" y="336.87" width="6.25" height="8.28" fill="#969696"/>
<rect x="201.94" y="336.87" width="6.25" height="8.28" fill="#9d9d9d"/>
<rect x="207.49" y="336.87" width="6.25" height="8.28" fill="#a3a3a3"/>
<rect x="213.04" y="336.87" width="6.25" height="8.28" fill="#a5a5a5"/>
<rect x="218.59" y="336.87" width="6.25" height="8.28" fill="#a1a1a1"/>
<rect x="224.13" y="336.87" width="6.25" height="8.28" fill="#959595"/>
<rect x="229.68" y="336.87" width="6.25" height="8.28" fill="#828282"/>
<rect x="235.23" y="336.87" width="6.25" height="8.28" fill="#6f6f6f"/>
<rect x="240.78" y="336.87" width="6.25" height="8.28" fill="#5e5e5e"/>
<rect x="246.32" y="336.87" width="6.25" height="8.28" fill="#505050"/>
<rect x="251.87" y="336.87" width="6.25" height="8.28" fill="#464646"/>
<rect x="257.42" y="336.87" width="6.25" height="8.28" fill="#3e3e3e"/>
<rect x="262.97" y="336.87" width="6.25" height="8.28" fill="#373737"/>
<rect x="268.51" y="336.87" width="6.25" height="8.28" fill="#313131"/>
<rect x="274.06" y="336.87" width="6.25" height="8.28" fill="#2b2b2b"/>
<rect x="279.61" y="336.87" width="6.25" height="8.28" fill="#252525"/>
<rect x="285.16" y="336.87" width="6.25" height="8.28" fill="#1f1f1f"/>
<rect x="290.70" y="336.87" width="6.25" height="8.28" fill="#1a1a1a"/>
<rect x="296.25" y="336.87" width="5.55" height="8.28" fill="#141414"/>
<rect x="68.80" y="344.45" width="6.25" height="8.28" fill="#0e0e0e"/>
<rect x="74.35" y="344.45" width="6.25" height="8.28" fill="#131313"/>
<rect x="79.90" y="344.45" width="6.25" height="8.28" fill="#181818"/>
<rect x="85.44" y="344.45" width="6.25" height="8.28" fill="#1e1e1e"/>
<rect x="90.99" y="344.45" width="6.25" height="8.28" fill="#232323"/>
<rect x="96.54" y="344.45" width="6.25" height="8.28" fill="#282828"/>
<rect x="102.09" y="344.45" width="6.25" height="8.28" fill="#2d2d2d"/>
<rect x="107.63" y="344.45" width="6.25" height="8.28" fill="#343434"/>
<rect x="113.18" y="344.45" width="6.25" height="8.28" fill="#3a3a3a"/>
<rect x="118.73" y="344.45" width="6.25" height="8.28" fill="#424242"/>
<rect x="124.28" y="344.45" width="6.25" height="8.28" fill="#4c4c4c"/>
<rect x="129.82" y="344.45" width="6.25" height="8.28" fill="#5a5a5a"/>
<rect x="135.37" y="344.45" width="6.25" height="8.28" fill="#6b6b6b"/>
<rect x="140.92" y="344.45" width="6.25" height="8.28" fill="#7f7f7f"/>
<rect x="146.47" y="344.45" width="6.25" height="8.28" fill="#909090"/>
<rect x="152.01" y="344.45" width="6.25" height="8.28" fill="#9b9b9b"/>
<rect x="157.56" y="344.45" width="6.25" height="8.28" fill="#9d9d9d"/>
<rect x="163.11" y="344.45" width="6.25" height="8.28" fill="#9c9c9c"/>
<rect x="168.66" y="344.45" width="6.25" height="8.28" fill="#969696"/>
<rect x="174.20" y="344.45" width="6.25" height="8.28" fill="#919191"/>
<rect x="179.75" y="344.45" width="6.25" height="8.28" fill="#868686"/>
<rect x="185.30" y="344.45" width="6.25" height="8.28" fill="#808080"/>
<rect x="190.85" y="344.45" width="6.25" height="8.28" fill="#878787"/>
<rect x="196.40" y="344.45" width="6.25" height="8.28" fill="#919191"/>
<rect x="201.94" y="344.45" width="6.25" height="8.28" fill="#979797"/>
<rect x="207.49" y="344.45" width="6.25" height="8.28" fill="#9c9c9c"/>
<rect x="213.04" y="344.45" width="6.25" height="8.28" fill="#9d9d9d"/>
<rect x="218.59" y="344.45" width="6.25" height="8.28" fill="#9a9a9a"/>
<rect x="224.13" y="344.45" width="6.25" height="8.28" fill="#8e8e8e"/>
<rect x="229.68" y="344.45" width="6.25" height="8.28" fill="#7c7c7c"/>
<rect x="235.23" y="344.45" width="6.25" height="8.28" fill="#696969"/>
<rect x="240.78" y="344.45" width="6.25" height="8.28" fill="#595959"/>
<rect x="246.32" y="344.45" width="6.25" height="8.28" fill="#4b4b4b"/>
<rect x="251.87" y="344.45" width="6.25" height="8.28" fill="#414141"/>
<rect x="257.42" y="344.45" width="6.25" height="8.28" fill="#3a3a3a"/>
<rect x="262.97" y="344.45" width="6.25" height="8.28" fill="#333333"/>
<rect x="268.51" y="344.45" width="6.25" height="8.28" fill="#2d2d2d"/>
<rect x="274.06" y="344.45" width="6.25" height="8.28" fill="#272727"/>
<rect x="279.61" y="344.45" width="6.25" height="8.28" fill="#222222"/>
<rect x="285.16" y="344.45" width="6.25" height="8.28" fill="#1d1d1d"/>
<rect x="290.70" y="344.45" width="6.25" height="8.28" fill="#181818"/>
<rect x="296.25" y="344.45" width="5.55" height="8.28" fill="#121212"/>
<rect x="68.80" y="352.03" width="6.25" height="8.28" fill="#0c0c0c"/>
<rect x="74.35" y="352.03" width="6.25" height="8.28" fill="#111111"/>
<rect x="79.90" y="352.03" width="6.25" height="8.28" fill="#161616"/>
<rect x="85.44" y="352.03" width="6.25" height="8.28" fill="#1b1b1b"/>
<rect x="90.99" y="352.03" width="6.25" height="8.28" fill="#202020"/>
<rect x="96.54" y="352.03" width="6.25" height="8.28" fill="#252525"/>
<rect x="102.09" y="352.03" width="6.25" height="8.28" fill="#2a2a2a"/>
<rect x="107.63" y="352.03" width="6.25" height="8.28" fill="#2f2f2f"/>
<rect x="113.18" y="352.03" width="6.25" height="8.28" fill="#363636"/>
<rect x="118.73" y="352.03" width="6.25" height="8.28" fill="#3d3d3d"/>
<rect x="124.28" y="352.03" width="6.25" height="8.28" fill="#474747"/>
<rect x="129.82" y="352.03" width="6.25" height="8.28" fill="#555555"/>
<rect x="135.37" y="352.03" width="6.25" height="8.28" fill="#656565"/>
<rect x="140.92" y="352.03" width="6.25" height="8.28" fill="#787878"/>
<rect x="146.47" y="352.03" width="6.25" height="8.28" fill="#8a8a8a"/>
<rect x="152.01" y="352.03" width="6.25" height="8.28" fill="#949494"/>
<rect x="157.56" y="352.03" width="6.25" height="8.28" fill="#969696"/>
<rect x="163.11" y="352.03" width="6.25" height="8.28" fill="#959595"/>
<rect x="168.66" y="352.03" width="6.25" height="8.28" fill="#909090"/>
<rect x="174.20" y="352.03" width="6.25" height="8.28" fill="#8c8c8c"/>
<rect x="179.75" y="352.03" width="6.25" height="8.28" fill="#848484"/>
<rect x="185.30" y="352.03" width="6.25" height="8.28" fill="#7f7f7f"/>
<rect x="190.85" y="352.03" width="6.25" height="8.28" fill="#858585"/>
<rect x="196.40" y="352.03" width="6.25" height="8.28" fill="#8d8d8d"/>
<rect x="201.94" y="352.03" width="6.25" height="8.28" fill="#919191"/>
<rect x="207.49" y="352.03" width="6.25" height="8.28" fill="#959595"/>
<rect x="213.04" y="352.03" width="6.25" height="8.28" fill="#969696"/>
<rect x="218.59" y="352.03" width="6.25" height="8.28" fill="#939393"/>
<rect x="224.13" y="352.03" width="6.25" height="8.28" fill="#888888"/>
<rect x="229.68" y="352.03" width="6.25" height="8.28" fill="#767676"/>
<rect x="235.23" y="352.03" width="6.25" height="8.28" fill="#636363"/>
<rect x="240.78" y="352.03" width="6.25" height="8.28" fill="#535353"/>
<rect x="246.32" y="352.03" width="6.25" height="8.28" fill="#464646"/>
<rect x="251.87" y="352.03" width="6.25" height="8.28" fill="#3c3c3c"/>
<rect x="257.42" y="352.03" width="6.25" height="8.28" fill="#353535"/>
<rect x="262.97" y="352.03" width="6.25" height="8.28" fill="#2e2e2e"/>
<rect x="268.51" y="352.03" width="6.25" height="8.28" fill="#292929"/>
<rect x="274.06" y="352.03" width="6.25" height="8.28" fill="#242424"/>
<rect x="279.61" y="352.03" width="6.25" height="8.28" fill="#1f1f1f"/>
<rect x="285.16" y="352.03" width="6.25" height="8.28" fill="#1a1a1a"/>
<rect x="290.70" y="352.03" width="6.25" height="8.28" fill="#161616"/>
<rect x="296.25" y="352.03" width="5.55" height="8.28" fill="#111111"/>
<rect x="68.80" y="359.61" width="6.25" height="8.28" fill="#0b0b0b"/>
<rect x="74.35" y="359.61" width="6.25" height="8.28" fill="#101010"/>
<rect x="79.90" y="359.61" width="6.25" height="8.28" fill="#141414"/>
<rect x="85.44" y="359.61" width="6.25" height="8.28" fill="#191919"/>
<rect x="90.99" y="359.61" width="6.25" height="8.28" fill="#1d1d1d"/>
<rect x="96.54" y="359.61" width="6.25" height="8.28" fill="#222222"/>
<rect x="102.09" y="359.61" width="6.25" height="8.28" fill="#262626"/>
<rect x="107.63" y="359.61" width="6.25" height="8.28" fill="#2b2b2b"/>
<rect x="113.18" y="359.61" width="6.25" height="8.28" fill="#323232"/>
<rect x="118.73" y="359.61" width="6.25" height="8.28" fill="#383838"/>
<rect x="124.28" y="359.61" width="6.25" height="8.28" fill="#434343"/>
<rect x="129.82" y="359.61" width="6.25" height="8.28" fill="#505050"/>
<rect x="135.37" y="359.61" width="6.25" height="8.28" fill="#606060"/>
<rect x="140.92" y="359.61" width="6.25" height="8.28" fill="#727272"/>
<rect x="146.47" y="359.61" width="6.25" height="8.28" fill="#838383"/>
<rect x="152.01" y="359.61" width="6.25" height="8.28" fill="#8d8d8d"/>
<rect x="157.56" y="359.61" width="6.25" height="8.28" fill="#8f8f8f"/>
<rect x="163.11" y="359.61" width="6.25" height="8.28" fill="#8d8d8d"/>
<rect x="168.66" y="359.61" width="6.25" height="8.28" fill="#8a8a8a"/>
<rect x="174.20" y="359.61" width="6.25" height="8.28" fill="#878787"/>
<rect x="179.75" y="359.61" width="6.25" height="8.28" fill="#818181"/>
<rect x="185.30" y="359.61" width="6.25" height="8.28" fill="#7e7e7e"/>
<rect x="190.85" y="359.61" width="6.25" height="8.28" fill="#828282"/>
<rect x="196.40" y="359.61" width="6.25" height="8.28" fill="#888888"/>
<rect x="201.94" y="359.61" width="6.25" height="8.28" fill="#8b8b8b"/>
<rect x="207.49" y="359.61" width="6.25" height="8.28" fill="#8e8e8e"/>
<rect x="213.04" y="359.61" width="6.25" height="8.28" fill="#8f8f8f"/>
<rect x="218.59" y="359.61" width="6.25" height="8.28" fill="#8c8c8c"/>
<rect x="224.13" y="359.61" width="6.25" height="8.28" fill="#818181"/>
<rect x="229.68" y="359.61" width="6.25" height="8.28" fill="#707070"/>
<rect x="235.23" y="359.61" width="6.25" height="8.28" fill="#5e5e5e"/>
<rect x="240.78" y="359.61" width="6.25" height="8.28" fill="#4e4e4e"/>
<rect x="246.32" y="359.61" width="6.25" height="8.28" fill="#414141"/>
<rect x="251.87" y="359.61" width="6.25" height="8.28" fill="#383838"/>
<rect x="257.42" y="359.61" width="6.25" height="8.28" fill="#313131"/>
<rect x="262.97" y="359.61" width="6.25" height="8.28" fill="#2b2b2b"/>
<rect x="268.51" y="359.61" width="6.25" height="8.28" fill="#262626"/>
<rect x="274.06" y="359.61" width="6.25" height="8.28" fill="#212121"/>
<rect x="279.61" y="359.61" width="6.25" height="8.28" fill="#1d1d1d"/>
<rect x="285.16" y="359.61" width="6.25" height="8.28" fill="#181818"/>
<rect x="290.70" y="359.61" width="6.25" height="8.28" fill="#141414"/>
<rect x="296.25" y="359.61" width="5.55" height="8.28" fill="#0f0f0f"/>
<rect x="68.80" y="367.18" width="6.25" height="8.28" fill="#0a0a0a"/>
<rect x="74.35" y="367.18" width="6.25" height="8.28" fill="#0f0f0f"/>
<rect x="79.90" y="367.18" width="6.25" height="8.28" fill="#131313"/>
<rect x="85.44" y="367.18" width="6.25" height="8.28" fill="#171717"/>
<rect x="90.99" y="367.18" width="6.25" height="8.28" fill="#1b1b1b"/>
<rect x="96.54" y="367.18" width="6.25" height="8.28" fill="#1f1f1f"/>
<rect x="102.09" y="367.18" width="6.25" height="8.28" fill="#232323"/>
<rect x="107.63" y="367.18" width="6.25" height="8.28" fill="#282828"/>
<rect x="113.18" y="367.18" width="6.25" height="8.28" fill="#2e2e2e"/>
<rect x="118.73" y="367.18" width="6.25" height="8.28" fill="#343434"/>
<rect x="124.28" y="367.18" width="6.25" height="8.28" fill="#3e3e3e"/>
<rect x="129.82" y="367.18" width="6.25" height="8.28" fill="#4b4b4b"/>
<rect x="135.37" y="367.18" width="6.25" height="8.28" fill="#5b5b5b"/>
<rect x="140.92" y="367.18" width="6.25" height="8.28" fill="#6d6d6d"/>
<rect x="146.47" y="367.18" width="6.25" height="8.28" fill="#7e7e7e"/>
<rect x="152.01" y="367.18" width="6.25" height="8.28" fill="#888888"/>
<rect x="157.56" y="367.18" width="6.25" height="8.28" fill="#8a8a8a"/>
<rect x="163.11" y="367.18" width="6.25" height="8.28" fill="#888888"/>
<rect x="168.66" y="367.18" width="6.25" height="8.28" fill="#868686"/>
<rect x="174.20" y="367.18" width="6.25" height="8.28" fill="#848484"/>
<rect x="179.75" y="367.18" width="6.25" height="8.28" fill="#7f7f7f"/>
<rect x="185.30" y="367.18" width="6.25" height="8.28" fill="#7d7d7d"/>
<rect x="190.85" y="367.18" width="6.25" height="8.28" fill="#808080"/>
<rect x="196.40" y="367.18" width="6.25" height="8.28" fill="#848484"/>
<rect x="201.94" y="367.18" width="6.25" height="8.28" fill="#868686"/>
<rect x="207.49" y="367.18" width="6.25" height="8.28" fill="#888888"/>
<rect x="213.04" y="367.18" width="6.25" height="8.28" fill="#898989"/>
<rect x="218.59" y="367.18" width="6.25" height="8.28" fill="#878787"/>
<rect x="224.13" y="367.18" width="6.25" height="8.28" fill="#7c7c7c"/>
<rect x="229.68" y="367.18" width="6.25" height="8.28" fill="#6b6b6b"/>
<rect x="235.23" y="367.18" width="6.25" height="8.28" fill="#595959"/>
<rect x="240.78" y="367.18" width="6.25" height="8.28" fill="#494949"/>
<rect x="246.32" y="367.18" width="6.25" height="8.28" fill="#3d3d3d"/>
<rect x="251.87" y="367.18" width="6.25" height="8.28" fill="#333333"/>
<rect x="257.42" y="367.18" width="6.25" height="8.28" fill="#2d2d2d"/>
<rect x="262.97" y="367.18" width="6.25" height="8.28" fill="#272727"/>
<rect x="268.51" y="367.18" width="6.25" height="8.28" fill="#232323"/>
<rect x="274.06" y="367.18" width="6.25" height="8.28" fill="#1e1e1e"/>
<rect x="279.61" y="367.18" width="6.25" height="8.28" fill="#1a1a1a"/>
<rect x="285.16" y="367.18" width="6.25" height="8.28" fill="#161616"/>
<rect x="290.70" y="367.18" width="6.25" height="8.28" fill="#121212"/>
<rect x="296.25" y="367.18" width="5.55" height="8.28" fill="#0e0e0e"/>
<rect x="68.80" y="374.76" width="6.25" height="8.28" fill="#0a0a0a"/>
<rect x="74.35" y="374.76" width="6.25" height="8.28" fill="#0e0e0e"/>
<rect x="79.90" y="374.76" width="6.25" height="8.28" fill="#121212"/>
<rect x="85.44" y="374.76" width="6.25" height="8.28" fill="#151515"/>
<rect x="90.99" y="374.76" width="6.25" height="8.28" fill="#191919"/>
<rect x="96.54" y="374.76" width="6.25" height="8.28" fill="#1d1d1d"/>
<rect x="102.09" y="374.76" width="6.25" height="8.28" fill="#212121"/>
<rect x="107.63" y="374.76" width="6.25" height="8.28" fill="#252525"/>
<rect x="113.18" y="374.76" width="6.25" height="8.28" fill="#2b2b2b"/>
<rect x="118.73" y="374.76" width="6.25" height="8.28" fill="#323232"/>
<rect x="124.28" y="374.76" width="6.25" height="8.28" fill="#3b3b3b"/>
<rect x="129.82" y="374.76" width="6.25" height="8.28" fill="#484848"/>
<rect x="135.37" y="374.76" width="6.25" height="8.28" fill="#585858"/>
<rect x="140.92" y="374.76" width="6.25" height="8.28" fill="#6a6a6a"/>
<rect x="146.47" y="374.76" width="6.25" height="8.28" fill="#7b7b7b"/>
<rect x="152.01" y="374.76" width="6.25" height="8.28" fill="#848484"/>
<rect x="157.56" y="374.76" width="6.25" height="8.28" fill="#868686"/>
<rect x="163.11" y="374.76" width="6.25" height="8.28" fill="#848484"/>
<rect x="168.66" y="374.76" width="6.25" height="8.28" fill="#838383"/>
<rect x="174.20" y="374.76" width="6.25" height="8.28" fill="#818181"/>
<rect x="179.75" y="374.76" width="6.25" height="8.28" fill="#7e7e7e"/>
<rect x="185.30" y="374.76" width="6.25" height="8.28" fill="#7c7c7c"/>
<rect x="190.85" y="374.76" width="6.25" height="8.28" fill="#7e7e7e"/>
<rect x="196.40" y="374.76" width="6.25" height="8.28" fill="#818181"/>
<rect x="201.94" y="374.76" width="6.25" height="8.28" fill="#838383"/>
<rect x="207.49" y="374.76" width="6.25" height="8.28" fill="#858585"/>
<rect x="213.04" y="374.76" width="6.25" height="8.28" fill="#868686"/>
<rect x="218.59" y="374.76" width="6.25" height="8.28" fill="#838383"/>
<rect x="224.13" y="374.76" width="6.25" height="8.28" fill="#797979"/>
<rect x="229.68" y="374.76" width="6.25" height="8.28" fill="#686868"/>
<rect x="235.23" y="374.76" width="6.25" height="8.28" fill="#565656"/>
<rect x="240.78" y="374.76" width="6.25" height="8.28" fill="#464646"/>
<rect x="246.32" y="374.76" width="6.25" height="8.28" fill="#3a3a3a"/>
<rect x="251.87" y="374.76" width="6.25" height="8.28" fill="#313131"/>
<rect x="257.42" y="374.76" width="6.25" height="8.28" fill="#2a2a2a"/>
<rect x="262.97" y="374.76" width="6.25" height="8.28" fill="#252525"/>
<rect x="268.51" y="374.76" width="6.25" height="8.28" fill="#202020"/>
<rect x="274.06" y="374.76" width="6.25" height="8.28" fill="#1d1d1d"/>
<rect x="279.61" y="374.76" width="6.25" height="8.28" fill="#191919"/>
<rect x="285.16" y="374.76" width="6.25" height="8.28" fill="#151515"/>
<rect x="290.70" y="374.76" width="6.25" height="8.28" fill="#111111"/>
<rect x="296.25" y="374.76" width="5.55" height="8.28" fill="#0d0d0d"/>
<rect x="68.80" y="382.34" width="6.25" height="8.28" fill="#090909"/>
<rect x="74.35" y="382.34" width="6.25" height="8.28" fill="#0d0d0d"/>
<rect x="79.90" y="382.34" width="6.25" height="8.28" fill="#101010"/>
<rect x="85.44" y="382.34" width="6.25" height="8.28" fill="#141414"/>
<rect x="90.99" y="382.34" width="6.25" height="8.28" fill="#181818"/>
<rect x="96.54" y="382.34" width="6.25" height="8.28" fill="#1b1b1b"/>
<rect x="102.09" y="382.34" width="6.25" height="8.28" fill="#1f1f1f"/>
<rect x="107.63" y="382.34" width="6.25" height="8.28" fill="#232323"/>
<rect x="113.18" y="382.34" width="6.25" height="8.28" fill="#282828"/>
<rect x="118.73" y="382.34" width="6.25" height="8.28" fill="#2f2f2f"/>
<rect x="124.28" y="382.34" width="6.25" height="8.28" fill="#383838"/>
<rect x="129.82" y="382.34" width="6.25" height="8.28" fill="#454545"/>
<rect x="135.37" y="382.34" width="6.25" height="8.28" fill="#555555"/>
<rect x="140.92" y="382.34" width="6.25" height="8.28" fill="#676767"/>
<rect x="146.47" y="382.34" width="6.25" height="8.28" fill="#777777"/>
<rect x="152.01" y="382.34" width="6.25" height="8.28" fill="#818181"/>
<rect x="157.56" y="382.34" width="6.25" height="8.28" fill="#828282"/>
<rect x="163.11" y="382.34" width="6.25" height="8.28" fill="#818181"/>
<rect x="168.66" y="382.34" width="6.25" height="8.28" fill="#808080"/>
<rect x="174.20" y="382.34" width="6.25" height="8.28" fill="#7f7f7f"/>
<rect x="179.75" y="382.34" width="6.25" height="8.28" fill="#7c7c7c"/>
<rect x="185.30" y="382.34" width="6.25" height="8.28" fill="#7b7b7b"/>
<rect x="190.85" y="382.34" width="6.25" height="8.28" fill="#7d7d7d"/>
<rect x="196.40" y="382.34" width="6.25" height="8.28" fill="#7f7f7f"/>
<rect x="201.94" y="382.34" width="6.25" height="8.28" fill="#808080"/>
<rect x="207.49" y="382.34" width="6.25" height="8.28" fill="#818181"/>
<rect x="213.04" y="382.34" width="6.25" height="8.28" fill="#828282"/>
<rect x="218.59" y="382.34" width="6.25" height="8.28" fill="#7f7f7f"/>
<rect x="224.13" y="382.34" width="6.25" height="8.28" fill="#767676"/>
<rect x="229.68" y="382.34" width="6.25" height="8.28" fill="#646464"/>
<rect x="235.23" y="382.34" width="6.25" height="8.28" fill="#535353"/>
<rect x="240.78" y="382.34" width="6.25" height="8.28" fill="#434343"/>
<rect x="246.32" y="382.34" width="6.25" height="8.28" fill="#373737"/>
<rect x="251.87" y="382.34" width="6.25" height="8.28" fill="#2e2e2e"/>
<rect x="257.42" y="382.34" width="6.25" height="8.28" fill="#272727"/>
<rect x="262.97" y="382.34" width="6.25" height="8.28" fill="#222222"/>
<rect x="268.51" y="382.34" width="6.25" height="8.28" fill="#1e1e1e"/>
<rect x="274.06" y="382.34" width="6.25" height="8.28" fill="#1b1b1b"/>
<rect x="279.61" y="382.34" width="6.25" height="8.28" fill="#171717"/>
<rect x="285.16" y="382.34" width="6.25" height="8.28" fill="#141414"/>
<rect x="290.70" y="382.34" width="6.25" height="8.28" fill="#101010"/>
<rect x="296.25" y="382.34" width="5.55" height="8.28" fill="#0c0c0c"/>
<rect x="68.80" y="389.92" width="6.25" height="7.58" fill="#090909"/>
<rect x="74.35" y="389.92" width="6.25" height="7.58" fill="#0c0c0c"/>
<rect x="79.90" y="389.92" width="6.25" height="7.58" fill="#101010"/>
<rect x="85.44" y="389.92" width="6.25" height="7.58" fill="#131313"/>
<rect x="90.99" y="389.92" width="6.25" height="7.58" fill="#171717"/>
<rect x="96.54" y="389.92" width="6.25" height="7.58" fill="#1a1a1a"/>
<rect x="102.09" y="389.92" width="6.25" height="7.58" fill="#1e1e1e"/>
<rect x="107.63" y="389.92" width="6.25" height="7.58" fill="#222222"/>
<rect x="113.18" y="389.92" width="6.25" height="7.58" fill="#272727"/>
<rect x="118.73" y="389.92" width="6.25" height="7.58" fill="#2d2d2d"/>
<rect x="124.28" y="389.92" width="6.25" height="7.58" fill="#373737"/>
<rect x="129.82" y="389.92" width="6.25" height="7.58" fill="#444444"/>
<rect x="135.37" y="389.92" width="6.25" height="7.58" fill="#535353"/>
<rect x="140.92" y="389.92" width="6.25" height="7.58" fill="#656565"/>
<rect x="146.47" y="389.92" width="6.25" height="7.58" fill="#767676"/>
<rect x="152.01" y="389.92" width="6.25" height="7.58" fill="#7f7f7f"/>
<rect x="157.56" y="389.92" width="6.25" height="7.58" fill="#808080"/>
<rect x="163.11" y="389.92" width="6.25" height="7.58" fill="#7f7f7f"/>
<rect x="168.66" y="389.92" width="6.25" height="7.58" fill="#7e7e7e"/>
<rect x="174.20" y="389.92" width="6.25" height="7.58" fill="#7d7d7d"/>
<rect x="179.75" y="389.92" width="6.25" height="7.58" fill="#7b7b7b"/>
<rect x="185.30" y="389.92" width="6.25" height="7.58" fill="#7a7a7a"/>
<rect x="190.85" y="389.92" width="6.25" height="7.58" fill="#7b7b7b"/>
<rect x="196.40" y="389.92" width="6.25" height="7.58" fill="#7d7d7d"/>
<rect x="201.94" y="389.92" width="6.25" height="7.58" fill="#7e7e7e"/>
<rect x="207.49" y="389.92" width="6.25" height="7.58" fill="#7f7f7f"/>
<rect x="213.04" y="389.92" width="6.25" height="7.58" fill="#808080"/>
<rect x="218.59" y="389.92" width="6.25" height="7.58" fill="#7e7e7e"/>
<rect x="224.13" y="389.92" width="6.25" height="7.58" fill="#747474"/>
<rect x="229.68" y="389.92" width="6.25" height="7.58" fill="#636363"/>
<rect x="235.23" y="389.92" width="6.25" height="7.58" fill="#515151"/>
<rect x="240.78" y="389.92" width="6.25" height="7.58" fill="#424242"/>
<rect x="246.32" y="389.92" width="6.25" height="7.58" fill="#363636"/>
<rect x="251.87" y="389.92" width="6.25" height="7.58" fill="#2d2d2d"/>
<rect x="257.42" y="389.92" width="6.25" height="7.58" fill="#262626"/>
<rect x="262.97" y="389.92" width="6.25" height="7.58" fill="#212121"/>
<rect x="268.51" y="389.92" width="6.25" height="7.58" fill="#1d1d1d"/>
<rect x="274.06" y="389.92" width="6.25" height="7.58" fill="#1a1a1a"/>
<rect x="279.61" y="389.92" width="6.25" height="7.58" fill="#161616"/>
<rect x="285.16" y="389.92" width="6.25" height="7.58" fill="#131313"/>
<rect x="290.70" y="389.92" width="6.25" height="7.58" fill="#0f0f0f"/>
<rect x="296.25" y="389.92" width="5.55" height="7.58" fill="#0c0c0c"/>
<path d="M70.3 401.0v-5.2M70.3 251.0v5.2M127.7 401.0v-5.2M127.7 251.0v5.2M185.0 401.0v-5.2M185.0 251.0v5.2M242.3 401.0v-5.2M242.3 251.0v5.2M299.7 401.0v-5.2M299.7 251.0v5.2M81.8 401.0v-2.6M81.8 251.0v2.6M93.2 401.0v-2.6M93.2 251.0v2.6M104.7 401.0v-2.6M104.7 251.0v2.6M116.2 401.0v-2.6M116.2 251.0v2.6M139.1 401.0v-2.6M139.1 251.0v2.6M150.6 401.0v-2.6M150.6 251.0v2.6M162.1 401.0v-2.6M162.1 251.0v2.6M173.5 401.0v-2.6M173.5 251.0v2.6M196.5 401.0v-2.6M196.5 251.0v2.6M207.9 401.0v-2.6M207.9 251.0v2.6M219.4 401.0v-2.6M219.4 251.0v2.6M230.9 401.0v-2.6M230.9 251.0v2.6M253.8 401.0v-2.6M253.8 251.0v2.6M265.3 401.0v-2.6M265.3 251.0v2.6M276.8 401.0v-2.6M276.8 251.0v2.6M288.2 401.0v-2.6M288.2 251.0v2.6" stroke="#000" stroke-width="1.4" fill="none"/>
<path d="M64.2 268.3h5.2M306.0 268.3h-5.2M64.2 302.1h5.2M306.0 302.1h-5.2M64.2 336.0h5.2M306.0 336.0h-5.2M64.2 369.8h5.2M306.0 369.8h-5.2M64.2 396.9h2.6M306.0 396.9h-2.6M64.2 390.2h2.6M306.0 390.2h-2.6M64.2 383.4h2.6M306.0 383.4h-2.6M64.2 376.6h2.6M306.0 376.6h-2.6M64.2 363.1h2.6M306.0 363.1h-2.6M64.2 356.3h2.6M306.0 356.3h-2.6M64.2 349.5h2.6M306.0 349.5h-2.6M64.2 342.8h2.6M306.0 342.8h-2.6M64.2 329.2h2.6M306.0 329.2h-2.6M64.2 322.4h2.6M306.0 322.4h-2.6M64.2 315.7h2.6M306.0 315.7h-2.6M64.2 308.9h2.6M306.0 308.9h-2.6M64.2 295.4h2.6M306.0 295.4h-2.6M64.2 288.6h2.6M306.0 288.6h-2.6M64.2 281.8h2.6M306.0 281.8h-2.6M64.2 275.0h2.6M306.0 275.0h-2.6M64.2 261.5h2.6M306.0 261.5h-2.6M64.2 254.7h2.6M306.0 254.7h-2.6" stroke="#000" stroke-width="1.4" fill="none"/>
<text x="59.6" y="274.9" font-size="18.3" text-anchor="end" >-745</text>
<text x="59.6" y="308.7" font-size="18.3" text-anchor="end" >-750</text>
<text x="59.6" y="342.6" font-size="18.3" text-anchor="end" >-755</text>
<text x="59.6" y="376.4" font-size="18.3" text-anchor="end" >-760</text>
<text x="0" y="0" font-size="18.3" text-anchor="middle" transform="translate(11.7,326.0) rotate(-90)">Y [arcsec]</text>
<rect x="64.2" y="251.0" width="241.8" height="150.0" fill="none" stroke="#000" stroke-width="1.6"/>
<path d="M127.1 251.3V400.7M243.5 251.3V400.7" stroke="#82f03c" stroke-width="3.5"/>
<path d="M171.5 387.4V401M199.3 387.4V401M171.5 394.4H199.3" stroke="#e00808" stroke-width="3.1" fill="none"/>
<text x="70.3" y="423.8" font-size="18.3" text-anchor="middle" >-0.10</text>
<text x="127.7" y="423.8" font-size="18.3" text-anchor="middle" >-0.05</text>
<text x="185.0" y="423.8" font-size="18.3" text-anchor="middle" >0.00</text>
<text x="242.3" y="423.8" font-size="18.3" text-anchor="middle" >0.05</text>
<text x="299.7" y="423.8" font-size="18.3" text-anchor="middle" >0.10</text>
<text x="185.1" y="443.1" font-size="18.3" text-anchor="middle" >Wavelength [nm]</text>
<text x="110.66" y="241.20" font-size="22.6" xml:space="preserve">(c) Ly</text>
<text x="0" y="0" font-size="22.6" transform="translate(165.25,241.20) scale(1.25,1)">α</text>
<text x="180.05" y="241.20" font-size="22.6" xml:space="preserve"> intensity</text>
<rect x="399.10" y="253.50" width="6.24" height="8.28" fill="#5aa0f5"/>
<rect x="404.64" y="253.50" width="6.24" height="8.28" fill="#96dc8c"/>
<rect x="410.18" y="253.50" width="6.24" height="8.28" fill="#8ce650"/>
<rect x="415.72" y="253.50" width="6.24" height="8.28" fill="#fae646"/>
<rect x="421.26" y="253.50" width="6.24" height="8.28" fill="#8ce650"/>
<rect x="426.80" y="253.50" width="6.24" height="8.28" fill="#8ce650"/>
<rect x="432.34" y="253.50" width="6.24" height="8.28" fill="#8ce6fa"/>
<rect x="437.88" y="253.50" width="6.24" height="8.28" fill="#0000f0"/>
<rect x="443.42" y="253.50" width="6.24" height="8.28" fill="#2850f0"/>
<rect x="448.96" y="253.50" width="6.24" height="8.28" fill="#0000f0"/>
<rect x="454.50" y="253.50" width="6.24" height="8.28" fill="#0000f0"/>
<rect x="460.05" y="253.50" width="6.24" height="8.28" fill="#0000f0"/>
<rect x="465.59" y="253.50" width="6.24" height="8.28" fill="#0000f0"/>
<rect x="471.13" y="253.50" width="6.24" height="8.28" fill="#2850f0"/>
<rect x="476.67" y="253.50" width="6.24" height="8.28" fill="#2850f0"/>
<rect x="482.21" y="253.50" width="6.24" height="8.28" fill="#0000f0"/>
<rect x="487.75" y="253.50" width="6.24" height="8.28" fill="#5aa0f5"/>
<rect x="493.29" y="253.50" width="6.24" height="8.28" fill="#8ce6fa"/>
<rect x="498.83" y="253.50" width="6.24" height="8.28" fill="#5aa0f5"/>
<rect x="504.37" y="253.50" width="6.24" height="8.28" fill="#5aa0f5"/>
<rect x="509.91" y="253.50" width="6.24" height="8.28" fill="#8ce6fa"/>
<rect x="515.45" y="253.50" width="6.24" height="8.28" fill="#8ce6fa"/>
<rect x="520.99" y="253.50" width="6.24" height="8.28" fill="#8ce6fa"/>
<rect x="526.53" y="253.50" width="6.24" height="8.28" fill="#8ce650"/>
<rect x="532.07" y="253.50" width="6.24" height="8.28" fill="#8ce650"/>
<rect x="537.61" y="253.50" width="6.24" height="8.28" fill="#96dc8c"/>
<rect x="543.15" y="253.50" width="6.24" height="8.28" fill="#8ce6fa"/>
<rect x="548.69" y="253.50" width="6.24" height="8.28" fill="#5aa0f5"/>
<rect x="554.23" y="253.50" width="6.24" height="8.28" fill="#2850f0"/>
<rect x="559.77" y="253.50" width="6.24" height="8.28" fill="#0000f0"/>
<rect x="565.31" y="253.50" width="6.24" height="8.28" fill="#2850f0"/>
<rect x="570.85" y="253.50" width="6.24" height="8.28" fill="#0000f0"/>
<rect x="576.40" y="253.50" width="6.24" height="8.28" fill="#8ce650"/>
<rect x="581.94" y="253.50" width="6.24" height="8.28" fill="#8ce650"/>
<rect x="587.48" y="253.50" width="6.24" height="8.28" fill="#8ce650"/>
<rect x="593.02" y="253.50" width="6.24" height="8.28" fill="#5aa0f5"/>
<rect x="598.56" y="253.50" width="6.24" height="8.28" fill="#fae646"/>
<rect x="604.10" y="253.50" width="6.24" height="8.28" fill="#f5c83c"/>
<rect x="609.64" y="253.50" width="6.24" height="8.28" fill="#96dc8c"/>
<rect x="615.18" y="253.50" width="6.24" height="8.28" fill="#dc0000"/>
<rect x="620.72" y="253.50" width="6.24" height="8.28" fill="#dc0000"/>
<rect x="626.26" y="253.50" width="5.54" height="8.28" fill="#0000f0"/>
<rect x="399.10" y="261.08" width="6.24" height="8.28" fill="#0000f0"/>
<rect x="404.64" y="261.08" width="6.24" height="8.28" fill="#0000f0"/>
<rect x="410.18" y="261.08" width="6.24" height="8.28" fill="#0000f0"/>
<rect x="415.72" y="261.08" width="6.24" height="8.28" fill="#0000f0"/>
<rect x="421.26" y="261.08" width="6.24" height="8.28" fill="#0000f0"/>
<rect x="426.80" y="261.08" width="6.24" height="8.28" fill="#0000f0"/>
<rect x="432.34" y="261.08" width="6.24" height="8.28" fill="#0000f0"/>
<rect x="437.88" y="261.08" width="6.24" height="8.28" fill="#0000f0"/>
<rect x="443.42" y="261.08" width="6.24" height="8.28" fill="#0000f0"/>
<rect x="448.96" y="261.08" width="6.24" height="8.28" fill="#0000f0"/>
<rect x="454.50" y="261.08" width="6.24" height="8.28" fill="#0000f0"/>
<rect x="460.05" y="261.08" width="6.24" height="8.28" fill="#0000f0"/>
<rect x="465.59" y="261.08" width="6.24" height="8.28" fill="#0000f0"/>
<rect x="471.13" y="261.08" width="6.24" height="8.28" fill="#0000f0"/>
<rect x="476.67" y="261.08" width="6.24" height="8.28" fill="#0000f0"/>
<rect x="482.21" y="261.08" width="6.24" height="8.28" fill="#0000f0"/>
<rect x="487.75" y="261.08" width="6.24" height="8.28" fill="#2850f0"/>
<rect x="493.29" y="261.08" width="6.24" height="8.28" fill="#5aa0f5"/>
<rect x="498.83" y="261.08" width="6.24" height="8.28" fill="#8ce6fa"/>
<rect x="504.37" y="261.08" width="6.24" height="8.28" fill="#5aa0f5"/>
<rect x="509.91" y="261.08" width="6.24" height="8.28" fill="#0000f0"/>
<rect x="515.45" y="261.08" width="6.24" height="8.28" fill="#5aa0f5"/>
<rect x="520.99" y="261.08" width="6.24" height="8.28" fill="#5aa0f5"/>
<rect x="526.53" y="261.08" width="6.24" height="8.28" fill="#8ce6fa"/>
<rect x="532.07" y="261.08" width="6.24" height="8.28" fill="#8ce6fa"/>
<rect x="537.61" y="261.08" width="6.24" height="8.28" fill="#8ce6fa"/>
<rect x="543.15" y="261.08" width="6.24" height="8.28" fill="#5aa0f5"/>
<rect x="548.69" y="261.08" width="6.24" height="8.28" fill="#0000f0"/>
<rect x="554.23" y="261.08" width="6.24" height="8.28" fill="#0000f0"/>
<rect x="559.77" y="261.08" width="6.24" height="8.28" fill="#0000f0"/>
<rect x="565.31" y="261.08" width="6.24" height="8.28" fill="#0000f0"/>
<rect x="570.85" y="261.08" width="6.24" height="8.28" fill="#0000f0"/>
<rect x="576.40" y="261.08" width="6.24" height="8.28" fill="#0000f0"/>
<rect x="581.94" y="261.08" width="6.24" height="8.28" fill="#0000f0"/>
<rect x="587.48" y="261.08" width="6.24" height="8.28" fill="#2850f0"/>
<rect x="593.02" y="261.08" width="6.24" height="8.28" fill="#0000f0"/>
<rect x="598.56" y="261.08" width="6.24" height="8.28" fill="#0000f0"/>
<rect x="604.10" y="261.08" width="6.24" height="8.28" fill="#0000f0"/>
<rect x="609.64" y="261.08" width="6.24" height="8.28" fill="#0000f0"/>
<rect x="615.18" y="261.08" width="6.24" height="8.28" fill="#5aa0f5"/>
<rect x="620.72" y="261.08" width="6.24" height="8.28" fill="#0000f0"/>
<rect x="626.26" y="261.08" width="5.54" height="8.28" fill="#0000f0"/>
<rect x="399.10" y="268.66" width="6.24" height="8.28" fill="#fae646"/>
<rect x="404.64" y="268.66" width="6.24" height="8.28" fill="#0000f0"/>
<rect x="410.18" y="268.66" width="6.24" height="8.28" fill="#0000f0"/>
<rect x="415.72" y="268.66" width="6.24" height="8.28" fill="#0000f0"/>
<rect x="421.26" y="268.66" width="6.24" height="8.28" fill="#0000f0"/>
<rect x="426.80" y="268.66" width="6.24" height="8.28" fill="#0000f0"/>
<rect x="432.34" y="268.66" width="6.24" height="8.28" fill="#0000f0"/>
<rect x="437.88" y="268.66" width="6.24" height="8.28" fill="#0000f0"/>
<rect x="443.42" y="268.66" width="6.24" height="8.28" fill="#0000f0"/>
<rect x="448.96" y="268.66" width="6.24" height="8.28" fill="#0000f0"/>
<rect x="454.50" y="268.66" width="6.24" height="8.28" fill="#0000f0"/>
<rect x="460.05" y="268.66" width="6.24" height="8.28" fill="#0000f0"/>
<rect x="465.59" y="268.66" width="6.24" height="8.28" fill="#0000f0"/>
<rect x="471.13" y="268.66" width="6.24" height="8.28" fill="#0000f0"/>
<rect x="476.67" y="268.66" width="6.24" height="8.28" fill="#0000f0"/>
<rect x="482.21" y="268.66" width="6.24" height="8.28" fill="#5aa0f5"/>
<rect x="487.75" y="268.66" width="6.24" height="8.28" fill="#2850f0"/>
<rect x="493.29" y="268.66" width="6.24" height="8.28" fill="#5aa0f5"/>
<rect x="498.83" y="268.66" width="6.24" height="8.28" fill="#8ce6fa"/>
<rect x="504.37" y="268.66" width="6.24" height="8.28" fill="#5aa0f5"/>
<rect x="509.91" y="268.66" width="6.24" height="8.28" fill="#5aa0f5"/>
<rect x="515.45" y="268.66" width="6.24" height="8.28" fill="#5aa0f5"/>
<rect x="520.99" y="268.66" width="6.24" height="8.28" fill="#8ce6fa"/>
<rect x="526.53" y="268.66" width="6.24" height="8.28" fill="#5aa0f5"/>
<rect x="532.07" y="268.66" width="6.24" height="8.28" fill="#5aa0f5"/>
<rect x="537.61" y="268.66" width="6.24" height="8.28" fill="#5aa0f5"/>
<rect x="543.15" y="268.66" width="6.24" height="8.28" fill="#5aa0f5"/>
<rect x="548.69" y="268.66" width="6.24" height="8.28" fill="#0000f0"/>
<rect x="554.23" y="268.66" width="6.24" height="8.28" fill="#0000f0"/>
<rect x="559.77" y="268.66" width="6.24" height="8.28" fill="#0000f0"/>
<rect x="565.31" y="268.66" width="6.24" height="8.28" fill="#0000f0"/>
<rect x="570.85" y="268.66" width="6.24" height="8.28" fill="#0000f0"/>
<rect x="576.40" y="268.66" width="6.24" height="8.28" fill="#0000f0"/>
<rect x="581.94" y="268.66" width="6.24" height="8.28" fill="#0000f0"/>
<rect x="587.48" y="268.66" width="6.24" height="8.28" fill="#0000f0"/>
<rect x="593.02" y="268.66" width="6.24" height="8.28" fill="#0000f0"/>
<rect x="598.56" y="268.66" width="6.24" height="8.28" fill="#0000f0"/>
<rect x="604.10" y="268.66" width="6.24" height="8.28" fill="#0000f0"/>
<rect x="609.64" y="268.66" width="6.24" height="8.28" fill="#8ce6fa"/>
<rect x="615.18" y="268.66" width="6.24" height="8.28" fill="#5aa0f5"/>
<rect x="620.72" y="268.66" width="6.24" height="8.28" fill="#0000f0"/>
<rect x="626.26" y="268.66" width="5.54" height="8.28" fill="#0000f0"/>
<rect x="399.10" y="276.24" width="6.24" height="8.28" fill="#e0501e"/>
<rect x="404.64" y="276.24" width="6.24" height="8.28" fill="#0000f0"/>
<rect x="410.18" y="276.24" width="6.24" height="8.28" fill="#0000f0"/>
<rect x="415.72" y="276.24" width="6.24" height="8.28" fill="#0000f0"/>
<rect x="421.26" y="276.24" width="6.24" height="8.28" fill="#0000f0"/>
<rect x="426.80" y="276.24" width="6.24" height="8.28" fill="#0000f0"/>
<rect x="432.34" y="276.24" width="6.24" height="8.28" fill="#0000f0"/>
<rect x="437.88" y="276.24" width="6.24" height="8.28" fill="#0000f0"/>
<rect x="443.42" y="276.24" width="6.24" height="8.28" fill="#0000f0"/>
<rect x="448.96" y="276.24" width="6.24" height="8.28" fill="#0000f0"/>
<rect x="454.50" y="276.24" width="6.24" height="8.28" fill="#0000f0"/>
<rect x="460.05" y="276.24" width="6.24" height="8.28" fill="#0000f0"/>
<rect x="465.59" y="276.24" width="6.24" height="8.28" fill="#0000f0"/>
<rect x="471.13" y="276.24" width="6.24" height="8.28" fill="#0000f0"/>
<rect x="476.67" y="276.24" width="6.24" height="8.28" fill="#2850f0"/>
<rect x="482.21" y="276.24" width="6.24" height="8.28" fill="#5aa0f5"/>
<rect x="487.75" y="276.24" width="6.24" height="8.28" fill="#5aa0f5"/>
<rect x="493.29" y="276.24" width="6.24" height="8.28" fill="#8ce6fa"/>
<rect x="498.83" y="276.24" width="6.24" height="8.28" fill="#8ce6fa"/>
<rect x="504.37" y="276.24" width="6.24" height="8.28" fill="#5aa0f5"/>
<rect x="509.91" y="276.24" width="6.24" height="8.28" fill="#5aa0f5"/>
<rect x="515.45" y="276.24" width="6.24" height="8.28" fill="#2850f0"/>
<rect x="520.99" y="276.24" width="6.24" height="8.28" fill="#0000f0"/>
<rect x="526.53" y="276.24" width="6.24" height="8.28" fill="#8ce6fa"/>
<rect x="532.07" y="276.24" width="6.24" height="8.28" fill="#8ce6fa"/>
<rect x="537.61" y="276.24" width="6.24" height="8.28" fill="#5aa0f5"/>
<rect x="543.15" y="276.24" width="6.24" height="8.28" fill="#0000f0"/>
<rect x="548.69" y="276.24" width="6.24" height="8.28" fill="#0000f0"/>
<rect x="554.23" y="276.24" width="6.24" height="8.28" fill="#0000f0"/>
<rect x="559.77" y="276.24" width="6.24" height="8.28" fill="#0000f0"/>
<rect x="565.31" y="276.24" width="6.24" height="8.28" fill="#0000f0"/>
<rect x="570.85" y="276.24" width="6.24" height="8.28" fill="#0000f0"/>
<rect x="576.40" y="276.24" width="6.24" height="8.28" fill="#0000f0"/>
<rect x="581.94" y="276.24" width="6.24" height="8.28" fill="#0000f0"/>
<rect x="587.48" y="276.24" width="6.24" height="8.28" fill="#0000f0"/>
<rect x="593.02" y="276.24" width="6.24" height="8.28" fill="#0000f0"/>
<rect x="598.56" y="276.24" width="6.24" height="8.28" fill="#0000f0"/>
<rect x="604.10" y="276.24" width="6.24" height="8.28" fill="#0000f0"/>
<rect x="609.64" y="276.24" width="6.24" height="8.28" fill="#0000f0"/>
<rect x="615.18" y="276.24" width="6.24" height="8.28" fill="#0000f0"/>
<rect x="620.72" y="276.24" width="6.24" height="8.28" fill="#0000f0"/>
<rect x="626.26" y="276.24" width="5.54" height="8.28" fill="#0000f0"/>
<rect x="399.10" y="283.82" width="6.24" height="8.28" fill="#fae646"/>
<rect x="404.64" y="283.82" width="6.24" height="8.28" fill="#0000f0"/>
<rect x="410.18" y="283.82" width="6.24" height="8.28" fill="#0000f0"/>
<rect x="415.72" y="283.82" width="6.24" height="8.28" fill="#0000f0"/>
<rect x="421.26" y="283.82" width="6.24" height="8.28" fill="#0000f0"/>
<rect x="426.80" y="283.82" width="6.24" height="8.28" fill="#0000f0"/>
<rect x="432.34" y="283.82" width="6.24" height="8.28" fill="#0000f0"/>
<rect x="437.88" y="283.82" width="6.24" height="8.28" fill="#0000f0"/>
<rect x="443.42" y="283.82" width="6.24" height="8.28" fill="#0000f0"/>
<rect x="448.96" y="283.82" width="6.24" height="8.28" fill="#0000f0"/>
<rect x="454.50" y="283.82" width="6.24" height="8.28" fill="#0000f0"/>
<rect x="460.05" y="283.82" width="6.24" height="8.28" fill="#0000f0"/>
<rect x="465.59" y="283.82" width="6.24" height="8.28" fill="#2850f0"/>
<rect x="471.13" y="283.82" width="6.24" height="8.28" fill="#5aa0f5"/>
<rect x="476.67" y="283.82" width="6.24" height="8.28" fill="#5aa0f5"/>
<rect x="482.21" y="283.82" width="6.24" height="8.28" fill="#96dc8c"/>
<rect x="487.75" y="283.82" width="6.24" height="8.28" fill="#8ce650"/>
<rect x="493.29" y="283.82" width="6.24" height="8.28" fill="#8ce6fa"/>
<rect x="498.83" y="283.82" width="6.24" height="8.28" fill="#8ce6fa"/>
<rect x="504.37" y="283.82" width="6.24" height="8.28" fill="#5aa0f5"/>
<rect x="509.91" y="283.82" width="6.24" height="8.28" fill="#2850f0"/>
<rect x="515.45" y="283.82" width="6.24" height="8.28" fill="#0000f0"/>
<rect x="520.99" y="283.82" width="6.24" height="8.28" fill="#0000f0"/>
<rect x="526.53" y="283.82" width="6.24" height="8.28" fill="#5aa0f5"/>
<rect x="532.07" y="283.82" width="6.24" height="8.28" fill="#8ce6fa"/>
<rect x="537.61" y="283.82" width="6.24" height="8.28" fill="#5aa0f5"/>
<rect x="543.15" y="283.82" width="6.24" height="8.28" fill="#2850f0"/>
<rect x="548.69" y="283.82" width="6.24" height="8.28" fill="#0000f0"/>
<rect x="554.23" y="283.82" width="6.24" height="8.28" fill="#0000f0"/>
<rect x="559.77" y="283.82" width="6.24" height="8.28" fill="#0000f0"/>
<rect x="565.31" y="283.82" width="6.24" height="8.28" fill="#0000f0"/>
<rect x="570.85" y="283.82" width="6.24" height="8.28" fill="#0000f0"/>
<rect x="576.40" y="283.82" width="6.24" height="8.28" fill="#0000f0"/>
<rect x="581.94" y="283.82" width="6.24" height="8.28" fill="#0000f0"/>
<rect x="587.48" y="283.82" width="6.24" height="8.28" fill="#0000f0"/>
<rect x="593.02" y="283.82" width="6.24" height="8.28" fill="#0000f0"/>
<rect x="598.56" y="283.82" width="6.24" height="8.28" fill="#0000f0"/>
<rect x="604.10" y="283.82" width="6.24" height="8.28" fill="#0000f0"/>
<rect x="609.64" y="283.82" width="6.24" height="8.28" fill="#0000f0"/>
<rect x="615.18" y="283.82" width="6.24" height="8.28" fill="#0000f0"/>
<rect x="620.72" y="283.82" width="6.24" height="8.28" fill="#0000f0"/>
<rect x="626.26" y="283.82" width="5.54" height="8.28" fill="#0000f0"/>
<rect x="399.10" y="291.39" width="6.24" height="8.28" fill="#8ce650"/>
<rect x="404.64" y="291.39" width="6.24" height="8.28" fill="#0000f0"/>
<rect x="410.18" y="291.39" width="6.24" height="8.28" fill="#0000f0"/>
<rect x="415.72" y="291.39" width="6.24" height="8.28" fill="#0000f0"/>
<rect x="421.26" y="291.39" width="6.24" height="8.28" fill="#0000f0"/>
<rect x="426.80" y="291.39" width="6.24" height="8.28" fill="#0000f0"/>
<rect x="432.34" y="291.39" width="6.24" height="8.28" fill="#0000f0"/>
<rect x="437.88" y="291.39" width="6.24" height="8.28" fill="#0000f0"/>
<rect x="443.42" y="291.39" width="6.24" height="8.28" fill="#0000f0"/>
<rect x="448.96" y="291.39" width="6.24" height="8.28" fill="#0000f0"/>
<rect x="454.50" y="291.39" width="6.24" height="8.28" fill="#0000f0"/>
<rect x="460.05" y="291.39" width="6.24" height="8.28" fill="#5aa0f5"/>
<rect x="465.59" y="291.39" width="6.24" height="8.28" fill="#8ce650"/>
<rect x="471.13" y="291.39" width="6.24" height="8.28" fill="#fae646"/>
<rect x="476.67" y="291.39" width="6.24" height="8.28" fill="#fae646"/>
<rect x="482.21" y="291.39" width="6.24" height="8.28" fill="#fae646"/>
<rect x="487.75" y="291.39" width="6.24" height="8.28" fill="#fae646"/>
<rect x="493.29" y="291.39" width="6.24" height="8.28" fill="#8ce650"/>
<rect x="498.83" y="291.39" width="6.24" height="8.28" fill="#8ce650"/>
<rect x="504.37" y="291.39" width="6.24" height="8.28" fill="#8ce6fa"/>
<rect x="509.91" y="291.39" width="6.24" height="8.28" fill="#2850f0"/>
<rect x="515.45" y="291.39" width="6.24" height="8.28" fill="#2850f0"/>
<rect x="520.99" y="291.39" width="6.24" height="8.28" fill="#5aa0f5"/>
<rect x="526.53" y="291.39" width="6.24" height="8.28" fill="#8ce6fa"/>
<rect x="532.07" y="291.39" width="6.24" height="8.28" fill="#96dc8c"/>
<rect x="537.61" y="291.39" width="6.24" height="8.28" fill="#96dc8c"/>
<rect x="543.15" y="291.39" width="6.24" height="8.28" fill="#8ce650"/>
<rect x="548.69" y="291.39" width="6.24" height="8.28" fill="#5aa0f5"/>
<rect x="554.23" y="291.39" width="6.24" height="8.28" fill="#0000f0"/>
<rect x="559.77" y="291.39" width="6.24" height="8.28" fill="#0000f0"/>
<rect x="565.31" y="291.39" width="6.24" height="8.28" fill="#0000f0"/>
<rect x="570.85" y="291.39" width="6.24" height="8.28" fill="#0000f0"/>
<rect x="576.40" y="291.39" width="6.24" height="8.28" fill="#0000f0"/>
<rect x="581.94" y="291.39" width="6.24" height="8.28" fill="#0000f0"/>
<rect x="587.48" y="291.39" width="6.24" height="8.28" fill="#0000f0"/>
<rect x="593.02" y="291.39" width="6.24" height="8.28" fill="#0000f0"/>
<rect x="598.56" y="291.39" width="6.24" height="8.28" fill="#0000f0"/>
<rect x="604.10" y="291.39" width="6.24" height="8.28" fill="#0000f0"/>
<rect x="609.64" y="291.39" width="6.24" height="8.28" fill="#0000f0"/>
<rect x="615.18" y="291.39" width="6.24" height="8.28" fill="#0000f0"/>
<rect x="620.72" y="291.39" width="6.24" height="8.28" fill="#0000f0"/>
<rect x="626.26" y="291.39" width="5.54" height="8.28" fill="#8ce650"/>
<rect x="399.10" y="298.97" width="6.24" height="8.28" fill="#5aa0f5"/>
<rect x="404.64" y="298.97" width="6.24" height="8.28" fill="#0000f0"/>
<rect x="410.18" y="298.97" width="6.24" height="8.28" fill="#0000f0"/>
<rect x="415.72" y="298.97" width="6.24" height="8.28" fill="#0000f0"/>
<rect x="421.26" y="298.97" width="6.24" height="8.28" fill="#0000f0"/>
<rect x="426.80" y="298.97" width="6.24" height="8.28" fill="#0000f0"/>
<rect x="432.34" y="298.97" width="6.24" height="8.28" fill="#0000f0"/>
<rect x="437.88" y="298.97" width="6.24" height="8.28" fill="#0000f0"/>
<rect x="443.42" y="298.97" width="6.24" height="8.28" fill="#2850f0"/>
<rect x="448.96" y="298.97" width="6.24" height="8.28" fill="#5aa0f5"/>
<rect x="454.50" y="298.97" width="6.24" height="8.28" fill="#c8c8b4"/>
<rect x="460.05" y="298.97" width="6.24" height="8.28" fill="#fae646"/>
<rect x="465.59" y="298.97" width="6.24" height="8.28" fill="#fae646"/>
<rect x="471.13" y="298.97" width="6.24" height="8.28" fill="#f5c83c"/>
<rect x="476.67" y="298.97" width="6.24" height="8.28" fill="#f5c83c"/>
<rect x="482.21" y="298.97" width="6.24" height="8.28" fill="#f5c83c"/>
<rect x="487.75" y="298.97" width="6.24" height="8.28" fill="#c8c8b4"/>
<rect x="493.29" y="298.97" width="6.24" height="8.28" fill="#96dc8c"/>
<rect x="498.83" y="298.97" width="6.24" height="8.28" fill="#8ce650"/>
<rect x="504.37" y="298.97" width="6.24" height="8.28" fill="#8ce6fa"/>
<rect x="509.91" y="298.97" width="6.24" height="8.28" fill="#2850f0"/>
<rect x="515.45" y="298.97" width="6.24" height="8.28" fill="#5aa0f5"/>
<rect x="520.99" y="298.97" width="6.24" height="8.28" fill="#5aa0f5"/>
<rect x="526.53" y="298.97" width="6.24" height="8.28" fill="#2850f0"/>
<rect x="532.07" y="298.97" width="6.24" height="8.28" fill="#8ce650"/>
<rect x="537.61" y="298.97" width="6.24" height="8.28" fill="#96dc8c"/>
<rect x="543.15" y="298.97" width="6.24" height="8.28" fill="#c8c8b4"/>
<rect x="548.69" y="298.97" width="6.24" height="8.28" fill="#96dc8c"/>
<rect x="554.23" y="298.97" width="6.24" height="8.28" fill="#2850f0"/>
<rect x="559.77" y="298.97" width="6.24" height="8.28" fill="#2850f0"/>
<rect x="565.31" y="298.97" width="6.24" height="8.28" fill="#0000f0"/>
<rect x="570.85" y="298.97" width="6.24" height="8.28" fill="#0000f0"/>
<rect x="576.40" y="298.97" width="6.24" height="8.28" fill="#0000f0"/>
<rect x="581.94" y="298.97" width="6.24" height="8.28" fill="#2850f0"/>
<rect x="587.48" y="298.97" width="6.24" height="8.28" fill="#0000f0"/>
<rect x="593.02" y="298.97" width="6.24" height="8.28" fill="#2850f0"/>
<rect x="598.56" y="298.97" width="6.24" height="8.28" fill="#0000f0"/>
<rect x="604.10" y="298.97" width="6.24" height="8.28" fill="#0000f0"/>
<rect x="609.64" y="298.97" width="6.24" height="8.28" fill="#0000f0"/>
<rect x="615.18" y="298.97" width="6.24" height="8.28" fill="#0000f0"/>
<rect x="620.72" y="298.97" width="6.24" height="8.28" fill="#0000f0"/>
<rect x="626.26" y="298.97" width="5.54" height="8.28" fill="#0000f0"/>
<rect x="399.10" y="306.55" width="6.24" height="8.28" fill="#8ce6fa"/>
<rect x="404.64" y="306.55" width="6.24" height="8.28" fill="#0000f0"/>
<rect x="410.18" y="306.55" width="6.24" height="8.28" fill="#5aa0f5"/>
<rect x="415.72" y="306.55" width="6.24" height="8.28" fill="#8ce650"/>
<rect x="421.26" y="306.55" width="6.24" height="8.28" fill="#2850f0"/>
<rect x="426.80" y="306.55" width="6.24" height="8.28" fill="#8ce6fa"/>
<rect x="432.34" y="306.55" width="6.24" height="8.28" fill="#5aa0f5"/>
<rect x="437.88" y="306.55" width="6.24" height="8.28" fill="#8ce650"/>
<rect x="443.42" y="306.55" width="6.24" height="8.28" fill="#fae646"/>
<rect x="448.96" y="306.55" width="6.24" height="8.28" fill="#f5c83c"/>
<rect x="454.50" y="306.55" width="6.24" height="8.28" fill="#c8c8b4"/>
<rect x="460.05" y="306.55" width="6.24" height="8.28" fill="#e0501e"/>
<rect x="465.59" y="306.55" width="6.24" height="8.28" fill="#e0501e"/>
<rect x="471.13" y="306.55" width="6.24" height="8.28" fill="#f5c83c"/>
<rect x="476.67" y="306.55" width="6.24" height="8.28" fill="#eb9632"/>
<rect x="482.21" y="306.55" width="6.24" height="8.28" fill="#f5c83c"/>
<rect x="487.75" y="306.55" width="6.24" height="8.28" fill="#c8c8b4"/>
<rect x="493.29" y="306.55" width="6.24" height="8.28" fill="#96dc8c"/>
<rect x="498.83" y="306.55" width="6.24" height="8.28" fill="#8ce650"/>
<rect x="504.37" y="306.55" width="6.24" height="8.28" fill="#8ce6fa"/>
<rect x="509.91" y="306.55" width="6.24" height="8.28" fill="#2850f0"/>
<rect x="515.45" y="306.55" width="6.24" height="8.28" fill="#0000f0"/>
<rect x="520.99" y="306.55" width="6.24" height="8.28" fill="#2850f0"/>
<rect x="526.53" y="306.55" width="6.24" height="8.28" fill="#5aa0f5"/>
<rect x="532.07" y="306.55" width="6.24" height="8.28" fill="#8ce6fa"/>
<rect x="537.61" y="306.55" width="6.24" height="8.28" fill="#8ce650"/>
<rect x="543.15" y="306.55" width="6.24" height="8.28" fill="#8ce650"/>
<rect x="548.69" y="306.55" width="6.24" height="8.28" fill="#8ce650"/>
<rect x="554.23" y="306.55" width="6.24" height="8.28" fill="#8ce650"/>
<rect x="559.77" y="306.55" width="6.24" height="8.28" fill="#8ce6fa"/>
<rect x="565.31" y="306.55" width="6.24" height="8.28" fill="#5aa0f5"/>
<rect x="570.85" y="306.55" width="6.24" height="8.28" fill="#0000f0"/>
<rect x="576.40" y="306.55" width="6.24" height="8.28" fill="#0000f0"/>
<rect x="581.94" y="306.55" width="6.24" height="8.28" fill="#5aa0f5"/>
<rect x="587.48" y="306.55" width="6.24" height="8.28" fill="#8ce650"/>
<rect x="593.02" y="306.55" width="6.24" height="8.28" fill="#c8c8b4"/>
<rect x="598.56" y="306.55" width="6.24" height="8.28" fill="#96dc8c"/>
<rect x="604.10" y="306.55" width="6.24" height="8.28" fill="#5aa0f5"/>
<rect x="609.64" y="306.55" width="6.24" height="8.28" fill="#2850f0"/>
<rect x="615.18" y="306.55" width="6.24" height="8.28" fill="#96dc8c"/>
<rect x="620.72" y="306.55" width="6.24" height="8.28" fill="#8ce650"/>
<rect x="626.26" y="306.55" width="5.54" height="8.28" fill="#5aa0f5"/>
<rect x="399.10" y="314.13" width="6.24" height="8.28" fill="#f5c83c"/>
<rect x="404.64" y="314.13" width="6.24" height="8.28" fill="#96dc8c"/>
<rect x="410.18" y="314.13" width="6.24" height="8.28" fill="#dc0000"/>
<rect x="415.72" y="314.13" width="6.24" height="8.28" fill="#e0501e"/>
<rect x="421.26" y="314.13" width="6.24" height="8.28" fill="#8ce650"/>
<rect x="426.80" y="314.13" width="6.24" height="8.28" fill="#fae646"/>
<rect x="432.34" y="314.13" width="6.24" height="8.28" fill="#fae646"/>
<rect x="437.88" y="314.13" width="6.24" height="8.28" fill="#e0501e"/>
<rect x="443.42" y="314.13" width="6.24" height="8.28" fill="#dc0000"/>
<rect x="448.96" y="314.13" width="6.24" height="8.28" fill="#e0501e"/>
<rect x="454.50" y="314.13" width="6.24" height="8.28" fill="#dc0000"/>
<rect x="460.05" y="314.13" width="6.24" height="8.28" fill="#dc0000"/>
<rect x="465.59" y="314.13" width="6.24" height="8.28" fill="#dc0000"/>
<rect x="471.13" y="314.13" width="6.24" height="8.28" fill="#e0501e"/>
<rect x="476.67" y="314.13" width="6.24" height="8.28" fill="#eb9632"/>
<rect x="482.21" y="314.13" width="6.24" height="8.28" fill="#f5c83c"/>
<rect x="487.75" y="314.13" width="6.24" height="8.28" fill="#c8c8b4"/>
<rect x="493.29" y="314.13" width="6.24" height="8.28" fill="#8ce650"/>
<rect x="498.83" y="314.13" width="6.24" height="8.28" fill="#96dc8c"/>
<rect x="504.37" y="314.13" width="6.24" height="8.28" fill="#5aa0f5"/>
<rect x="509.91" y="314.13" width="6.24" height="8.28" fill="#2850f0"/>
<rect x="515.45" y="314.13" width="6.24" height="8.28" fill="#0000f0"/>
<rect x="520.99" y="314.13" width="6.24" height="8.28" fill="#2850f0"/>
<rect x="526.53" y="314.13" width="6.24" height="8.28" fill="#5aa0f5"/>
<rect x="532.07" y="314.13" width="6.24" height="8.28" fill="#8ce650"/>
<rect x="537.61" y="314.13" width="6.24" height="8.28" fill="#8ce650"/>
<rect x="543.15" y="314.13" width="6.24" height="8.28" fill="#8ce650"/>
<rect x="548.69" y="314.13" width="6.24" height="8.28" fill="#8ce650"/>
<rect x="554.23" y="314.13" width="6.24" height="8.28" fill="#96dc8c"/>
<rect x="559.77" y="314.13" width="6.24" height="8.28" fill="#96dc8c"/>
<rect x="565.31" y="314.13" width="6.24" height="8.28" fill="#c8c8b4"/>
<rect x="570.85" y="314.13" width="6.24" height="8.28" fill="#fae646"/>
<rect x="576.40" y="314.13" width="6.24" height="8.28" fill="#e0501e"/>
<rect x="581.94" y="314.13" width="6.24" height="8.28" fill="#e0501e"/>
<rect x="587.48" y="314.13" width="6.24" height="8.28" fill="#dc0000"/>
<rect x="593.02" y="314.13" width="6.24" height="8.28" fill="#dc0000"/>
<rect x="598.56" y="314.13" width="6.24" height="8.28" fill="#dc0000"/>
<rect x="604.10" y="314.13" width="6.24" height="8.28" fill="#e0501e"/>
<rect x="609.64" y="314.13" width="6.24" height="8.28" fill="#f5c83c"/>
<rect x="615.18" y="314.13" width="6.24" height="8.28" fill="#f5c83c"/>
<rect x="620.72" y="314.13" width="6.24" height="8.28" fill="#dc0000"/>
<rect x="626.26" y="314.13" width="5.54" height="8.28" fill="#dc0000"/>
<rect x="399.10" y="321.71" width="6.24" height="8.28" fill="#dc0000"/>
<rect x="404.64" y="321.71" width="6.24" height="8.28" fill="#dc0000"/>
<rect x="410.18" y="321.71" width="6.24" height="8.28" fill="#dc0000"/>
<rect x="415.72" y="321.71" width="6.24" height="8.28" fill="#dc0000"/>
<rect x="421.26" y="321.71" width="6.24" height="8.28" fill="#e0501e"/>
<rect x="426.80" y="321.71" width="6.24" height="8.28" fill="#dc0000"/>
<rect x="432.34" y="321.71" width="6.24" height="8.28" fill="#dc0000"/>
<rect x="437.88" y="321.71" width="6.24" height="8.28" fill="#dc0000"/>
<rect x="443.42" y="321.71" width="6.24" height="8.28" fill="#dc0000"/>
<rect x="448.96" y="321.71" width="6.24" height="8.28" fill="#dc0000"/>
<rect x="454.50" y="321.71" width="6.24" height="8.28" fill="#dc0000"/>
<rect x="460.05" y="321.71" width="6.24" height="8.28" fill="#dc0000"/>
<rect x="465.59" y="321.71" width="6.24" height="8.28" fill="#dc0000"/>
<rect x="471.13" y="321.71" width="6.24" height="8.28" fill="#e0501e"/>
<rect x="476.67" y="321.71" width="6.24" height="8.28" fill="#f5c83c"/>
<rect x="482.21" y="321.71" width="6.24" height="8.28" fill="#fae646"/>
<rect x="487.75" y="321.71" width="6.24" height="8.28" fill="#96dc8c"/>
<rect x="493.29" y="321.71" width="6.24" height="8.28" fill="#8ce6fa"/>
<rect x="498.83" y="321.71" width="6.24" height="8.28" fill="#5aa0f5"/>
<rect x="504.37" y="321.71" width="6.24" height="8.28" fill="#2850f0"/>
<rect x="509.91" y="321.71" width="6.24" height="8.28" fill="#0000f0"/>
<rect x="515.45" y="321.71" width="6.24" height="8.28" fill="#0000f0"/>
<rect x="520.99" y="321.71" width="6.24" height="8.28" fill="#5aa0f5"/>
<rect x="526.53" y="321.71" width="6.24" height="8.28" fill="#8ce6fa"/>
<rect x="532.07" y="321.71" width="6.24" height="8.28" fill="#8ce6fa"/>
<rect x="537.61" y="321.71" width="6.24" height="8.28" fill="#8ce6fa"/>
<rect x="543.15" y="321.71" width="6.24" height="8.28" fill="#8ce6fa"/>
<rect x="548.69" y="321.71" width="6.24" height="8.28" fill="#c8c8b4"/>
<rect x="554.23" y="321.71" width="6.24" height="8.28" fill="#fae646"/>
<rect x="559.77" y="321.71" width="6.24" height="8.28" fill="#f5c83c"/>
<rect x="565.31" y="321.71" width="6.24" height="8.28" fill="#eb9632"/>
<rect x="570.85" y="321.71" width="6.24" height="8.28" fill="#e0501e"/>
<rect x="576.40" y="321.71" width="6.24" height="8.28" fill="#dc0000"/>
<rect x="581.94" y="321.71" width="6.24" height="8.28" fill="#dc0000"/>
<rect x="587.48" y="321.71" width="6.24" height="8.28" fill="#dc0000"/>
<rect x="593.02" y="321.71" width="6.24" height="8.28" fill="#dc0000"/>
<rect x="598.56" y="321.71" width="6.24" height="8.28" fill="#dc0000"/>
<rect x="604.10" y="321.71" width="6.24" height="8.28" fill="#dc0000"/>
<rect x="609.64" y="321.71" width="6.24" height="8.28" fill="#fae646"/>
<rect x="615.18" y="321.71" width="6.24" height="8.28" fill="#dc0000"/>
<rect x="620.72" y="321.71" width="6.24" height="8.28" fill="#dc0000"/>
<rect x="626.26" y="321.71" width="5.54" height="8.28" fill="#dc0000"/>
<rect x="399.10" y="329.29" width="6.24" height="8.28" fill="#dc0000"/>
<rect x="404.64" y="329.29" width="6.24" height="8.28" fill="#dc0000"/>
<rect x="410.18" y="329.29" width="6.24" height="8.28" fill="#dc0000"/>
<rect x="415.72" y="329.29" width="6.24" height="8.28" fill="#dc0000"/>
<rect x="421.26" y="329.29" width="6.24" height="8.28" fill="#dc0000"/>
<rect x="426.80" y="329.29" width="6.24" height="8.28" fill="#dc0000"/>
<rect x="432.34" y="329.29" width="6.24" height="8.28" fill="#dc0000"/>
<rect x="437.88" y="329.29" width="6.24" height="8.28" fill="#dc0000"/>
<rect x="443.42" y="329.29" width="6.24" height="8.28" fill="#dc0000"/>
<rect x="448.96" y="329.29" width="6.24" height="8.28" fill="#dc0000"/>
<rect x="454.50" y="329.29" width="6.24" height="8.28" fill="#dc0000"/>
<rect x="460.05" y="329.29" width="6.24" height="8.28" fill="#dc0000"/>
<rect x="465.59" y="329.29" width="6.24" height="8.28" fill="#dc0000"/>
<rect x="471.13" y="329.29" width="6.24" height="8.28" fill="#e0501e"/>
<rect x="476.67" y="329.29" width="6.24" height="8.28" fill="#fae646"/>
<rect x="482.21" y="329.29" width="6.24" height="8.28" fill="#c8c8b4"/>
<rect x="487.75" y="329.29" width="6.24" height="8.28" fill="#96dc8c"/>
<rect x="493.29" y="329.29" width="6.24" height="8.28" fill="#8ce6fa"/>
<rect x="498.83" y="329.29" width="6.24" height="8.28" fill="#2850f0"/>
<rect x="504.37" y="329.29" width="6.24" height="8.28" fill="#2850f0"/>
<rect x="509.91" y="329.29" width="6.24" height="8.28" fill="#0000f0"/>
<rect x="515.45" y="329.29" width="6.24" height="8.28" fill="#5aa0f5"/>
<rect x="520.99" y="329.29" width="6.24" height="8.28" fill="#5aa0f5"/>
<rect x="526.53" y="329.29" width="6.24" height="8.28" fill="#8ce6fa"/>
<rect x="532.07" y="329.29" width="6.24" height="8.28" fill="#96dc8c"/>
<rect x="537.61" y="329.29" width="6.24" height="8.28" fill="#c8c8b4"/>
<rect x="543.15" y="329.29" width="6.24" height="8.28" fill="#c8c8b4"/>
<rect x="548.69" y="329.29" width="6.24" height="8.28" fill="#fae646"/>
<rect x="554.23" y="329.29" width="6.24" height="8.28" fill="#f5c83c"/>
<rect x="559.77" y="329.29" width="6.24" height="8.28" fill="#e0501e"/>
<rect x="565.31" y="329.29" width="6.24" height="8.28" fill="#dc0000"/>
<rect x="570.85" y="329.29" width="6.24" height="8.28" fill="#dc0000"/>
<rect x="576.40" y="329.29" width="6.24" height="8.28" fill="#dc0000"/>
<rect x="581.94" y="329.29" width="6.24" height="8.28" fill="#dc0000"/>
<rect x="587.48" y="329.29" width="6.24" height="8.28" fill="#dc0000"/>
<rect x="593.02" y="329.29" width="6.24" height="8.28" fill="#dc0000"/>
<rect x="598.56" y="329.29" width="6.24" height="8.28" fill="#dc0000"/>
<rect x="604.10" y="329.29" width="6.24" height="8.28" fill="#dc0000"/>
<rect x="609.64" y="329.29" width="6.24" height="8.28" fill="#dc0000"/>
<rect x="615.18" y="329.29" width="6.24" height="8.28" fill="#dc0000"/>
<rect x="620.72" y="329.29" width="6.24" height="8.28" fill="#dc0000"/>
<rect x="626.26" y="329.29" width="5.54" height="8.28" fill="#dc0000"/>
<rect x="399.10" y="336.87" width="6.24" height="8.28" fill="#fae646"/>
<rect x="404.64" y="336.87" width="6.24" height="8.28" fill="#dc0000"/>
<rect x="410.18" y="336.87" width="6.24" height="8.28" fill="#dc0000"/>
<rect x="415.72" y="336.87" width="6.24" height="8.28" fill="#dc0000"/>
<rect x="421.26" y="336.87" width="6.24" height="8.28" fill="#dc0000"/>
<rect x="426.80" y="336.87" width="6.24" height="8.28" fill="#dc0000"/>
<rect x="432.34" y="336.87" width="6.24" height="8.28" fill="#dc0000"/>
<rect x="437.88" y="336.87" width="6.24" height="8.28" fill="#dc0000"/>
<rect x="443.42" y="336.87" width="6.24" height="8.28" fill="#dc0000"/>
<rect x="448.96" y="336.87" width="6.24" height="8.28" fill="#dc0000"/>
<rect x="454.50" y="336.87" width="6.24" height="8.28" fill="#dc0000"/>
<rect x="460.05" y="336.87" width="6.24" height="8.28" fill="#dc0000"/>
<rect x="465.59" y="336.87" width="6.24" height="8.28" fill="#dc0000"/>
<rect x="471.13" y="336.87" width="6.24" height="8.28" fill="#e0501e"/>
<rect x="476.67" y="336.87" width="6.24" height="8.28" fill="#fae646"/>
<rect x="482.21" y="336.87" width="6.24" height="8.28" fill="#fae646"/>
<rect x="487.75" y="336.87" width="6.24" height="8.28" fill="#8ce650"/>
<rect x="493.29" y="336.87" width="6.24" height="8.28" fill="#8ce6fa"/>
<rect x="498.83" y="336.87" width="6.24" height="8.28" fill="#8ce6fa"/>
<rect x="504.37" y="336.87" width="6.24" height="8.28" fill="#8ce6fa"/>
<rect x="509.91" y="336.87" width="6.24" height="8.28" fill="#2850f0"/>
<rect x="515.45" y="336.87" width="6.24" height="8.28" fill="#0000f0"/>
<rect x="520.99" y="336.87" width="6.24" height="8.28" fill="#8ce6fa"/>
<rect x="526.53" y="336.87" width="6.24" height="8.28" fill="#8ce6fa"/>
<rect x="532.07" y="336.87" width="6.24" height="8.28" fill="#8ce650"/>
<rect x="537.61" y="336.87" width="6.24" height="8.28" fill="#fae646"/>
<rect x="543.15" y="336.87" width="6.24" height="8.28" fill="#fae646"/>
<rect x="548.69" y="336.87" width="6.24" height="8.28" fill="#fae646"/>
<rect x="554.23" y="336.87" width="6.24" height="8.28" fill="#f5c83c"/>
<rect x="559.77" y="336.87" width="6.24" height="8.28" fill="#dc0000"/>
<rect x="565.31" y="336.87" width="6.24" height="8.28" fill="#dc0000"/>
<rect x="570.85" y="336.87" width="6.24" height="8.28" fill="#dc0000"/>
<rect x="576.40" y="336.87" width="6.24" height="8.28" fill="#dc0000"/>
<rect x="581.94" y="336.87" width="6.24" height="8.28" fill="#dc0000"/>
<rect x="587.48" y="336.87" width="6.24" height="8.28" fill="#dc0000"/>
<rect x="593.02" y="336.87" width="6.24" height="8.28" fill="#dc0000"/>
<rect x="598.56" y="336.87" width="6.24" height="8.28" fill="#dc0000"/>
<rect x="604.10" y="336.87" width="6.24" height="8.28" fill="#dc0000"/>
<rect x="609.64" y="336.87" width="6.24" height="8.28" fill="#dc0000"/>
<rect x="615.18" y="336.87" width="6.24" height="8.28" fill="#f5c83c"/>
<rect x="620.72" y="336.87" width="6.24" height="8.28" fill="#dc0000"/>
<rect x="626.26" y="336.87" width="5.54" height="8.28" fill="#dc0000"/>
<rect x="399.10" y="344.45" width="6.24" height="8.28" fill="#e0501e"/>
<rect x="404.64" y="344.45" width="6.24" height="8.28" fill="#e0501e"/>
<rect x="410.18" y="344.45" width="6.24" height="8.28" fill="#dc0000"/>
<rect x="415.72" y="344.45" width="6.24" height="8.28" fill="#dc0000"/>
<rect x="421.26" y="344.45" width="6.24" height="8.28" fill="#dc0000"/>
<rect x="426.80" y="344.45" width="6.24" height="8.28" fill="#dc0000"/>
<rect x="432.34" y="344.45" width="6.24" height="8.28" fill="#dc0000"/>
<rect x="437.88" y="344.45" width="6.24" height="8.28" fill="#dc0000"/>
<rect x="443.42" y="344.45" width="6.24" height="8.28" fill="#dc0000"/>
<rect x="448.96" y="344.45" width="6.24" height="8.28" fill="#dc0000"/>
<rect x="454.50" y="344.45" width="6.24" height="8.28" fill="#dc0000"/>
<rect x="460.05" y="344.45" width="6.24" height="8.28" fill="#dc0000"/>
<rect x="465.59" y="344.45" width="6.24" height="8.28" fill="#dc0000"/>
<rect x="471.13" y="344.45" width="6.24" height="8.28" fill="#dc0000"/>
<rect x="476.67" y="344.45" width="6.24" height="8.28" fill="#f5c83c"/>
<rect x="482.21" y="344.45" width="6.24" height="8.28" fill="#fae646"/>
<rect x="487.75" y="344.45" width="6.24" height="8.28" fill="#96dc8c"/>
<rect x="493.29" y="344.45" width="6.24" height="8.28" fill="#8ce650"/>
<rect x="498.83" y="344.45" width="6.24" height="8.28" fill="#8ce650"/>
<rect x="504.37" y="344.45" width="6.24" height="8.28" fill="#8ce6fa"/>
<rect x="509.91" y="344.45" width="6.24" height="8.28" fill="#5aa0f5"/>
<rect x="515.45" y="344.45" width="6.24" height="8.28" fill="#5aa0f5"/>
<rect x="520.99" y="344.45" width="6.24" height="8.28" fill="#5aa0f5"/>
<rect x="526.53" y="344.45" width="6.24" height="8.28" fill="#5aa0f5"/>
<rect x="532.07" y="344.45" width="6.24" height="8.28" fill="#8ce6fa"/>
<rect x="537.61" y="344.45" width="6.24" height="8.28" fill="#c8c8b4"/>
<rect x="543.15" y="344.45" width="6.24" height="8.28" fill="#fae646"/>
<rect x="548.69" y="344.45" width="6.24" height="8.28" fill="#eb9632"/>
<rect x="554.23" y="344.45" width="6.24" height="8.28" fill="#dc0000"/>
<rect x="559.77" y="344.45" width="6.24" height="8.28" fill="#dc0000"/>
<rect x="565.31" y="344.45" width="6.24" height="8.28" fill="#dc0000"/>
<rect x="570.85" y="344.45" width="6.24" height="8.28" fill="#dc0000"/>
<rect x="576.40" y="344.45" width="6.24" height="8.28" fill="#dc0000"/>
<rect x="581.94" y="344.45" width="6.24" height="8.28" fill="#dc0000"/>
<rect x="587.48" y="344.45" width="6.24" height="8.28" fill="#dc0000"/>
<rect x="593.02" y="344.45" width="6.24" height="8.28" fill="#dc0000"/>
<rect x="598.56" y="344.45" width="6.24" height="8.28" fill="#dc0000"/>
<rect x="604.10" y="344.45" width="6.24" height="8.28" fill="#dc0000"/>
<rect x="609.64" y="344.45" width="6.24" height="8.28" fill="#dc0000"/>
<rect x="615.18" y="344.45" width="6.24" height="8.28" fill="#dc0000"/>
<rect x="620.72" y="344.45" width="6.24" height="8.28" fill="#dc0000"/>
<rect x="626.26" y="344.45" width="5.54" height="8.28" fill="#dc0000"/>
<rect x="399.10" y="352.03" width="6.24" height="8.28" fill="#fae646"/>
<rect x="404.64" y="352.03" width="6.24" height="8.28" fill="#8ce6fa"/>
<rect x="410.18" y="352.03" width="6.24" height="8.28" fill="#f5c83c"/>
<rect x="415.72" y="352.03" width="6.24" height="8.28" fill="#dc0000"/>
<rect x="421.26" y="352.03" width="6.24" height="8.28" fill="#dc0000"/>
<rect x="426.80" y="352.03" width="6.24" height="8.28" fill="#dc0000"/>
<rect x="432.34" y="352.03" width="6.24" height="8.28" fill="#dc0000"/>
<rect x="437.88" y="352.03" width="6.24" height="8.28" fill="#dc0000"/>
<rect x="443.42" y="352.03" width="6.24" height="8.28" fill="#dc0000"/>
<rect x="448.96" y="352.03" width="6.24" height="8.28" fill="#dc0000"/>
<rect x="454.50" y="352.03" width="6.24" height="8.28" fill="#dc0000"/>
<rect x="460.05" y="352.03" width="6.24" height="8.28" fill="#dc0000"/>
<rect x="465.59" y="352.03" width="6.24" height="8.28" fill="#dc0000"/>
<rect x="471.13" y="352.03" width="6.24" height="8.28" fill="#dc0000"/>
<rect x="476.67" y="352.03" width="6.24" height="8.28" fill="#e0501e"/>
<rect x="482.21" y="352.03" width="6.24" height="8.28" fill="#fae646"/>
<rect x="487.75" y="352.03" width="6.24" height="8.28" fill="#f5c83c"/>
<rect x="493.29" y="352.03" width="6.24" height="8.28" fill="#f5c83c"/>
<rect x="498.83" y="352.03" width="6.24" height="8.28" fill="#c8c8b4"/>
<rect x="504.37" y="352.03" width="6.24" height="8.28" fill="#8ce650"/>
<rect x="509.91" y="352.03" width="6.24" height="8.28" fill="#c8c8b4"/>
<rect x="515.45" y="352.03" width="6.24" height="8.28" fill="#8ce650"/>
<rect x="520.99" y="352.03" width="6.24" height="8.28" fill="#96dc8c"/>
<rect x="526.53" y="352.03" width="6.24" height="8.28" fill="#8ce6fa"/>
<rect x="532.07" y="352.03" width="6.24" height="8.28" fill="#96dc8c"/>
<rect x="537.61" y="352.03" width="6.24" height="8.28" fill="#fae646"/>
<rect x="543.15" y="352.03" width="6.24" height="8.28" fill="#e0501e"/>
<rect x="548.69" y="352.03" width="6.24" height="8.28" fill="#dc0000"/>
<rect x="554.23" y="352.03" width="6.24" height="8.28" fill="#dc0000"/>
<rect x="559.77" y="352.03" width="6.24" height="8.28" fill="#dc0000"/>
<rect x="565.31" y="352.03" width="6.24" height="8.28" fill="#dc0000"/>
<rect x="570.85" y="352.03" width="6.24" height="8.28" fill="#dc0000"/>
<rect x="576.40" y="352.03" width="6.24" height="8.28" fill="#dc0000"/>
<rect x="581.94" y="352.03" width="6.24" height="8.28" fill="#dc0000"/>
<rect x="587.48" y="352.03" width="6.24" height="8.28" fill="#dc0000"/>
<rect x="593.02" y="352.03" width="6.24" height="8.28" fill="#dc0000"/>
<rect x="598.56" y="352.03" width="6.24" height="8.28" fill="#dc0000"/>
<rect x="604.10" y="352.03" width="6.24" height="8.28" fill="#dc0000"/>
<rect x="609.64" y="352.03" width="6.24" height="8.28" fill="#dc0000"/>
<rect x="615.18" y="352.03" width="6.24" height="8.28" fill="#dc0000"/>
<rect x="620.72" y="352.03" width="6.24" height="8.28" fill="#dc0000"/>
<rect x="626.26" y="352.03" width="5.54" height="8.28" fill="#dc0000"/>
<rect x="399.10" y="359.61" width="6.24" height="8.28" fill="#dc0000"/>
<rect x="404.64" y="359.61" width="6.24" height="8.28" fill="#f5c83c"/>
<rect x="410.18" y="359.61" width="6.24" height="8.28" fill="#dc0000"/>
<rect x="415.72" y="359.61" width="6.24" height="8.28" fill="#dc0000"/>
<rect x="421.26" y="359.61" width="6.24" height="8.28" fill="#dc0000"/>
<rect x="426.80" y="359.61" width="6.24" height="8.28" fill="#dc0000"/>
<rect x="432.34" y="359.61" width="6.24" height="8.28" fill="#dc0000"/>
<rect x="437.88" y="359.61" width="6.24" height="8.28" fill="#dc0000"/>
<rect x="443.42" y="359.61" width="6.24" height="8.28" fill="#dc0000"/>
<rect x="448.96" y="359.61" width="6.24" height="8.28" fill="#dc0000"/>
<rect x="454.50" y="359.61" width="6.24" height="8.28" fill="#dc0000"/>
<rect x="460.05" y="359.61" width="6.24" height="8.28" fill="#dc0000"/>
<rect x="465.59" y="359.61" width="6.24" height="8.28" fill="#dc0000"/>
<rect x="471.13" y="359.61" width="6.24" height="8.28" fill="#dc0000"/>
<rect x="476.67" y="359.61" width="6.24" height="8.28" fill="#dc0000"/>
<rect x="482.21" y="359.61" width="6.24" height="8.28" fill="#e0501e"/>
<rect x="487.75" y="359.61" width="6.24" height="8.28" fill="#f5c83c"/>
<rect x="493.29" y="359.61" width="6.24" height="8.28" fill="#f5c83c"/>
<rect x="498.83" y="359.61" width="6.24" height="8.28" fill="#c8c8b4"/>
<rect x="504.37" y="359.61" width="6.24" height="8.28" fill="#fae646"/>
<rect x="509.91" y="359.61" width="6.24" height="8.28" fill="#fae646"/>
<rect x="515.45" y="359.61" width="6.24" height="8.28" fill="#c8c8b4"/>
<rect x="520.99" y="359.61" width="6.24" height="8.28" fill="#96dc8c"/>
<rect x="526.53" y="359.61" width="6.24" height="8.28" fill="#c8c8b4"/>
<rect x="532.07" y="359.61" width="6.24" height="8.28" fill="#fae646"/>
<rect x="537.61" y="359.61" width="6.24" height="8.28" fill="#e0501e"/>
<rect x="543.15" y="359.61" width="6.24" height="8.28" fill="#dc0000"/>
<rect x="548.69" y="359.61" width="6.24" height="8.28" fill="#dc0000"/>
<rect x="554.23" y="359.61" width="6.24" height="8.28" fill="#dc0000"/>
<rect x="559.77" y="359.61" width="6.24" height="8.28" fill="#dc0000"/>
<rect x="565.31" y="359.61" width="6.24" height="8.28" fill="#dc0000"/>
<rect x="570.85" y="359.61" width="6.24" height="8.28" fill="#dc0000"/>
<rect x="576.40" y="359.61" width="6.24" height="8.28" fill="#dc0000"/>
<rect x="581.94" y="359.61" width="6.24" height="8.28" fill="#dc0000"/>
<rect x="587.48" y="359.61" width="6.24" height="8.28" fill="#dc0000"/>
<rect x="593.02" y="359.61" width="6.24" height="8.28" fill="#dc0000"/>
<rect x="598.56" y="359.61" width="6.24" height="8.28" fill="#dc0000"/>
<rect x="604.10" y="359.61" width="6.24" height="8.28" fill="#dc0000"/>
<rect x="609.64" y="359.61" width="6.24" height="8.28" fill="#dc0000"/>
<rect x="615.18" y="359.61" width="6.24" height="8.28" fill="#dc0000"/>
<rect x="620.72" y="359.61" width="6.24" height="8.28" fill="#dc0000"/>
<rect x="626.26" y="359.61" width="5.54" height="8.28" fill="#dc0000"/>
<rect x="399.10" y="367.18" width="6.24" height="8.28" fill="#dc0000"/>
<rect x="404.64" y="367.18" width="6.24" height="8.28" fill="#dc0000"/>
<rect x="410.18" y="367.18" width="6.24" height="8.28" fill="#f5c83c"/>
<rect x="415.72" y="367.18" width="6.24" height="8.28" fill="#c8c8b4"/>
<rect x="421.26" y="367.18" width="6.24" height="8.28" fill="#dc0000"/>
<rect x="426.80" y="367.18" width="6.24" height="8.28" fill="#dc0000"/>
<rect x="432.34" y="367.18" width="6.24" height="8.28" fill="#dc0000"/>
<rect x="437.88" y="367.18" width="6.24" height="8.28" fill="#dc0000"/>
<rect x="443.42" y="367.18" width="6.24" height="8.28" fill="#dc0000"/>
<rect x="448.96" y="367.18" width="6.24" height="8.28" fill="#dc0000"/>
<rect x="454.50" y="367.18" width="6.24" height="8.28" fill="#dc0000"/>
<rect x="460.05" y="367.18" width="6.24" height="8.28" fill="#dc0000"/>
<rect x="465.59" y="367.18" width="6.24" height="8.28" fill="#dc0000"/>
<rect x="471.13" y="367.18" width="6.24" height="8.28" fill="#dc0000"/>
<rect x="476.67" y="367.18" width="6.24" height="8.28" fill="#dc0000"/>
<rect x="482.21" y="367.18" width="6.24" height="8.28" fill="#dc0000"/>
<rect x="487.75" y="367.18" width="6.24" height="8.28" fill="#e0501e"/>
<rect x="493.29" y="367.18" width="6.24" height="8.28" fill="#f5c83c"/>
<rect x="498.83" y="367.18" width="6.24" height="8.28" fill="#c8c8b4"/>
<rect x="504.37" y="367.18" width="6.24" height="8.28" fill="#fae646"/>
<rect x="509.91" y="367.18" width="6.24" height="8.28" fill="#fae646"/>
<rect x="515.45" y="367.18" width="6.24" height="8.28" fill="#fae646"/>
<rect x="520.99" y="367.18" width="6.24" height="8.28" fill="#96dc8c"/>
<rect x="526.53" y="367.18" width="6.24" height="8.28" fill="#96dc8c"/>
<rect x="532.07" y="367.18" width="6.24" height="8.28" fill="#f5c83c"/>
<rect x="537.61" y="367.18" width="6.24" height="8.28" fill="#dc0000"/>
<rect x="543.15" y="367.18" width="6.24" height="8.28" fill="#dc0000"/>
<rect x="548.69" y="367.18" width="6.24" height="8.28" fill="#dc0000"/>
<rect x="554.23" y="367.18" width="6.24" height="8.28" fill="#dc0000"/>
<rect x="559.77" y="367.18" width="6.24" height="8.28" fill="#dc0000"/>
<rect x="565.31" y="367.18" width="6.24" height="8.28" fill="#dc0000"/>
<rect x="570.85" y="367.18" width="6.24" height="8.28" fill="#dc0000"/>
<rect x="576.40" y="367.18" width="6.24" height="8.28" fill="#dc0000"/>
<rect x="581.94" y="367.18" width="6.24" height="8.28" fill="#dc0000"/>
<rect x="587.48" y="367.18" width="6.24" height="8.28" fill="#dc0000"/>
<rect x="593.02" y="367.18" width="6.24" height="8.28" fill="#dc0000"/>
<rect x="598.56" y="367.18" width="6.24" height="8.28" fill="#dc0000"/>
<rect x="604.10" y="367.18" width="6.24" height="8.28" fill="#dc0000"/>
<rect x="609.64" y="367.18" width="6.24" height="8.28" fill="#dc0000"/>
<rect x="615.18" y="367.18" width="6.24" height="8.28" fill="#dc0000"/>
<rect x="620.72" y="367.18" width="6.24" height="8.28" fill="#dc0000"/>
<rect x="626.26" y="367.18" width="5.54" height="8.28" fill="#dc0000"/>
<rect x="399.10" y="374.76" width="6.24" height="8.28" fill="#dc0000"/>
<rect x="404.64" y="374.76" width="6.24" height="8.28" fill="#dc0000"/>
<rect x="410.18" y="374.76" width="6.24" height="8.28" fill="#dc0000"/>
<rect x="415.72" y="374.76" width="6.24" height="8.28" fill="#dc0000"/>
<rect x="421.26" y="374.76" width="6.24" height="8.28" fill="#e0501e"/>
<rect x="426.80" y="374.76" width="6.24" height="8.28" fill="#dc0000"/>
<rect x="432.34" y="374.76" width="6.24" height="8.28" fill="#dc0000"/>
<rect x="437.88" y="374.76" width="6.24" height="8.28" fill="#dc0000"/>
<rect x="443.42" y="374.76" width="6.24" height="8.28" fill="#dc0000"/>
<rect x="448.96" y="374.76" width="6.24" height="8.28" fill="#dc0000"/>
<rect x="454.50" y="374.76" width="6.24" height="8.28" fill="#dc0000"/>
<rect x="460.05" y="374.76" width="6.24" height="8.28" fill="#dc0000"/>
<rect x="465.59" y="374.76" width="6.24" height="8.28" fill="#dc0000"/>
<rect x="471.13" y="374.76" width="6.24" height="8.28" fill="#dc0000"/>
<rect x="476.67" y="374.76" width="6.24" height="8.28" fill="#dc0000"/>
<rect x="482.21" y="374.76" width="6.24" height="8.28" fill="#dc0000"/>
<rect x="487.75" y="374.76" width="6.24" height="8.28" fill="#e0501e"/>
<rect x="493.29" y="374.76" width="6.24" height="8.28" fill="#f5c83c"/>
<rect x="498.83" y="374.76" width="6.24" height="8.28" fill="#fae646"/>
<rect x="504.37" y="374.76" width="6.24" height="8.28" fill="#c8c8b4"/>
<rect x="509.91" y="374.76" width="6.24" height="8.28" fill="#c8c8b4"/>
<rect x="515.45" y="374.76" width="6.24" height="8.28" fill="#96dc8c"/>
<rect x="520.99" y="374.76" width="6.24" height="8.28" fill="#8ce6fa"/>
<rect x="526.53" y="374.76" width="6.24" height="8.28" fill="#8ce650"/>
<rect x="532.07" y="374.76" width="6.24" height="8.28" fill="#eb9632"/>
<rect x="537.61" y="374.76" width="6.24" height="8.28" fill="#dc0000"/>
<rect x="543.15" y="374.76" width="6.24" height="8.28" fill="#dc0000"/>
<rect x="548.69" y="374.76" width="6.24" height="8.28" fill="#dc0000"/>
<rect x="554.23" y="374.76" width="6.24" height="8.28" fill="#dc0000"/>
<rect x="559.77" y="374.76" width="6.24" height="8.28" fill="#dc0000"/>
<rect x="565.31" y="374.76" width="6.24" height="8.28" fill="#dc0000"/>
<rect x="570.85" y="374.76" width="6.24" height="8.28" fill="#dc0000"/>
<rect x="576.40" y="374.76" width="6.24" height="8.28" fill="#dc0000"/>
<rect x="581.94" y="374.76" width="6.24" height="8.28" fill="#dc0000"/>
<rect x="587.48" y="374.76" width="6.24" height="8.28" fill="#dc0000"/>
<rect x="593.02" y="374.76" width="6.24" height="8.28" fill="#dc0000"/>
<rect x="598.56" y="374.76" width="6.24" height="8.28" fill="#dc0000"/>
<rect x="604.10" y="374.76" width="6.24" height="8.28" fill="#dc0000"/>
<rect x="609.64" y="374.76" width="6.24" height="8.28" fill="#dc0000"/>
<rect x="615.18" y="374.76" width="6.24" height="8.28" fill="#dc0000"/>
<rect x="620.72" y="374.76" width="6.24" height="8.28" fill="#dc0000"/>
<rect x="626.26" y="374.76" width="5.54" height="8.28" fill="#dc0000"/>
<rect x="399.10" y="382.34" width="6.24" height="8.28" fill="#dc0000"/>
<rect x="404.64" y="382.34" width="6.24" height="8.28" fill="#fae646"/>
<rect x="410.18" y="382.34" width="6.24" height="8.28" fill="#dc0000"/>
<rect x="415.72" y="382.34" width="6.24" height="8.28" fill="#dc0000"/>
<rect x="421.26" y="382.34" width="6.24" height="8.28" fill="#fae646"/>
<rect x="426.80" y="382.34" width="6.24" height="8.28" fill="#dc0000"/>
<rect x="432.34" y="382.34" width="6.24" height="8.28" fill="#dc0000"/>
<rect x="437.88" y="382.34" width="6.24" height="8.28" fill="#dc0000"/>
<rect x="443.42" y="382.34" width="6.24" height="8.28" fill="#dc0000"/>
<rect x="448.96" y="382.34" width="6.24" height="8.28" fill="#dc0000"/>
<rect x="454.50" y="382.34" width="6.24" height="8.28" fill="#dc0000"/>
<rect x="460.05" y="382.34" width="6.24" height="8.28" fill="#dc0000"/>
<rect x="465.59" y="382.34" width="6.24" height="8.28" fill="#dc0000"/>
<rect x="471.13" y="382.34" width="6.24" height="8.28" fill="#dc0000"/>
<rect x="476.67" y="382.34" width="6.24" height="8.28" fill="#dc0000"/>
<rect x="482.21" y="382.34" width="6.24" height="8.28" fill="#dc0000"/>
<rect x="487.75" y="382.34" width="6.24" height="8.28" fill="#e0501e"/>
<rect x="493.29" y="382.34" width="6.24" height="8.28" fill="#f5c83c"/>
<rect x="498.83" y="382.34" width="6.24" height="8.28" fill="#fae646"/>
<rect x="504.37" y="382.34" width="6.24" height="8.28" fill="#fae646"/>
<rect x="509.91" y="382.34" width="6.24" height="8.28" fill="#96dc8c"/>
<rect x="515.45" y="382.34" width="6.24" height="8.28" fill="#8ce6fa"/>
<rect x="520.99" y="382.34" width="6.24" height="8.28" fill="#c8c8b4"/>
<rect x="526.53" y="382.34" width="6.24" height="8.28" fill="#96dc8c"/>
<rect x="532.07" y="382.34" width="6.24" height="8.28" fill="#fae646"/>
<rect x="537.61" y="382.34" width="6.24" height="8.28" fill="#dc0000"/>
<rect x="543.15" y="382.34" width="6.24" height="8.28" fill="#dc0000"/>
<rect x="548.69" y="382.34" width="6.24" height="8.28" fill="#dc0000"/>
<rect x="554.23" y="382.34" width="6.24" height="8.28" fill="#dc0000"/>
<rect x="559.77" y="382.34" width="6.24" height="8.28" fill="#dc0000"/>
<rect x="565.31" y="382.34" width="6.24" height="8.28" fill="#dc0000"/>
<rect x="570.85" y="382.34" width="6.24" height="8.28" fill="#dc0000"/>
<rect x="576.40" y="382.34" width="6.24" height="8.28" fill="#dc0000"/>
<rect x="581.94" y="382.34" width="6.24" height="8.28" fill="#dc0000"/>
<rect x="587.48" y="382.34" width="6.24" height="8.28" fill="#dc0000"/>
<rect x="593.02" y="382.34" width="6.24" height="8.28" fill="#dc0000"/>
<rect x="598.56" y="382.34" width="6.24" height="8.28" fill="#dc0000"/>
<rect x="604.10" y="382.34" width="6.24" height="8.28" fill="#e0501e"/>
<rect x="609.64" y="382.34" width="6.24" height="8.28" fill="#e0501e"/>
<rect x="615.18" y="382.34" width="6.24" height="8.28" fill="#dc0000"/>
<rect x="620.72" y="382.34" width="6.24" height="8.28" fill="#dc0000"/>
<rect x="626.26" y="382.34" width="5.54" height="8.28" fill="#f5c83c"/>
<rect x="399.10" y="389.92" width="6.24" height="7.58" fill="#2850f0"/>
<rect x="404.64" y="389.92" width="6.24" height="7.58" fill="#5aa0f5"/>
<rect x="410.18" y="389.92" width="6.24" height="7.58" fill="#f5c83c"/>
<rect x="415.72" y="389.92" width="6.24" height="7.58" fill="#96dc8c"/>
<rect x="421.26" y="389.92" width="6.24" height="7.58" fill="#2850f0"/>
<rect x="426.80" y="389.92" width="6.24" height="7.58" fill="#e0501e"/>
<rect x="432.34" y="389.92" width="6.24" height="7.58" fill="#e0501e"/>
<rect x="437.88" y="389.92" width="6.24" height="7.58" fill="#eb9632"/>
<rect x="443.42" y="389.92" width="6.24" height="7.58" fill="#dc0000"/>
<rect x="448.96" y="389.92" width="6.24" height="7.58" fill="#dc0000"/>
<rect x="454.50" y="389.92" width="6.24" height="7.58" fill="#dc0000"/>
<rect x="460.05" y="389.92" width="6.24" height="7.58" fill="#dc0000"/>
<rect x="465.59" y="389.92" width="6.24" height="7.58" fill="#dc0000"/>
<rect x="471.13" y="389.92" width="6.24" height="7.58" fill="#dc0000"/>
<rect x="476.67" y="389.92" width="6.24" height="7.58" fill="#dc0000"/>
<rect x="482.21" y="389.92" width="6.24" height="7.58" fill="#dc0000"/>
<rect x="487.75" y="389.92" width="6.24" height="7.58" fill="#f5c83c"/>
<rect x="493.29" y="389.92" width="6.24" height="7.58" fill="#c8c8b4"/>
<rect x="498.83" y="389.92" width="6.24" height="7.58" fill="#fae646"/>
<rect x="504.37" y="389.92" width="6.24" height="7.58" fill="#96dc8c"/>
<rect x="509.91" y="389.92" width="6.24" height="7.58" fill="#96dc8c"/>
<rect x="515.45" y="389.92" width="6.24" height="7.58" fill="#8ce650"/>
<rect x="520.99" y="389.92" width="6.24" height="7.58" fill="#8ce6fa"/>
<rect x="526.53" y="389.92" width="6.24" height="7.58" fill="#fae646"/>
<rect x="532.07" y="389.92" width="6.24" height="7.58" fill="#fae646"/>
<rect x="537.61" y="389.92" width="6.24" height="7.58" fill="#dc0000"/>
<rect x="543.15" y="389.92" width="6.24" height="7.58" fill="#dc0000"/>
<rect x="548.69" y="389.92" width="6.24" height="7.58" fill="#dc0000"/>
<rect x="554.23" y="389.92" width="6.24" height="7.58" fill="#dc0000"/>
<rect x="559.77" y="389.92" width="6.24" height="7.58" fill="#dc0000"/>
<rect x="565.31" y="389.92" width="6.24" height="7.58" fill="#dc0000"/>
<rect x="570.85" y="389.92" width="6.24" height="7.58" fill="#dc0000"/>
<rect x="576.40" y="389.92" width="6.24" height="7.58" fill="#dc0000"/>
<rect x="581.94" y="389.92" width="6.24" height="7.58" fill="#dc0000"/>
<rect x="587.48" y="389.92" width="6.24" height="7.58" fill="#dc0000"/>
<rect x="593.02" y="389.92" width="6.24" height="7.58" fill="#dc0000"/>
<rect x="598.56" y="389.92" width="6.24" height="7.58" fill="#dc0000"/>
<rect x="604.10" y="389.92" width="6.24" height="7.58" fill="#dc0000"/>
<rect x="609.64" y="389.92" width="6.24" height="7.58" fill="#dc0000"/>
<rect x="615.18" y="389.92" width="6.24" height="7.58" fill="#dc0000"/>
<rect x="620.72" y="389.92" width="6.24" height="7.58" fill="#8ce650"/>
<rect x="626.26" y="389.92" width="5.54" height="7.58" fill="#0000f0"/>
<path d="M400.3 401.0v-5.2M400.3 251.0v5.2M457.6 401.0v-5.2M457.6 251.0v5.2M515.0 401.0v-5.2M515.0 251.0v5.2M572.4 401.0v-5.2M572.4 251.0v5.2M629.7 401.0v-5.2M629.7 251.0v5.2M411.8 401.0v-2.6M411.8 251.0v2.6M423.2 401.0v-2.6M423.2 251.0v2.6M434.7 401.0v-2.6M434.7 251.0v2.6M446.2 401.0v-2.6M446.2 251.0v2.6M469.1 401.0v-2.6M469.1 251.0v2.6M480.6 401.0v-2.6M480.6 251.0v2.6M492.1 401.0v-2.6M492.1 251.0v2.6M503.5 401.0v-2.6M503.5 251.0v2.6M526.5 401.0v-2.6M526.5 251.0v2.6M537.9 401.0v-2.6M537.9 251.0v2.6M549.4 401.0v-2.6M549.4 251.0v2.6M560.9 401.0v-2.6M560.9 251.0v2.6M583.8 401.0v-2.6M583.8 251.0v2.6M595.3 401.0v-2.6M595.3 251.0v2.6M606.8 401.0v-2.6M606.8 251.0v2.6M618.2 401.0v-2.6M618.2 251.0v2.6" stroke="#000" stroke-width="1.4" fill="none"/>
<path d="M394.3 268.3h5.2M636.3 268.3h-5.2M394.3 302.1h5.2M636.3 302.1h-5.2M394.3 336.0h5.2M636.3 336.0h-5.2M394.3 369.8h5.2M636.3 369.8h-5.2M394.3 396.9h2.6M636.3 396.9h-2.6M394.3 390.2h2.6M636.3 390.2h-2.6M394.3 383.4h2.6M636.3 383.4h-2.6M394.3 376.6h2.6M636.3 376.6h-2.6M394.3 363.1h2.6M636.3 363.1h-2.6M394.3 356.3h2.6M636.3 356.3h-2.6M394.3 349.5h2.6M636.3 349.5h-2.6M394.3 342.8h2.6M636.3 342.8h-2.6M394.3 329.2h2.6M636.3 329.2h-2.6M394.3 322.4h2.6M636.3 322.4h-2.6M394.3 315.7h2.6M636.3 315.7h-2.6M394.3 308.9h2.6M636.3 308.9h-2.6M394.3 295.4h2.6M636.3 295.4h-2.6M394.3 288.6h2.6M636.3 288.6h-2.6M394.3 281.8h2.6M636.3 281.8h-2.6M394.3 275.0h2.6M636.3 275.0h-2.6M394.3 261.5h2.6M636.3 261.5h-2.6M394.3 254.7h2.6M636.3 254.7h-2.6" stroke="#000" stroke-width="1.4" fill="none"/>
<text x="389.7" y="274.9" font-size="18.3" text-anchor="end" >-745</text>
<text x="389.7" y="308.7" font-size="18.3" text-anchor="end" >-750</text>
<text x="389.7" y="342.6" font-size="18.3" text-anchor="end" >-755</text>
<text x="389.7" y="376.4" font-size="18.3" text-anchor="end" >-760</text>
<text x="0" y="0" font-size="18.3" text-anchor="middle" transform="translate(341.8,326.0) rotate(-90)">Y [arcsec]</text>
<rect x="394.3" y="251.0" width="242.0" height="150.0" fill="none" stroke="#000" stroke-width="1.6"/>
<path d="M457.2 251.3V400.7M573.5 251.3V400.7" stroke="#82f03c" stroke-width="3.5"/>
<path d="M501.5 387.4V401M529.3 387.4V401M501.5 394.4H529.3" stroke="#e00808" stroke-width="3.1" fill="none"/>
<text x="400.3" y="423.8" font-size="18.3" text-anchor="middle" >-0.10</text>
<text x="457.6" y="423.8" font-size="18.3" text-anchor="middle" >-0.05</text>
<text x="515.0" y="423.8" font-size="18.3" text-anchor="middle" >0.00</text>
<text x="572.4" y="423.8" font-size="18.3" text-anchor="middle" >0.05</text>
<text x="629.7" y="423.8" font-size="18.3" text-anchor="middle" >0.10</text>
<text x="515.3" y="443.1" font-size="18.3" text-anchor="middle" >Wavelength [nm]</text>
<text x="464.38" y="241.20" font-size="22.6" xml:space="preserve">(d) Ly</text>
<text x="0" y="0" font-size="22.6" transform="translate(520.24,241.20) scale(1.25,1)">α</text>
<text x="535.04" y="241.20" font-size="22.6" xml:space="preserve"> </text>
<text x="540.69" y="241.20" font-size="22.6" font-style="italic" xml:space="preserve">U/I</text>
<defs><linearGradient id="cg1" x1="0" y1="0" x2="0" y2="1"><stop offset="0.000" stop-color="#d71e14"/><stop offset="0.090" stop-color="#e1461e"/><stop offset="0.165" stop-color="#e67828"/><stop offset="0.235" stop-color="#f0aa2d"/><stop offset="0.310" stop-color="#f5d232"/><stop offset="0.400" stop-color="#faf532"/><stop offset="0.455" stop-color="#d7d282"/><stop offset="0.500" stop-color="#c3c3c3"/><stop offset="0.525" stop-color="#aad28c"/><stop offset="0.580" stop-color="#78e646"/><stop offset="0.645" stop-color="#6ef08c"/><stop offset="0.690" stop-color="#82ebfa"/><stop offset="0.755" stop-color="#5aaaf5"/><stop offset="0.845" stop-color="#3c6ef0"/><stop offset="0.925" stop-color="#283cf0"/><stop offset="1.000" stop-color="#1414eb"/></linearGradient></defs>
<rect x="644.0" y="251.0" width="17.9" height="149.9" fill="url(#cg1)"/>
<rect x="644.0" y="251.0" width="17.9" height="149.9" fill="none" stroke="#000" stroke-width="1.9"/>
<path d="M644.0 276.0h4.8M661.9 276.0h-4.8M644.0 301.0h4.8M661.9 301.0h-4.8M644.0 325.9h4.8M661.9 325.9h-4.8M644.0 350.9h4.8M661.9 350.9h-4.8M644.0 375.9h4.8M661.9 375.9h-4.8" stroke="#000" stroke-width="2"/>
<text x="665.5" y="260.0" font-size="16" text-anchor="start" >0.6</text>
<text x="665.5" y="281.1" font-size="16" text-anchor="start" >0.4</text>
<text x="665.5" y="306.3" font-size="16" text-anchor="start" >0.2</text>
<text x="665.5" y="331.4" font-size="16" text-anchor="start" >-0.0</text>
<text x="665.5" y="356.3" font-size="16" text-anchor="start" >-0.2</text>
<text x="665.5" y="381.3" font-size="16" text-anchor="start" >-0.4</text>
<text x="665.5" y="401.2" font-size="16" text-anchor="start" >-0.6</text>
<text x="0" y="0" font-size="14" text-anchor="middle" transform="translate(702.3,326.0) rotate(-90)">[%]</text>
<rect x="75.00" y="482.80" width="13.61" height="8.19" fill="#262626"/>
<rect x="87.91" y="482.80" width="13.61" height="8.19" fill="#282828"/>
<rect x="100.82" y="482.80" width="13.61" height="8.19" fill="#303030"/>
<rect x="113.74" y="482.80" width="13.61" height="8.19" fill="#3c3c3c"/>
<rect x="126.65" y="482.80" width="13.61" height="8.19" fill="#505050"/>
<rect x="139.56" y="482.80" width="13.61" height="8.19" fill="#646464"/>
<rect x="152.47" y="482.80" width="13.61" height="8.19" fill="#828282"/>
<rect x="165.38" y="482.80" width="13.61" height="8.19" fill="#919191"/>
<rect x="178.29" y="482.80" width="13.61" height="8.19" fill="#969696"/>
<rect x="191.21" y="482.80" width="13.61" height="8.19" fill="#8c8c8c"/>
<rect x="204.12" y="482.80" width="13.61" height="8.19" fill="#787878"/>
<rect x="217.03" y="482.80" width="13.61" height="8.19" fill="#5f5f5f"/>
<rect x="229.94" y="482.80" width="13.61" height="8.19" fill="#414141"/>
<rect x="242.85" y="482.80" width="13.61" height="8.19" fill="#373737"/>
<rect x="255.76" y="482.80" width="13.61" height="8.19" fill="#2d2d2d"/>
<rect x="268.68" y="482.80" width="13.61" height="8.19" fill="#282828"/>
<rect x="281.59" y="482.80" width="12.91" height="8.19" fill="#2a2a2a"/>
<rect x="75.00" y="490.29" width="13.61" height="8.19" fill="#1e1e1e"/>
<rect x="87.91" y="490.29" width="13.61" height="8.19" fill="#262626"/>
<rect x="100.82" y="490.29" width="13.61" height="8.19" fill="#2d2d2d"/>
<rect x="113.74" y="490.29" width="13.61" height="8.19" fill="#373737"/>
<rect x="126.65" y="490.29" width="13.61" height="8.19" fill="#4b4b4b"/>
<rect x="139.56" y="490.29" width="13.61" height="8.19" fill="#5f5f5f"/>
<rect x="152.47" y="490.29" width="13.61" height="8.19" fill="#787878"/>
<rect x="165.38" y="490.29" width="13.61" height="8.19" fill="#8c8c8c"/>
<rect x="178.29" y="490.29" width="13.61" height="8.19" fill="#969696"/>
<rect x="191.21" y="490.29" width="13.61" height="8.19" fill="#8c8c8c"/>
<rect x="204.12" y="490.29" width="13.61" height="8.19" fill="#787878"/>
<rect x="217.03" y="490.29" width="13.61" height="8.19" fill="#5a5a5a"/>
<rect x="229.94" y="490.29" width="13.61" height="8.19" fill="#414141"/>
<rect x="242.85" y="490.29" width="13.61" height="8.19" fill="#323232"/>
<rect x="255.76" y="490.29" width="13.61" height="8.19" fill="#262626"/>
<rect x="268.68" y="490.29" width="13.61" height="8.19" fill="#202020"/>
<rect x="281.59" y="490.29" width="12.91" height="8.19" fill="#282828"/>
<rect x="75.00" y="497.78" width="13.61" height="8.19" fill="#1c1c1c"/>
<rect x="87.91" y="497.78" width="13.61" height="8.19" fill="#262626"/>
<rect x="100.82" y="497.78" width="13.61" height="8.19" fill="#2a2a2a"/>
<rect x="113.74" y="497.78" width="13.61" height="8.19" fill="#343434"/>
<rect x="126.65" y="497.78" width="13.61" height="8.19" fill="#464646"/>
<rect x="139.56" y="497.78" width="13.61" height="8.19" fill="#5f5f5f"/>
<rect x="152.47" y="497.78" width="13.61" height="8.19" fill="#787878"/>
<rect x="165.38" y="497.78" width="13.61" height="8.19" fill="#878787"/>
<rect x="178.29" y="497.78" width="13.61" height="8.19" fill="#919191"/>
<rect x="191.21" y="497.78" width="13.61" height="8.19" fill="#8c8c8c"/>
<rect x="204.12" y="497.78" width="13.61" height="8.19" fill="#787878"/>
<rect x="217.03" y="497.78" width="13.61" height="8.19" fill="#5f5f5f"/>
<rect x="229.94" y="497.78" width="13.61" height="8.19" fill="#464646"/>
<rect x="242.85" y="497.78" width="13.61" height="8.19" fill="#343434"/>
<rect x="255.76" y="497.78" width="13.61" height="8.19" fill="#262626"/>
<rect x="268.68" y="497.78" width="13.61" height="8.19" fill="#232323"/>
<rect x="281.59" y="497.78" width="12.91" height="8.19" fill="#282828"/>
<rect x="75.00" y="505.27" width="13.61" height="8.19" fill="#1c1c1c"/>
<rect x="87.91" y="505.27" width="13.61" height="8.19" fill="#262626"/>
<rect x="100.82" y="505.27" width="13.61" height="8.19" fill="#2a2a2a"/>
<rect x="113.74" y="505.27" width="13.61" height="8.19" fill="#323232"/>
<rect x="126.65" y="505.27" width="13.61" height="8.19" fill="#464646"/>
<rect x="139.56" y="505.27" width="13.61" height="8.19" fill="#5f5f5f"/>
<rect x="152.47" y="505.27" width="13.61" height="8.19" fill="#787878"/>
<rect x="165.38" y="505.27" width="13.61" height="8.19" fill="#8c8c8c"/>
<rect x="178.29" y="505.27" width="13.61" height="8.19" fill="#969696"/>
<rect x="191.21" y="505.27" width="13.61" height="8.19" fill="#919191"/>
<rect x="204.12" y="505.27" width="13.61" height="8.19" fill="#7d7d7d"/>
<rect x="217.03" y="505.27" width="13.61" height="8.19" fill="#646464"/>
<rect x="229.94" y="505.27" width="13.61" height="8.19" fill="#464646"/>
<rect x="242.85" y="505.27" width="13.61" height="8.19" fill="#373737"/>
<rect x="255.76" y="505.27" width="13.61" height="8.19" fill="#2a2a2a"/>
<rect x="268.68" y="505.27" width="13.61" height="8.19" fill="#262626"/>
<rect x="281.59" y="505.27" width="12.91" height="8.19" fill="#2a2a2a"/>
<rect x="75.00" y="512.76" width="13.61" height="8.19" fill="#202020"/>
<rect x="87.91" y="512.76" width="13.61" height="8.19" fill="#282828"/>
<rect x="100.82" y="512.76" width="13.61" height="8.19" fill="#303030"/>
<rect x="113.74" y="512.76" width="13.61" height="8.19" fill="#3c3c3c"/>
<rect x="126.65" y="512.76" width="13.61" height="8.19" fill="#505050"/>
<rect x="139.56" y="512.76" width="13.61" height="8.19" fill="#6e6e6e"/>
<rect x="152.47" y="512.76" width="13.61" height="8.19" fill="#828282"/>
<rect x="165.38" y="512.76" width="13.61" height="8.19" fill="#969696"/>
<rect x="178.29" y="512.76" width="13.61" height="8.19" fill="#a0a0a0"/>
<rect x="191.21" y="512.76" width="13.61" height="8.19" fill="#969696"/>
<rect x="204.12" y="512.76" width="13.61" height="8.19" fill="#878787"/>
<rect x="217.03" y="512.76" width="13.61" height="8.19" fill="#6e6e6e"/>
<rect x="229.94" y="512.76" width="13.61" height="8.19" fill="#4b4b4b"/>
<rect x="242.85" y="512.76" width="13.61" height="8.19" fill="#373737"/>
<rect x="255.76" y="512.76" width="13.61" height="8.19" fill="#2d2d2d"/>
<rect x="268.68" y="512.76" width="13.61" height="8.19" fill="#282828"/>
<rect x="281.59" y="512.76" width="12.91" height="8.19" fill="#282828"/>
<rect x="75.00" y="520.25" width="13.61" height="8.19" fill="#232323"/>
<rect x="87.91" y="520.25" width="13.61" height="8.19" fill="#282828"/>
<rect x="100.82" y="520.25" width="13.61" height="8.19" fill="#303030"/>
<rect x="113.74" y="520.25" width="13.61" height="8.19" fill="#3c3c3c"/>
<rect x="126.65" y="520.25" width="13.61" height="8.19" fill="#555555"/>
<rect x="139.56" y="520.25" width="13.61" height="8.19" fill="#737373"/>
<rect x="152.47" y="520.25" width="13.61" height="8.19" fill="#8c8c8c"/>
<rect x="165.38" y="520.25" width="13.61" height="8.19" fill="#a0a0a0"/>
<rect x="178.29" y="520.25" width="13.61" height="8.19" fill="#a5a5a5"/>
<rect x="191.21" y="520.25" width="13.61" height="8.19" fill="#a0a0a0"/>
<rect x="204.12" y="520.25" width="13.61" height="8.19" fill="#8c8c8c"/>
<rect x="217.03" y="520.25" width="13.61" height="8.19" fill="#737373"/>
<rect x="229.94" y="520.25" width="13.61" height="8.19" fill="#505050"/>
<rect x="242.85" y="520.25" width="13.61" height="8.19" fill="#3a3a3a"/>
<rect x="255.76" y="520.25" width="13.61" height="8.19" fill="#2d2d2d"/>
<rect x="268.68" y="520.25" width="13.61" height="8.19" fill="#282828"/>
<rect x="281.59" y="520.25" width="12.91" height="8.19" fill="#282828"/>
<rect x="75.00" y="527.74" width="13.61" height="8.19" fill="#232323"/>
<rect x="87.91" y="527.74" width="13.61" height="8.19" fill="#282828"/>
<rect x="100.82" y="527.74" width="13.61" height="8.19" fill="#303030"/>
<rect x="113.74" y="527.74" width="13.61" height="8.19" fill="#3e3e3e"/>
<rect x="126.65" y="527.74" width="13.61" height="8.19" fill="#646464"/>
<rect x="139.56" y="527.74" width="13.61" height="8.19" fill="#828282"/>
<rect x="152.47" y="527.74" width="13.61" height="8.19" fill="#a0a0a0"/>
<rect x="165.38" y="527.74" width="13.61" height="8.19" fill="#afafaf"/>
<rect x="178.29" y="527.74" width="13.61" height="8.19" fill="#b4b4b4"/>
<rect x="191.21" y="527.74" width="13.61" height="8.19" fill="#aaaaaa"/>
<rect x="204.12" y="527.74" width="13.61" height="8.19" fill="#9b9b9b"/>
<rect x="217.03" y="527.74" width="13.61" height="8.19" fill="#7d7d7d"/>
<rect x="229.94" y="527.74" width="13.61" height="8.19" fill="#5a5a5a"/>
<rect x="242.85" y="527.74" width="13.61" height="8.19" fill="#414141"/>
<rect x="255.76" y="527.74" width="13.61" height="8.19" fill="#303030"/>
<rect x="268.68" y="527.74" width="13.61" height="8.19" fill="#2a2a2a"/>
<rect x="281.59" y="527.74" width="12.91" height="8.19" fill="#282828"/>
<rect x="75.00" y="535.23" width="13.61" height="8.19" fill="#232323"/>
<rect x="87.91" y="535.23" width="13.61" height="8.19" fill="#2d2d2d"/>
<rect x="100.82" y="535.23" width="13.61" height="8.19" fill="#373737"/>
<rect x="113.74" y="535.23" width="13.61" height="8.19" fill="#4b4b4b"/>
<rect x="126.65" y="535.23" width="13.61" height="8.19" fill="#6e6e6e"/>
<rect x="139.56" y="535.23" width="13.61" height="8.19" fill="#8c8c8c"/>
<rect x="152.47" y="535.23" width="13.61" height="8.19" fill="#aaaaaa"/>
<rect x="165.38" y="535.23" width="13.61" height="8.19" fill="#b9b9b9"/>
<rect x="178.29" y="535.23" width="13.61" height="8.19" fill="#b9b9b9"/>
<rect x="191.21" y="535.23" width="13.61" height="8.19" fill="#b9b9b9"/>
<rect x="204.12" y="535.23" width="13.61" height="8.19" fill="#aaaaaa"/>
<rect x="217.03" y="535.23" width="13.61" height="8.19" fill="#8c8c8c"/>
<rect x="229.94" y="535.23" width="13.61" height="8.19" fill="#646464"/>
<rect x="242.85" y="535.23" width="13.61" height="8.19" fill="#464646"/>
<rect x="255.76" y="535.23" width="13.61" height="8.19" fill="#323232"/>
<rect x="268.68" y="535.23" width="13.61" height="8.19" fill="#2a2a2a"/>
<rect x="281.59" y="535.23" width="12.91" height="8.19" fill="#2a2a2a"/>
<rect x="75.00" y="542.72" width="13.61" height="8.19" fill="#232323"/>
<rect x="87.91" y="542.72" width="13.61" height="8.19" fill="#2d2d2d"/>
<rect x="100.82" y="542.72" width="13.61" height="8.19" fill="#3c3c3c"/>
<rect x="113.74" y="542.72" width="13.61" height="8.19" fill="#505050"/>
<rect x="126.65" y="542.72" width="13.61" height="8.19" fill="#787878"/>
<rect x="139.56" y="542.72" width="13.61" height="8.19" fill="#9b9b9b"/>
<rect x="152.47" y="542.72" width="13.61" height="8.19" fill="#afafaf"/>
<rect x="165.38" y="542.72" width="13.61" height="8.19" fill="#b9b9b9"/>
<rect x="178.29" y="542.72" width="13.61" height="8.19" fill="#c3c3c3"/>
<rect x="191.21" y="542.72" width="13.61" height="8.19" fill="#bebebe"/>
<rect x="204.12" y="542.72" width="13.61" height="8.19" fill="#afafaf"/>
<rect x="217.03" y="542.72" width="13.61" height="8.19" fill="#919191"/>
<rect x="229.94" y="542.72" width="13.61" height="8.19" fill="#696969"/>
<rect x="242.85" y="542.72" width="13.61" height="8.19" fill="#484848"/>
<rect x="255.76" y="542.72" width="13.61" height="8.19" fill="#343434"/>
<rect x="268.68" y="542.72" width="13.61" height="8.19" fill="#2d2d2d"/>
<rect x="281.59" y="542.72" width="12.91" height="8.19" fill="#262626"/>
<rect x="75.00" y="550.21" width="13.61" height="8.19" fill="#262626"/>
<rect x="87.91" y="550.21" width="13.61" height="8.19" fill="#2d2d2d"/>
<rect x="100.82" y="550.21" width="13.61" height="8.19" fill="#3c3c3c"/>
<rect x="113.74" y="550.21" width="13.61" height="8.19" fill="#555555"/>
<rect x="126.65" y="550.21" width="13.61" height="8.19" fill="#7d7d7d"/>
<rect x="139.56" y="550.21" width="13.61" height="8.19" fill="#a0a0a0"/>
<rect x="152.47" y="550.21" width="13.61" height="8.19" fill="#afafaf"/>
<rect x="165.38" y="550.21" width="13.61" height="8.19" fill="#b9b9b9"/>
<rect x="178.29" y="550.21" width="13.61" height="8.19" fill="#bebebe"/>
<rect x="191.21" y="550.21" width="13.61" height="8.19" fill="#b9b9b9"/>
<rect x="204.12" y="550.21" width="13.61" height="8.19" fill="#afafaf"/>
<rect x="217.03" y="550.21" width="13.61" height="8.19" fill="#8c8c8c"/>
<rect x="229.94" y="550.21" width="13.61" height="8.19" fill="#646464"/>
<rect x="242.85" y="550.21" width="13.61" height="8.19" fill="#464646"/>
<rect x="255.76" y="550.21" width="13.61" height="8.19" fill="#343434"/>
<rect x="268.68" y="550.21" width="13.61" height="8.19" fill="#2d2d2d"/>
<rect x="281.59" y="550.21" width="12.91" height="8.19" fill="#282828"/>
<rect x="75.00" y="557.69" width="13.61" height="8.19" fill="#262626"/>
<rect x="87.91" y="557.69" width="13.61" height="8.19" fill="#303030"/>
<rect x="100.82" y="557.69" width="13.61" height="8.19" fill="#414141"/>
<rect x="113.74" y="557.69" width="13.61" height="8.19" fill="#5a5a5a"/>
<rect x="126.65" y="557.69" width="13.61" height="8.19" fill="#7d7d7d"/>
<rect x="139.56" y="557.69" width="13.61" height="8.19" fill="#a0a0a0"/>
<rect x="152.47" y="557.69" width="13.61" height="8.19" fill="#aaaaaa"/>
<rect x="165.38" y="557.69" width="13.61" height="8.19" fill="#b4b4b4"/>
<rect x="178.29" y="557.69" width="13.61" height="8.19" fill="#b9b9b9"/>
<rect x="191.21" y="557.69" width="13.61" height="8.19" fill="#b4b4b4"/>
<rect x="204.12" y="557.69" width="13.61" height="8.19" fill="#a5a5a5"/>
<rect x="217.03" y="557.69" width="13.61" height="8.19" fill="#878787"/>
<rect x="229.94" y="557.69" width="13.61" height="8.19" fill="#5f5f5f"/>
<rect x="242.85" y="557.69" width="13.61" height="8.19" fill="#414141"/>
<rect x="255.76" y="557.69" width="13.61" height="8.19" fill="#323232"/>
<rect x="268.68" y="557.69" width="13.61" height="8.19" fill="#2a2a2a"/>
<rect x="281.59" y="557.69" width="12.91" height="8.19" fill="#262626"/>
<rect x="75.00" y="565.18" width="13.61" height="8.19" fill="#262626"/>
<rect x="87.91" y="565.18" width="13.61" height="8.19" fill="#323232"/>
<rect x="100.82" y="565.18" width="13.61" height="8.19" fill="#414141"/>
<rect x="113.74" y="565.18" width="13.61" height="8.19" fill="#5a5a5a"/>
<rect x="126.65" y="565.18" width="13.61" height="8.19" fill="#787878"/>
<rect x="139.56" y="565.18" width="13.61" height="8.19" fill="#969696"/>
<rect x="152.47" y="565.18" width="13.61" height="8.19" fill="#a5a5a5"/>
<rect x="165.38" y="565.18" width="13.61" height="8.19" fill="#aaaaaa"/>
<rect x="178.29" y="565.18" width="13.61" height="8.19" fill="#afafaf"/>
<rect x="191.21" y="565.18" width="13.61" height="8.19" fill="#aaaaaa"/>
<rect x="204.12" y="565.18" width="13.61" height="8.19" fill="#969696"/>
<rect x="217.03" y="565.18" width="13.61" height="8.19" fill="#7d7d7d"/>
<rect x="229.94" y="565.18" width="13.61" height="8.19" fill="#555555"/>
<rect x="242.85" y="565.18" width="13.61" height="8.19" fill="#3c3c3c"/>
<rect x="255.76" y="565.18" width="13.61" height="8.19" fill="#303030"/>
<rect x="268.68" y="565.18" width="13.61" height="8.19" fill="#282828"/>
<rect x="281.59" y="565.18" width="12.91" height="8.19" fill="#202020"/>
<rect x="75.00" y="572.67" width="13.61" height="8.19" fill="#232323"/>
<rect x="87.91" y="572.67" width="13.61" height="8.19" fill="#2d2d2d"/>
<rect x="100.82" y="572.67" width="13.61" height="8.19" fill="#3c3c3c"/>
<rect x="113.74" y="572.67" width="13.61" height="8.19" fill="#505050"/>
<rect x="126.65" y="572.67" width="13.61" height="8.19" fill="#737373"/>
<rect x="139.56" y="572.67" width="13.61" height="8.19" fill="#8c8c8c"/>
<rect x="152.47" y="572.67" width="13.61" height="8.19" fill="#9b9b9b"/>
<rect x="165.38" y="572.67" width="13.61" height="8.19" fill="#a0a0a0"/>
<rect x="178.29" y="572.67" width="13.61" height="8.19" fill="#a0a0a0"/>
<rect x="191.21" y="572.67" width="13.61" height="8.19" fill="#9b9b9b"/>
<rect x="204.12" y="572.67" width="13.61" height="8.19" fill="#8c8c8c"/>
<rect x="217.03" y="572.67" width="13.61" height="8.19" fill="#6e6e6e"/>
<rect x="229.94" y="572.67" width="13.61" height="8.19" fill="#505050"/>
<rect x="242.85" y="572.67" width="13.61" height="8.19" fill="#373737"/>
<rect x="255.76" y="572.67" width="13.61" height="8.19" fill="#2d2d2d"/>
<rect x="268.68" y="572.67" width="13.61" height="8.19" fill="#282828"/>
<rect x="281.59" y="572.67" width="12.91" height="8.19" fill="#262626"/>
<rect x="75.00" y="580.16" width="13.61" height="8.19" fill="#232323"/>
<rect x="87.91" y="580.16" width="13.61" height="8.19" fill="#2d2d2d"/>
<rect x="100.82" y="580.16" width="13.61" height="8.19" fill="#373737"/>
<rect x="113.74" y="580.16" width="13.61" height="8.19" fill="#4b4b4b"/>
<rect x="126.65" y="580.16" width="13.61" height="8.19" fill="#646464"/>
<rect x="139.56" y="580.16" width="13.61" height="8.19" fill="#7d7d7d"/>
<rect x="152.47" y="580.16" width="13.61" height="8.19" fill="#8c8c8c"/>
<rect x="165.38" y="580.16" width="13.61" height="8.19" fill="#919191"/>
<rect x="178.29" y="580.16" width="13.61" height="8.19" fill="#919191"/>
<rect x="191.21" y="580.16" width="13.61" height="8.19" fill="#8c8c8c"/>
<rect x="204.12" y="580.16" width="13.61" height="8.19" fill="#7d7d7d"/>
<rect x="217.03" y="580.16" width="13.61" height="8.19" fill="#646464"/>
<rect x="229.94" y="580.16" width="13.61" height="8.19" fill="#464646"/>
<rect x="242.85" y="580.16" width="13.61" height="8.19" fill="#343434"/>
<rect x="255.76" y="580.16" width="13.61" height="8.19" fill="#282828"/>
<rect x="268.68" y="580.16" width="13.61" height="8.19" fill="#262626"/>
<rect x="281.59" y="580.16" width="12.91" height="8.19" fill="#262626"/>
<rect x="75.00" y="587.65" width="13.61" height="8.19" fill="#202020"/>
<rect x="87.91" y="587.65" width="13.61" height="8.19" fill="#282828"/>
<rect x="100.82" y="587.65" width="13.61" height="8.19" fill="#323232"/>
<rect x="113.74" y="587.65" width="13.61" height="8.19" fill="#414141"/>
<rect x="126.65" y="587.65" width="13.61" height="8.19" fill="#5a5a5a"/>
<rect x="139.56" y="587.65" width="13.61" height="8.19" fill="#6e6e6e"/>
<rect x="152.47" y="587.65" width="13.61" height="8.19" fill="#7d7d7d"/>
<rect x="165.38" y="587.65" width="13.61" height="8.19" fill="#828282"/>
<rect x="178.29" y="587.65" width="13.61" height="8.19" fill="#828282"/>
<rect x="191.21" y="587.65" width="13.61" height="8.19" fill="#7d7d7d"/>
<rect x="204.12" y="587.65" width="13.61" height="8.19" fill="#6e6e6e"/>
<rect x="217.03" y="587.65" width="13.61" height="8.19" fill="#5a5a5a"/>
<rect x="229.94" y="587.65" width="13.61" height="8.19" fill="#414141"/>
<rect x="242.85" y="587.65" width="13.61" height="8.19" fill="#303030"/>
<rect x="255.76" y="587.65" width="13.61" height="8.19" fill="#282828"/>
<rect x="268.68" y="587.65" width="13.61" height="8.19" fill="#262626"/>
<rect x="281.59" y="587.65" width="12.91" height="8.19" fill="#282828"/>
<rect x="75.00" y="595.14" width="13.61" height="8.19" fill="#202020"/>
<rect x="87.91" y="595.14" width="13.61" height="8.19" fill="#282828"/>
<rect x="100.82" y="595.14" width="13.61" height="8.19" fill="#303030"/>
<rect x="113.74" y="595.14" width="13.61" height="8.19" fill="#3c3c3c"/>
<rect x="126.65" y="595.14" width="13.61" height="8.19" fill="#505050"/>
<rect x="139.56" y="595.14" width="13.61" height="8.19" fill="#646464"/>
<rect x="152.47" y="595.14" width="13.61" height="8.19" fill="#737373"/>
<rect x="165.38" y="595.14" width="13.61" height="8.19" fill="#787878"/>
<rect x="178.29" y="595.14" width="13.61" height="8.19" fill="#787878"/>
<rect x="191.21" y="595.14" width="13.61" height="8.19" fill="#737373"/>
<rect x="204.12" y="595.14" width="13.61" height="8.19" fill="#646464"/>
<rect x="217.03" y="595.14" width="13.61" height="8.19" fill="#505050"/>
<rect x="229.94" y="595.14" width="13.61" height="8.19" fill="#3c3c3c"/>
<rect x="242.85" y="595.14" width="13.61" height="8.19" fill="#2d2d2d"/>
<rect x="255.76" y="595.14" width="13.61" height="8.19" fill="#262626"/>
<rect x="268.68" y="595.14" width="13.61" height="8.19" fill="#262626"/>
<rect x="281.59" y="595.14" width="12.91" height="8.19" fill="#282828"/>
<rect x="75.00" y="602.63" width="13.61" height="8.19" fill="#202020"/>
<rect x="87.91" y="602.63" width="13.61" height="8.19" fill="#282828"/>
<rect x="100.82" y="602.63" width="13.61" height="8.19" fill="#2d2d2d"/>
<rect x="113.74" y="602.63" width="13.61" height="8.19" fill="#373737"/>
<rect x="126.65" y="602.63" width="13.61" height="8.19" fill="#464646"/>
<rect x="139.56" y="602.63" width="13.61" height="8.19" fill="#5a5a5a"/>
<rect x="152.47" y="602.63" width="13.61" height="8.19" fill="#696969"/>
<rect x="165.38" y="602.63" width="13.61" height="8.19" fill="#6e6e6e"/>
<rect x="178.29" y="602.63" width="13.61" height="8.19" fill="#737373"/>
<rect x="191.21" y="602.63" width="13.61" height="8.19" fill="#696969"/>
<rect x="204.12" y="602.63" width="13.61" height="8.19" fill="#5f5f5f"/>
<rect x="217.03" y="602.63" width="13.61" height="8.19" fill="#4b4b4b"/>
<rect x="229.94" y="602.63" width="13.61" height="8.19" fill="#373737"/>
<rect x="242.85" y="602.63" width="13.61" height="8.19" fill="#2a2a2a"/>
<rect x="255.76" y="602.63" width="13.61" height="8.19" fill="#232323"/>
<rect x="268.68" y="602.63" width="13.61" height="8.19" fill="#262626"/>
<rect x="281.59" y="602.63" width="12.91" height="8.19" fill="#282828"/>
<rect x="75.00" y="610.12" width="13.61" height="8.19" fill="#202020"/>
<rect x="87.91" y="610.12" width="13.61" height="8.19" fill="#282828"/>
<rect x="100.82" y="610.12" width="13.61" height="8.19" fill="#2d2d2d"/>
<rect x="113.74" y="610.12" width="13.61" height="8.19" fill="#373737"/>
<rect x="126.65" y="610.12" width="13.61" height="8.19" fill="#414141"/>
<rect x="139.56" y="610.12" width="13.61" height="8.19" fill="#505050"/>
<rect x="152.47" y="610.12" width="13.61" height="8.19" fill="#5f5f5f"/>
<rect x="165.38" y="610.12" width="13.61" height="8.19" fill="#696969"/>
<rect x="178.29" y="610.12" width="13.61" height="8.19" fill="#6e6e6e"/>
<rect x="191.21" y="610.12" width="13.61" height="8.19" fill="#646464"/>
<rect x="204.12" y="610.12" width="13.61" height="8.19" fill="#5a5a5a"/>
<rect x="217.03" y="610.12" width="13.61" height="8.19" fill="#464646"/>
<rect x="229.94" y="610.12" width="13.61" height="8.19" fill="#323232"/>
<rect x="242.85" y="610.12" width="13.61" height="8.19" fill="#282828"/>
<rect x="255.76" y="610.12" width="13.61" height="8.19" fill="#232323"/>
<rect x="268.68" y="610.12" width="13.61" height="8.19" fill="#262626"/>
<rect x="281.59" y="610.12" width="12.91" height="8.19" fill="#262626"/>
<rect x="75.00" y="617.61" width="13.61" height="7.49" fill="#232323"/>
<rect x="87.91" y="617.61" width="13.61" height="7.49" fill="#282828"/>
<rect x="100.82" y="617.61" width="13.61" height="7.49" fill="#2d2d2d"/>
<rect x="113.74" y="617.61" width="13.61" height="7.49" fill="#323232"/>
<rect x="126.65" y="617.61" width="13.61" height="7.49" fill="#3c3c3c"/>
<rect x="139.56" y="617.61" width="13.61" height="7.49" fill="#464646"/>
<rect x="152.47" y="617.61" width="13.61" height="7.49" fill="#555555"/>
<rect x="165.38" y="617.61" width="13.61" height="7.49" fill="#5f5f5f"/>
<rect x="178.29" y="617.61" width="13.61" height="7.49" fill="#646464"/>
<rect x="191.21" y="617.61" width="13.61" height="7.49" fill="#5f5f5f"/>
<rect x="204.12" y="617.61" width="13.61" height="7.49" fill="#555555"/>
<rect x="217.03" y="617.61" width="13.61" height="7.49" fill="#414141"/>
<rect x="229.94" y="617.61" width="13.61" height="7.49" fill="#303030"/>
<rect x="242.85" y="617.61" width="13.61" height="7.49" fill="#2a2a2a"/>
<rect x="255.76" y="617.61" width="13.61" height="7.49" fill="#262626"/>
<rect x="268.68" y="617.61" width="13.61" height="7.49" fill="#262626"/>
<rect x="281.59" y="617.61" width="12.91" height="7.49" fill="#262626"/>
<path d="M77.9 629.6v-5.2M77.9 479.2v5.2M131.7 629.6v-5.2M131.7 479.2v5.2M185.5 629.6v-5.2M185.5 479.2v5.2M239.3 629.6v-5.2M239.3 479.2v5.2M293.1 629.6v-5.2M293.1 479.2v5.2" stroke="#000" stroke-width="1.4" fill="none"/>
<path d="M64.2 496.5h5.2M306.0 496.5h-5.2M64.2 530.5h5.2M306.0 530.5h-5.2M64.2 564.4h5.2M306.0 564.4h-5.2M64.2 598.4h5.2M306.0 598.4h-5.2M64.2 625.5h2.6M306.0 625.5h-2.6M64.2 618.7h2.6M306.0 618.7h-2.6M64.2 611.9h2.6M306.0 611.9h-2.6M64.2 605.2h2.6M306.0 605.2h-2.6M64.2 591.6h2.6M306.0 591.6h-2.6M64.2 584.8h2.6M306.0 584.8h-2.6M64.2 578.0h2.6M306.0 578.0h-2.6M64.2 571.2h2.6M306.0 571.2h-2.6M64.2 557.6h2.6M306.0 557.6h-2.6M64.2 550.8h2.6M306.0 550.8h-2.6M64.2 544.0h2.6M306.0 544.0h-2.6M64.2 537.3h2.6M306.0 537.3h-2.6M64.2 523.7h2.6M306.0 523.7h-2.6M64.2 516.9h2.6M306.0 516.9h-2.6M64.2 510.1h2.6M306.0 510.1h-2.6M64.2 503.3h2.6M306.0 503.3h-2.6M64.2 489.7h2.6M306.0 489.7h-2.6M64.2 482.9h2.6M306.0 482.9h-2.6" stroke="#000" stroke-width="1.4" fill="none"/>
<text x="59.6" y="502.5" font-size="16.6" text-anchor="end" >-745</text>
<text x="59.6" y="536.5" font-size="16.6" text-anchor="end" >-750</text>
<text x="59.6" y="570.4" font-size="16.6" text-anchor="end" >-755</text>
<text x="59.6" y="604.4" font-size="16.6" text-anchor="end" >-760</text>
<text x="0" y="0" font-size="16.6" text-anchor="middle" transform="translate(16.7,554.4) rotate(-90)">Y [arcsec]</text>
<rect x="64.2" y="479.2" width="241.8" height="150.4" fill="none" stroke="#000" stroke-width="1.6"/>
<path d="M146.4 612.4V632.9M224.1 612.4V632.9M146.4 622.8H224.1" stroke="#0808f5" stroke-width="6.3" fill="none"/>
<text x="77.9" y="650.5" font-size="16.6" text-anchor="middle" >-0.04</text>
<text x="131.7" y="650.5" font-size="16.6" text-anchor="middle" >-0.02</text>
<text x="185.5" y="650.5" font-size="16.6" text-anchor="middle" >0.00</text>
<text x="239.3" y="650.5" font-size="16.6" text-anchor="middle" >0.02</text>
<text x="293.1" y="650.5" font-size="16.6" text-anchor="middle" >0.04</text>
<text x="185.1" y="668.2" font-size="16.6" text-anchor="middle" >Wavelength [nm]</text>
<text x="185.1" y="471.9" font-size="20.8" text-anchor="middle" >(e) Si III intensity</text>
<rect x="456.65" y="482.80" width="13.61" height="8.19" fill="#0000f0"/>
<rect x="469.56" y="482.80" width="13.61" height="8.19" fill="#a0d28c"/>
<rect x="482.47" y="482.80" width="13.61" height="8.19" fill="#dc0000"/>
<rect x="495.38" y="482.80" width="13.61" height="8.19" fill="#a0d28c"/>
<rect x="508.29" y="482.80" width="13.61" height="8.19" fill="#0000f0"/>
<rect x="521.21" y="482.80" width="13.61" height="8.19" fill="#0000f0"/>
<rect x="534.12" y="482.80" width="13.61" height="8.19" fill="#fae646"/>
<rect x="547.03" y="482.80" width="13.61" height="8.19" fill="#dc0000"/>
<rect x="456.65" y="490.29" width="13.61" height="8.19" fill="#dc0000"/>
<rect x="469.56" y="490.29" width="13.61" height="8.19" fill="#dc0000"/>
<rect x="482.47" y="490.29" width="13.61" height="8.19" fill="#0000f0"/>
<rect x="495.38" y="490.29" width="13.61" height="8.19" fill="#8ce6fa"/>
<rect x="508.29" y="490.29" width="13.61" height="8.19" fill="#0000f0"/>
<rect x="521.21" y="490.29" width="13.61" height="8.19" fill="#dc0000"/>
<rect x="534.12" y="490.29" width="13.61" height="8.19" fill="#dc0000"/>
<rect x="547.03" y="490.29" width="13.61" height="8.19" fill="#0000f0"/>
<rect x="456.65" y="497.78" width="13.61" height="8.19" fill="#dc0000"/>
<rect x="469.56" y="497.78" width="13.61" height="8.19" fill="#dc0000"/>
<rect x="482.47" y="497.78" width="13.61" height="8.19" fill="#f5c83c"/>
<rect x="495.38" y="497.78" width="13.61" height="8.19" fill="#eb9632"/>
<rect x="508.29" y="497.78" width="13.61" height="8.19" fill="#0000f0"/>
<rect x="521.21" y="497.78" width="13.61" height="8.19" fill="#0000f0"/>
<rect x="534.12" y="497.78" width="13.61" height="8.19" fill="#5aa0f5"/>
<rect x="547.03" y="497.78" width="13.61" height="8.19" fill="#0000f0"/>
<rect x="469.56" y="505.27" width="13.61" height="8.19" fill="#fae646"/>
<rect x="482.47" y="505.27" width="13.61" height="8.19" fill="#0000f0"/>
<rect x="495.38" y="505.27" width="13.61" height="8.19" fill="#0000f0"/>
<rect x="508.29" y="505.27" width="13.61" height="8.19" fill="#5aa0f5"/>
<rect x="521.21" y="505.27" width="13.61" height="8.19" fill="#8ce650"/>
<rect x="534.12" y="505.27" width="13.61" height="8.19" fill="#c8c8b4"/>
<rect x="547.03" y="505.27" width="13.61" height="8.19" fill="#2850f0"/>
<rect x="559.94" y="505.27" width="13.61" height="8.19" fill="#0000f0"/>
<rect x="456.65" y="512.76" width="13.61" height="8.19" fill="#0000f0"/>
<rect x="469.56" y="512.76" width="13.61" height="8.19" fill="#0000f0"/>
<rect x="482.47" y="512.76" width="13.61" height="8.19" fill="#5aa0f5"/>
<rect x="495.38" y="512.76" width="13.61" height="8.19" fill="#fae646"/>
<rect x="508.29" y="512.76" width="13.61" height="8.19" fill="#5aa0f5"/>
<rect x="521.21" y="512.76" width="13.61" height="8.19" fill="#8ce6fa"/>
<rect x="534.12" y="512.76" width="13.61" height="8.19" fill="#5aa0f5"/>
<rect x="547.03" y="512.76" width="13.61" height="8.19" fill="#8ce6fa"/>
<rect x="559.94" y="512.76" width="13.61" height="8.19" fill="#0000f0"/>
<rect x="456.65" y="520.25" width="13.61" height="8.19" fill="#dc0000"/>
<rect x="469.56" y="520.25" width="13.61" height="8.19" fill="#dc0000"/>
<rect x="482.47" y="520.25" width="13.61" height="8.19" fill="#dc0000"/>
<rect x="495.38" y="520.25" width="13.61" height="8.19" fill="#eb9632"/>
<rect x="508.29" y="520.25" width="13.61" height="8.19" fill="#2850f0"/>
<rect x="521.21" y="520.25" width="13.61" height="8.19" fill="#fae646"/>
<rect x="534.12" y="520.25" width="13.61" height="8.19" fill="#8ce650"/>
<rect x="547.03" y="520.25" width="13.61" height="8.19" fill="#c8c8b4"/>
<rect x="559.94" y="520.25" width="13.61" height="8.19" fill="#f5c83c"/>
<rect x="443.74" y="527.74" width="13.61" height="8.19" fill="#dc0000"/>
<rect x="456.65" y="527.74" width="13.61" height="8.19" fill="#c8c8b4"/>
<rect x="469.56" y="527.74" width="13.61" height="8.19" fill="#e0501e"/>
<rect x="482.47" y="527.74" width="13.61" height="8.19" fill="#eb9632"/>
<rect x="495.38" y="527.74" width="13.61" height="8.19" fill="#dc0000"/>
<rect x="508.29" y="527.74" width="13.61" height="8.19" fill="#2850f0"/>
<rect x="521.21" y="527.74" width="13.61" height="8.19" fill="#c8c8b4"/>
<rect x="534.12" y="527.74" width="13.61" height="8.19" fill="#2850f0"/>
<rect x="547.03" y="527.74" width="13.61" height="8.19" fill="#0000f0"/>
<rect x="559.94" y="527.74" width="13.61" height="8.19" fill="#0000f0"/>
<rect x="572.85" y="527.74" width="13.61" height="8.19" fill="#dc0000"/>
<rect x="443.74" y="535.23" width="13.61" height="8.19" fill="#dc0000"/>
<rect x="456.65" y="535.23" width="13.61" height="8.19" fill="#f5c83c"/>
<rect x="469.56" y="535.23" width="13.61" height="8.19" fill="#c8c8b4"/>
<rect x="482.47" y="535.23" width="13.61" height="8.19" fill="#fae646"/>
<rect x="495.38" y="535.23" width="13.61" height="8.19" fill="#0000f0"/>
<rect x="508.29" y="535.23" width="13.61" height="8.19" fill="#2850f0"/>
<rect x="521.21" y="535.23" width="13.61" height="8.19" fill="#a0d28c"/>
<rect x="534.12" y="535.23" width="13.61" height="8.19" fill="#5aa0f5"/>
<rect x="547.03" y="535.23" width="13.61" height="8.19" fill="#0000f0"/>
<rect x="559.94" y="535.23" width="13.61" height="8.19" fill="#0000f0"/>
<rect x="572.85" y="535.23" width="13.61" height="8.19" fill="#dc0000"/>
<rect x="443.74" y="542.72" width="13.61" height="8.19" fill="#dc0000"/>
<rect x="456.65" y="542.72" width="13.61" height="8.19" fill="#0000f0"/>
<rect x="469.56" y="542.72" width="13.61" height="8.19" fill="#5aa0f5"/>
<rect x="482.47" y="542.72" width="13.61" height="8.19" fill="#0000f0"/>
<rect x="495.38" y="542.72" width="13.61" height="8.19" fill="#5aa0f5"/>
<rect x="508.29" y="542.72" width="13.61" height="8.19" fill="#c8c8b4"/>
<rect x="521.21" y="542.72" width="13.61" height="8.19" fill="#0000f0"/>
<rect x="534.12" y="542.72" width="13.61" height="8.19" fill="#0000f0"/>
<rect x="547.03" y="542.72" width="13.61" height="8.19" fill="#0000f0"/>
<rect x="559.94" y="542.72" width="13.61" height="8.19" fill="#0000f0"/>
<rect x="572.85" y="542.72" width="13.61" height="8.19" fill="#dc0000"/>
<rect x="443.74" y="550.21" width="13.61" height="8.19" fill="#dc0000"/>
<rect x="456.65" y="550.21" width="13.61" height="8.19" fill="#eb9632"/>
<rect x="469.56" y="550.21" width="13.61" height="8.19" fill="#8ce650"/>
<rect x="482.47" y="550.21" width="13.61" height="8.19" fill="#a0d28c"/>
<rect x="495.38" y="550.21" width="13.61" height="8.19" fill="#5aa0f5"/>
<rect x="508.29" y="550.21" width="13.61" height="8.19" fill="#8ce650"/>
<rect x="521.21" y="550.21" width="13.61" height="8.19" fill="#c8c8b4"/>
<rect x="534.12" y="550.21" width="13.61" height="8.19" fill="#c8c8b4"/>
<rect x="547.03" y="550.21" width="13.61" height="8.19" fill="#2850f0"/>
<rect x="559.94" y="550.21" width="13.61" height="8.19" fill="#0000f0"/>
<rect x="572.85" y="550.21" width="13.61" height="8.19" fill="#8ce650"/>
<rect x="430.82" y="557.69" width="13.61" height="8.19" fill="#dc0000"/>
<rect x="443.74" y="557.69" width="13.61" height="8.19" fill="#0000f0"/>
<rect x="456.65" y="557.69" width="13.61" height="8.19" fill="#2850f0"/>
<rect x="469.56" y="557.69" width="13.61" height="8.19" fill="#8ce650"/>
<rect x="482.47" y="557.69" width="13.61" height="8.19" fill="#5aa0f5"/>
<rect x="495.38" y="557.69" width="13.61" height="8.19" fill="#5aa0f5"/>
<rect x="508.29" y="557.69" width="13.61" height="8.19" fill="#2850f0"/>
<rect x="521.21" y="557.69" width="13.61" height="8.19" fill="#0000f0"/>
<rect x="534.12" y="557.69" width="13.61" height="8.19" fill="#5aa0f5"/>
<rect x="547.03" y="557.69" width="13.61" height="8.19" fill="#8ce650"/>
<rect x="559.94" y="557.69" width="13.61" height="8.19" fill="#5aa0f5"/>
<rect x="430.82" y="565.18" width="13.61" height="8.19" fill="#8ce650"/>
<rect x="443.74" y="565.18" width="13.61" height="8.19" fill="#0000f0"/>
<rect x="456.65" y="565.18" width="13.61" height="8.19" fill="#0000f0"/>
<rect x="469.56" y="565.18" width="13.61" height="8.19" fill="#0000f0"/>
<rect x="482.47" y="565.18" width="13.61" height="8.19" fill="#0000f0"/>
<rect x="495.38" y="565.18" width="13.61" height="8.19" fill="#8ce6fa"/>
<rect x="508.29" y="565.18" width="13.61" height="8.19" fill="#fae646"/>
<rect x="521.21" y="565.18" width="13.61" height="8.19" fill="#2850f0"/>
<rect x="534.12" y="565.18" width="13.61" height="8.19" fill="#0000f0"/>
<rect x="547.03" y="565.18" width="13.61" height="8.19" fill="#2850f0"/>
<rect x="559.94" y="565.18" width="13.61" height="8.19" fill="#2850f0"/>
<rect x="430.82" y="572.67" width="13.61" height="8.19" fill="#dc0000"/>
<rect x="443.74" y="572.67" width="13.61" height="8.19" fill="#0000f0"/>
<rect x="456.65" y="572.67" width="13.61" height="8.19" fill="#fae646"/>
<rect x="469.56" y="572.67" width="13.61" height="8.19" fill="#8ce6fa"/>
<rect x="482.47" y="572.67" width="13.61" height="8.19" fill="#a0d28c"/>
<rect x="495.38" y="572.67" width="13.61" height="8.19" fill="#8ce6fa"/>
<rect x="508.29" y="572.67" width="13.61" height="8.19" fill="#0000f0"/>
<rect x="521.21" y="572.67" width="13.61" height="8.19" fill="#0000f0"/>
<rect x="534.12" y="572.67" width="13.61" height="8.19" fill="#5aa0f5"/>
<rect x="547.03" y="572.67" width="13.61" height="8.19" fill="#8ce6fa"/>
<rect x="559.94" y="572.67" width="13.61" height="8.19" fill="#2850f0"/>
<rect x="443.74" y="580.16" width="13.61" height="8.19" fill="#0000f0"/>
<rect x="456.65" y="580.16" width="13.61" height="8.19" fill="#2850f0"/>
<rect x="469.56" y="580.16" width="13.61" height="8.19" fill="#8ce6fa"/>
<rect x="482.47" y="580.16" width="13.61" height="8.19" fill="#0000f0"/>
<rect x="495.38" y="580.16" width="13.61" height="8.19" fill="#0000f0"/>
<rect x="508.29" y="580.16" width="13.61" height="8.19" fill="#5aa0f5"/>
<rect x="521.21" y="580.16" width="13.61" height="8.19" fill="#f5c83c"/>
<rect x="534.12" y="580.16" width="13.61" height="8.19" fill="#fae646"/>
<rect x="547.03" y="580.16" width="13.61" height="8.19" fill="#8ce650"/>
<rect x="559.94" y="580.16" width="13.61" height="8.19" fill="#0000f0"/>
<rect x="443.74" y="587.65" width="13.61" height="8.19" fill="#0000f0"/>
<rect x="456.65" y="587.65" width="13.61" height="8.19" fill="#0000f0"/>
<rect x="469.56" y="587.65" width="13.61" height="8.19" fill="#dc0000"/>
<rect x="482.47" y="587.65" width="13.61" height="8.19" fill="#f5c83c"/>
<rect x="495.38" y="587.65" width="13.61" height="8.19" fill="#dc0000"/>
<rect x="508.29" y="587.65" width="13.61" height="8.19" fill="#dc0000"/>
<rect x="521.21" y="587.65" width="13.61" height="8.19" fill="#f5c83c"/>
<rect x="534.12" y="587.65" width="13.61" height="8.19" fill="#2850f0"/>
<rect x="547.03" y="587.65" width="13.61" height="8.19" fill="#0000f0"/>
<rect x="456.65" y="595.14" width="13.61" height="8.19" fill="#dc0000"/>
<rect x="469.56" y="595.14" width="13.61" height="8.19" fill="#fae646"/>
<rect x="482.47" y="595.14" width="13.61" height="8.19" fill="#c8c8b4"/>
<rect x="495.38" y="595.14" width="13.61" height="8.19" fill="#c8c8b4"/>
<rect x="508.29" y="595.14" width="13.61" height="8.19" fill="#8ce650"/>
<rect x="521.21" y="595.14" width="13.61" height="8.19" fill="#dc0000"/>
<rect x="534.12" y="595.14" width="13.61" height="8.19" fill="#e0501e"/>
<rect x="547.03" y="595.14" width="13.61" height="8.19" fill="#5aa0f5"/>
<rect x="456.65" y="602.63" width="13.61" height="8.19" fill="#fae646"/>
<rect x="469.56" y="602.63" width="13.61" height="8.19" fill="#dc0000"/>
<rect x="482.47" y="602.63" width="13.61" height="8.19" fill="#dc0000"/>
<rect x="495.38" y="602.63" width="13.61" height="8.19" fill="#dc0000"/>
<rect x="508.29" y="602.63" width="13.61" height="8.19" fill="#dc0000"/>
<rect x="521.21" y="602.63" width="13.61" height="8.19" fill="#dc0000"/>
<rect x="534.12" y="602.63" width="13.61" height="8.19" fill="#e0501e"/>
<rect x="456.65" y="610.12" width="13.61" height="8.19" fill="#dc0000"/>
<rect x="469.56" y="610.12" width="13.61" height="8.19" fill="#dc0000"/>
<rect x="482.47" y="610.12" width="13.61" height="8.19" fill="#dc0000"/>
<rect x="495.38" y="610.12" width="13.61" height="8.19" fill="#dc0000"/>
<rect x="508.29" y="610.12" width="13.61" height="8.19" fill="#dc0000"/>
<rect x="521.21" y="610.12" width="13.61" height="8.19" fill="#2850f0"/>
<rect x="534.12" y="610.12" width="13.61" height="8.19" fill="#5aa0f5"/>
<rect x="469.56" y="617.61" width="13.61" height="7.49" fill="#c8c8b4"/>
<rect x="482.47" y="617.61" width="13.61" height="7.49" fill="#f5c83c"/>
<rect x="495.38" y="617.61" width="13.61" height="7.49" fill="#8ce650"/>
<rect x="508.29" y="617.61" width="13.61" height="7.49" fill="#dc0000"/>
<rect x="521.21" y="617.61" width="13.61" height="7.49" fill="#dc0000"/>
<rect x="534.12" y="617.61" width="13.61" height="7.49" fill="#dc0000"/>
<path d="M407.9 629.6v-5.2M407.9 479.2v5.2M461.7 629.6v-5.2M461.7 479.2v5.2M515.5 629.6v-5.2M515.5 479.2v5.2M569.3 629.6v-5.2M569.3 479.2v5.2M623.1 629.6v-5.2M623.1 479.2v5.2" stroke="#000" stroke-width="1.4" fill="none"/>
<path d="M394.3 496.5h5.2M636.3 496.5h-5.2M394.3 530.5h5.2M636.3 530.5h-5.2M394.3 564.4h5.2M636.3 564.4h-5.2M394.3 598.4h5.2M636.3 598.4h-5.2M394.3 625.5h2.6M636.3 625.5h-2.6M394.3 618.7h2.6M636.3 618.7h-2.6M394.3 611.9h2.6M636.3 611.9h-2.6M394.3 605.2h2.6M636.3 605.2h-2.6M394.3 591.6h2.6M636.3 591.6h-2.6M394.3 584.8h2.6M636.3 584.8h-2.6M394.3 578.0h2.6M636.3 578.0h-2.6M394.3 571.2h2.6M636.3 571.2h-2.6M394.3 557.6h2.6M636.3 557.6h-2.6M394.3 550.8h2.6M636.3 550.8h-2.6M394.3 544.0h2.6M636.3 544.0h-2.6M394.3 537.3h2.6M636.3 537.3h-2.6M394.3 523.7h2.6M636.3 523.7h-2.6M394.3 516.9h2.6M636.3 516.9h-2.6M394.3 510.1h2.6M636.3 510.1h-2.6M394.3 503.3h2.6M636.3 503.3h-2.6M394.3 489.7h2.6M636.3 489.7h-2.6M394.3 482.9h2.6M636.3 482.9h-2.6" stroke="#000" stroke-width="1.4" fill="none"/>
<text x="389.7" y="502.5" font-size="16.6" text-anchor="end" >-745</text>
<text x="389.7" y="536.5" font-size="16.6" text-anchor="end" >-750</text>
<text x="389.7" y="570.4" font-size="16.6" text-anchor="end" >-755</text>
<text x="389.7" y="604.4" font-size="16.6" text-anchor="end" >-760</text>
<text x="0" y="0" font-size="16.6" text-anchor="middle" transform="translate(346.8,554.4) rotate(-90)">Y [arcsec]</text>
<rect x="394.3" y="479.2" width="242.0" height="150.4" fill="none" stroke="#000" stroke-width="1.6"/>
<path d="M476.5 612.4V632.9M554.2 612.4V632.9M476.5 622.8H554.2" stroke="#0808f5" stroke-width="6.3" fill="none"/>
<text x="407.9" y="650.5" font-size="16.6" text-anchor="middle" >-0.04</text>
<text x="461.7" y="650.5" font-size="16.6" text-anchor="middle" >-0.02</text>
<text x="515.5" y="650.5" font-size="16.6" text-anchor="middle" >0.00</text>
<text x="569.3" y="650.5" font-size="16.6" text-anchor="middle" >0.02</text>
<text x="623.1" y="650.5" font-size="16.6" text-anchor="middle" >0.04</text>
<text x="515.3" y="668.2" font-size="16.6" text-anchor="middle" >Wavelength [nm]</text>
<text x="515.3" y="471.9" font-size="20.6" text-anchor="middle" >(f) Si III <tspan font-style="italic">U/I</tspan></text>
<defs><linearGradient id="cg2" x1="0" y1="0" x2="0" y2="1"><stop offset="0.000" stop-color="#d71e14"/><stop offset="0.090" stop-color="#e1461e"/><stop offset="0.165" stop-color="#e67828"/><stop offset="0.235" stop-color="#f0aa2d"/><stop offset="0.310" stop-color="#f5d232"/><stop offset="0.400" stop-color="#faf532"/><stop offset="0.455" stop-color="#d7d282"/><stop offset="0.500" stop-color="#c3c3c3"/><stop offset="0.525" stop-color="#aad28c"/><stop offset="0.580" stop-color="#78e646"/><stop offset="0.645" stop-color="#6ef08c"/><stop offset="0.690" stop-color="#82ebfa"/><stop offset="0.755" stop-color="#5aaaf5"/><stop offset="0.845" stop-color="#3c6ef0"/><stop offset="0.925" stop-color="#283cf0"/><stop offset="1.000" stop-color="#1414eb"/></linearGradient></defs>
<rect x="644.0" y="480.0" width="17.9" height="149.8" fill="url(#cg2)"/>
<rect x="644.0" y="480.0" width="17.9" height="149.8" fill="none" stroke="#000" stroke-width="1.9"/>
<path d="M644.0 517.5h4.8M661.9 517.5h-4.8M644.0 554.9h4.8M661.9 554.9h-4.8M644.0 592.3h4.8M661.9 592.3h-4.8" stroke="#000" stroke-width="2"/>
<text x="665.5" y="488.5" font-size="16" text-anchor="start" >1.0</text>
<text x="665.5" y="522.2" font-size="16" text-anchor="start" >0.5</text>
<text x="665.5" y="560.1" font-size="16" text-anchor="start" >0.0</text>
<text x="665.5" y="597.6" font-size="16" text-anchor="start" >-0.5</text>
<text x="665.5" y="630.1" font-size="16" text-anchor="start" >-1.0</text>
<text x="0" y="0" font-size="14" text-anchor="middle" transform="translate(702.3,554.9) rotate(-90)">[%]</text>
<rect x="66.6" y="745.4" width="237.2" height="111.3" fill="#bbbbbb"/>
<clipPath id="clipg"><rect x="64.2" y="717.6" width="241.8" height="185.0"/></clipPath>
<polyline points="173.9,726.9 164.9,736.1 164.0,745.4 169.6,754.6 176.5,763.9 184.0,773.1 192.6,782.4 199.6,791.6 196.1,800.9 184.0,810.1 173.0,819.4 163.5,828.6 157.0,837.9 150.5,847.1 136.7,856.4 121.0,865.6 106.4,874.9 96.9,884.1 90.3,893.4" fill="none" stroke="#dc1414" stroke-width="2" stroke-linejoin="round" clip-path="url(#clipg)"/>
<polyline points="84.4,726.9 96.0,736.1 126.3,745.4 167.2,754.6 208.5,763.9 248.9,773.1 272.6,782.4 273.1,791.6 260.1,800.9 223.0,810.1 183.0,819.4 141.0,828.6 110.7,837.9 87.0,847.1 73.0,856.4 60.2,865.6 50.0,874.9 45.0,884.1 42.0,893.4" fill="none" stroke="#80ee3c" stroke-width="2" stroke-linejoin="round" clip-path="url(#clipg)"/>
<polyline points="111.1,726.9 108.3,736.1 105.5,745.4 108.1,754.6 128.0,763.9 150.5,773.1 179.1,782.4 200.4,791.6 210.3,800.9 200.4,810.1 196.1,819.4 177.3,828.6 148.0,837.9 116.0,847.1 94.8,856.4 80.5,865.6 70.0,874.9 60.0,884.1 50.0,893.4" fill="none" stroke="#1414f0" stroke-width="2" stroke-linejoin="round" clip-path="url(#clipg)"/>
<path d="M64.2 902.6v-5.2M64.2 717.6v5.2M104.5 902.6v-5.2M104.5 717.6v5.2M144.8 902.6v-5.2M144.8 717.6v5.2M185.1 902.6v-5.2M185.1 717.6v5.2M225.4 902.6v-5.2M225.4 717.6v5.2M265.7 902.6v-5.2M265.7 717.6v5.2M306.0 902.6v-5.2M306.0 717.6v5.2M68.2 902.6v-2.2M68.2 717.6v2.2M72.3 902.6v-2.2M72.3 717.6v2.2M76.3 902.6v-2.2M76.3 717.6v2.2M80.3 902.6v-2.2M80.3 717.6v2.2M84.3 902.6v-2.2M84.3 717.6v2.2M88.4 902.6v-2.2M88.4 717.6v2.2M92.4 902.6v-2.2M92.4 717.6v2.2M96.4 902.6v-2.2M96.4 717.6v2.2M100.5 902.6v-2.2M100.5 717.6v2.2M108.5 902.6v-2.2M108.5 717.6v2.2M112.6 902.6v-2.2M112.6 717.6v2.2M116.6 902.6v-2.2M116.6 717.6v2.2M120.6 902.6v-2.2M120.6 717.6v2.2M124.6 902.6v-2.2M124.6 717.6v2.2M128.7 902.6v-2.2M128.7 717.6v2.2M132.7 902.6v-2.2M132.7 717.6v2.2M136.7 902.6v-2.2M136.7 717.6v2.2M140.8 902.6v-2.2M140.8 717.6v2.2M148.8 902.6v-2.2M148.8 717.6v2.2M152.9 902.6v-2.2M152.9 717.6v2.2M156.9 902.6v-2.2M156.9 717.6v2.2M160.9 902.6v-2.2M160.9 717.6v2.2M164.9 902.6v-2.2M164.9 717.6v2.2M169.0 902.6v-2.2M169.0 717.6v2.2M173.0 902.6v-2.2M173.0 717.6v2.2M177.0 902.6v-2.2M177.0 717.6v2.2M181.1 902.6v-2.2M181.1 717.6v2.2M189.1 902.6v-2.2M189.1 717.6v2.2M193.2 902.6v-2.2M193.2 717.6v2.2M197.2 902.6v-2.2M197.2 717.6v2.2M201.2 902.6v-2.2M201.2 717.6v2.2M205.2 902.6v-2.2M205.2 717.6v2.2M209.3 902.6v-2.2M209.3 717.6v2.2M213.3 902.6v-2.2M213.3 717.6v2.2M217.3 902.6v-2.2M217.3 717.6v2.2M221.4 902.6v-2.2M221.4 717.6v2.2M229.4 902.6v-2.2M229.4 717.6v2.2M233.5 902.6v-2.2M233.5 717.6v2.2M237.5 902.6v-2.2M237.5 717.6v2.2M241.5 902.6v-2.2M241.5 717.6v2.2M245.6 902.6v-2.2M245.6 717.6v2.2M249.6 902.6v-2.2M249.6 717.6v2.2M253.6 902.6v-2.2M253.6 717.6v2.2M257.6 902.6v-2.2M257.6 717.6v2.2M261.7 902.6v-2.2M261.7 717.6v2.2M269.7 902.6v-2.2M269.7 717.6v2.2M273.8 902.6v-2.2M273.8 717.6v2.2M277.8 902.6v-2.2M277.8 717.6v2.2M281.8 902.6v-2.2M281.8 717.6v2.2M285.9 902.6v-2.2M285.9 717.6v2.2M289.9 902.6v-2.2M289.9 717.6v2.2M293.9 902.6v-2.2M293.9 717.6v2.2M297.9 902.6v-2.2M297.9 717.6v2.2M302.0 902.6v-2.2M302.0 717.6v2.2" stroke="#000" stroke-width="1.4" fill="none"/>
<path d="M64.2 738.9h5.2M306.0 738.9h-5.2M64.2 780.7h5.2M306.0 780.7h-5.2M64.2 822.4h5.2M306.0 822.4h-5.2M64.2 864.2h5.2M306.0 864.2h-5.2M64.2 897.6h2.6M306.0 897.6h-2.6M64.2 889.2h2.6M306.0 889.2h-2.6M64.2 880.9h2.6M306.0 880.9h-2.6M64.2 872.5h2.6M306.0 872.5h-2.6M64.2 855.8h2.6M306.0 855.8h-2.6M64.2 847.5h2.6M306.0 847.5h-2.6M64.2 839.1h2.6M306.0 839.1h-2.6M64.2 830.8h2.6M306.0 830.8h-2.6M64.2 814.1h2.6M306.0 814.1h-2.6M64.2 805.7h2.6M306.0 805.7h-2.6M64.2 797.4h2.6M306.0 797.4h-2.6M64.2 789.0h2.6M306.0 789.0h-2.6M64.2 772.3h2.6M306.0 772.3h-2.6M64.2 764.0h2.6M306.0 764.0h-2.6M64.2 755.6h2.6M306.0 755.6h-2.6M64.2 747.3h2.6M306.0 747.3h-2.6M64.2 730.5h2.6M306.0 730.5h-2.6M64.2 722.2h2.6M306.0 722.2h-2.6" stroke="#000" stroke-width="1.4" fill="none"/>
<text x="59.6" y="744.9" font-size="16.5" text-anchor="end" >-745</text>
<text x="59.6" y="786.6" font-size="16.5" text-anchor="end" >-750</text>
<text x="59.6" y="828.4" font-size="16.5" text-anchor="end" >-755</text>
<text x="59.6" y="870.2" font-size="16.5" text-anchor="end" >-760</text>
<text x="0" y="0" font-size="16.5" text-anchor="middle" transform="translate(16.7,810.1) rotate(-90)">Y [arcsec]</text>
<rect x="64.2" y="717.6" width="241.8" height="185.0" fill="none" stroke="#000" stroke-width="1.6"/>
<text x="64.2" y="924.2" font-size="16.5" text-anchor="middle" >0.2</text>
<text x="104.5" y="924.2" font-size="16.5" text-anchor="middle" >0.3</text>
<text x="144.8" y="924.2" font-size="16.5" text-anchor="middle" >0.4</text>
<text x="185.1" y="924.2" font-size="16.5" text-anchor="middle" >0.5</text>
<text x="225.4" y="924.2" font-size="16.5" text-anchor="middle" >0.6</text>
<text x="265.7" y="924.2" font-size="16.5" text-anchor="middle" >0.7</text>
<text x="306.0" y="924.2" font-size="16.5" text-anchor="middle" >0.8</text>
<text x="185.1" y="942.6" font-size="16.5" text-anchor="middle" >Normalized intensity</text>
<text x="5.6" y="727.6" font-size="20" text-anchor="start" >(g)</text>
<rect x="396.7" y="745.4" width="237.4" height="111.3" fill="#bbbbbb"/>
<path d="M515 717.6V902.6" stroke="#000" stroke-width="1" stroke-dasharray="1,2"/>
<clipPath id="cliph"><rect x="394.3" y="717.6" width="241.99999999999994" height="185.0"/></clipPath>
<g clip-path="url(#cliph)" stroke="#dc1414" stroke-width="2" fill="none"><polyline points="428.0,726.9 407.8,736.1 413.5,745.4 406.1,754.6 379.0,763.9 420.5,773.1 413.7,782.4 407.8,791.6 400.0,800.9 385.0,810.1 400.4,819.4 425.1,828.6 429.4,837.9 491.2,847.1 523.3,856.4 531.5,865.6 505.3,874.9 520.0,884.1 486.4,893.4" stroke-linejoin="round"/><path d="M410.7 726.9H445.4M410.7 723.3v7.2M445.4 723.3v7.2M390.3 736.1H425.3M390.3 732.5v7.2M425.3 732.5v7.2M395.3 745.4H431.7M395.3 741.8v7.2M431.7 741.8v7.2M388.1 754.6H424.1M388.1 751.0v7.2M424.1 751.0v7.2M361.0 763.9H397.4M361.0 760.3v7.2M397.4 760.3v7.2M403.2 773.1H437.7M403.2 769.5v7.2M437.7 769.5v7.2M396.5 782.4H430.8M396.5 778.8v7.2M430.8 778.8v7.2M390.6 791.6H425.0M390.6 788.0v7.2M425.0 788.0v7.2M380.0 800.9H420.2M380.0 797.3v7.2M420.2 797.3v7.2M367.0 810.1H403.0M367.0 806.5v7.2M403.0 806.5v7.2M382.4 819.4H418.4M382.4 815.8v7.2M418.4 815.8v7.2M407.0 828.6H443.2M407.0 825.0v7.2M443.2 825.0v7.2M411.0 837.9H447.8M411.0 834.3v7.2M447.8 834.3v7.2M472.7 847.1H509.7M472.7 843.5v7.2M509.7 843.5v7.2M503.9 856.4H542.6M503.9 852.8v7.2M542.6 852.8v7.2M510.5 865.6H552.5M510.5 862.0v7.2M552.5 862.0v7.2M483.6 874.9H527.1M483.6 871.3v7.2M527.1 871.3v7.2M497.4 884.1H542.6M497.4 880.5v7.2M542.6 880.5v7.2M463.0 893.4H509.7M463.0 889.8v7.2M509.7 889.8v7.2"/></g>
<g clip-path="url(#cliph)" stroke="#80ee3c" stroke-width="2" fill="none"><polyline points="476.0,726.9 449.6,736.1 419.8,745.4 428.0,754.6 440.7,763.9 463.3,773.1 493.8,782.4 510.0,791.6 533.3,800.9 571.1,810.1 582.9,819.4 592.8,828.6 608.7,837.9 639.0,847.1 645.0,856.4 652.0,865.6 650.2,874.9 627.6,884.1 604.2,893.4" stroke-linejoin="round"/><path d="M468.0 726.9H492.9M468.0 723.3v7.2M492.9 723.3v7.2M438.0 736.1H461.2M438.0 732.5v7.2M461.2 732.5v7.2M409.5 745.4H430.8M409.5 741.8v7.2M430.8 741.8v7.2M417.6 754.6H436.5M417.6 751.0v7.2M436.5 751.0v7.2M432.3 763.9H449.2M432.3 760.3v7.2M449.2 760.3v7.2M456.1 773.1H471.0M456.1 769.5v7.2M471.0 769.5v7.2M486.1 782.4H500.8M486.1 778.8v7.2M500.8 778.8v7.2M502.5 791.6H516.9M502.5 788.0v7.2M516.9 788.0v7.2M526.0 800.9H540.7M526.0 797.3v7.2M540.7 797.3v7.2M562.8 810.1H579.3M562.8 806.5v7.2M579.3 806.5v7.2M573.8 819.4H592.2M573.8 815.8v7.2M592.2 815.8v7.2M583.2 828.6H603.1M583.2 825.0v7.2M603.1 825.0v7.2M597.6 837.9H619.8M597.6 834.3v7.2M619.8 834.3v7.2M628.1 847.1H650.0M628.1 843.5v7.2M650.0 843.5v7.2M630.5 856.4H660.0M630.5 852.8v7.2M660.0 852.8v7.2M638.0 865.6H666.0M638.0 862.0v7.2M666.0 862.0v7.2M636.0 874.9H664.0M636.0 871.3v7.2M664.0 871.3v7.2M609.3 884.1H646.0M609.3 880.5v7.2M646.0 880.5v7.2M588.0 893.4H619.6M588.0 889.8v7.2M619.6 889.8v7.2"/></g>
<g clip-path="url(#cliph)" stroke="#1414f0" stroke-width="2" fill="none"><polyline points="500.0,726.9 524.5,736.1 490.1,745.4 478.4,754.6 487.5,763.9 528.0,773.1 513.5,782.4 474.0,791.6 469.5,800.9 502.0,810.1 479.0,819.4 465.9,828.6 478.8,837.9 484.5,847.1 564.0,856.4 537.5,865.6 601.0,874.9 567.5,884.1 557.3,893.4" stroke-linejoin="round"/><path d="M476.6 726.9H523.4M476.6 723.3v7.2M523.4 723.3v7.2M500.8 736.1H548.2M500.8 732.5v7.2M548.2 732.5v7.2M466.2 745.4H514.0M466.2 741.8v7.2M514.0 741.8v7.2M454.3 754.6H502.2M454.3 751.0v7.2M502.2 751.0v7.2M465.8 763.9H509.7M465.8 760.3v7.2M509.7 760.3v7.2M507.9 773.1H548.7M507.9 769.5v7.2M548.7 769.5v7.2M493.9 782.4H531.5M493.9 778.8v7.2M531.5 778.8v7.2M457.0 791.6H493.0M457.0 788.0v7.2M493.0 788.0v7.2M451.1 800.9H486.7M451.1 797.3v7.2M486.7 797.3v7.2M485.2 810.1H520.8M485.2 806.5v7.2M520.8 806.5v7.2M461.8 819.4H497.9M461.8 815.8v7.2M497.9 815.8v7.2M446.9 828.6H484.9M446.9 825.0v7.2M484.9 825.0v7.2M458.1 837.9H499.7M458.1 834.3v7.2M499.7 834.3v7.2M462.4 847.1H507.9M462.4 843.5v7.2M507.9 843.5v7.2M539.5 856.4H589.9M539.5 852.8v7.2M589.9 852.8v7.2M510.8 865.6H563.8M510.8 862.0v7.2M563.8 862.0v7.2M573.1 874.9H630.8M573.1 871.3v7.2M630.8 871.3v7.2M537.8 884.1H597.6M537.8 880.5v7.2M597.6 880.5v7.2M526.6 893.4H587.6M526.6 889.8v7.2M587.6 889.8v7.2"/></g>
<path d="M394.3 902.6v-5.2M454.8 902.6v-5.2M515.3 902.6v-5.2M575.8 902.6v-5.2M636.3 902.6v-5.2M400.4 902.6v-2.2M406.4 902.6v-2.2M412.4 902.6v-2.2M418.5 902.6v-2.2M424.6 902.6v-2.2M430.6 902.6v-2.2M436.7 902.6v-2.2M442.7 902.6v-2.2M448.8 902.6v-2.2M460.9 902.6v-2.2M466.9 902.6v-2.2M472.9 902.6v-2.2M479.0 902.6v-2.2M485.0 902.6v-2.2M491.1 902.6v-2.2M497.1 902.6v-2.2M503.2 902.6v-2.2M509.2 902.6v-2.2M521.4 902.6v-2.2M527.4 902.6v-2.2M533.5 902.6v-2.2M539.5 902.6v-2.2M545.5 902.6v-2.2M551.6 902.6v-2.2M557.6 902.6v-2.2M563.7 902.6v-2.2M569.8 902.6v-2.2M581.8 902.6v-2.2M587.9 902.6v-2.2M594.0 902.6v-2.2M600.0 902.6v-2.2M606.0 902.6v-2.2M612.1 902.6v-2.2M618.1 902.6v-2.2M624.2 902.6v-2.2M630.2 902.6v-2.2" stroke="#000" stroke-width="1.4" fill="none"/>
<path d="M394.3 717.6v5.2M454.8 717.6v5.2M515.3 717.6v5.2M575.8 717.6v5.2M636.3 717.6v5.2M409.4 717.6v2.2M424.6 717.6v2.2M439.7 717.6v2.2M469.9 717.6v2.2M485.1 717.6v2.2M500.2 717.6v2.2M530.4 717.6v2.2M545.5 717.6v2.2M560.7 717.6v2.2M590.9 717.6v2.2M606.0 717.6v2.2M621.2 717.6v2.2" stroke="#000" stroke-width="1.4" fill="none"/>
<path d="M394.3 738.9h5.2M636.3 738.9h-5.2M394.3 780.7h5.2M636.3 780.7h-5.2M394.3 822.4h5.2M636.3 822.4h-5.2M394.3 864.2h5.2M636.3 864.2h-5.2M394.3 897.6h2.6M636.3 897.6h-2.6M394.3 889.2h2.6M636.3 889.2h-2.6M394.3 880.9h2.6M636.3 880.9h-2.6M394.3 872.5h2.6M636.3 872.5h-2.6M394.3 855.8h2.6M636.3 855.8h-2.6M394.3 847.5h2.6M636.3 847.5h-2.6M394.3 839.1h2.6M636.3 839.1h-2.6M394.3 830.8h2.6M636.3 830.8h-2.6M394.3 814.1h2.6M636.3 814.1h-2.6M394.3 805.7h2.6M636.3 805.7h-2.6M394.3 797.4h2.6M636.3 797.4h-2.6M394.3 789.0h2.6M636.3 789.0h-2.6M394.3 772.3h2.6M636.3 772.3h-2.6M394.3 764.0h2.6M636.3 764.0h-2.6M394.3 755.6h2.6M636.3 755.6h-2.6M394.3 747.3h2.6M636.3 747.3h-2.6M394.3 730.5h2.6M636.3 730.5h-2.6M394.3 722.2h2.6M636.3 722.2h-2.6" stroke="#000" stroke-width="1.4" fill="none"/>
<text x="389.7" y="744.9" font-size="16.5" text-anchor="end" >-745</text>
<text x="389.7" y="786.6" font-size="16.5" text-anchor="end" >-750</text>
<text x="389.7" y="828.4" font-size="16.5" text-anchor="end" >-755</text>
<text x="389.7" y="870.2" font-size="16.5" text-anchor="end" >-760</text>
<text x="0" y="0" font-size="16.5" text-anchor="middle" transform="translate(346.8,810.1) rotate(-90)">Y [arcsec]</text>
<rect x="394.3" y="717.6" width="242.0" height="185.0" fill="none" stroke="#000" stroke-width="1.6"/>
<text x="394.3" y="923.6" font-size="16" text-anchor="middle" >-2</text>
<text x="454.8" y="923.6" font-size="16" text-anchor="middle" >-1</text>
<text x="515.3" y="923.6" font-size="16" text-anchor="middle" >0</text>
<text x="575.8" y="923.6" font-size="16" text-anchor="middle" >1</text>
<text x="636.3" y="923.6" font-size="16" text-anchor="middle" >2</text>
<text x="422.85" y="942.60" font-size="16.6" font-style="italic" xml:space="preserve">U/I</text>
<text x="444.97" y="942.60" font-size="16.6" xml:space="preserve"> [%] (Ly</text>
<text x="0" y="0" font-size="16.6" transform="translate(501.21,942.60) scale(1.25,1)">α</text>
<text x="512.08" y="942.60" font-size="16.6" xml:space="preserve"> wing &amp; Si III)</text>
<text x="394.3" y="710.6" font-size="16" text-anchor="middle" >-0.4</text>
<text x="454.8" y="710.6" font-size="16" text-anchor="middle" >-0.2</text>
<text x="515.3" y="710.6" font-size="16" text-anchor="middle" >0.0</text>
<text x="575.8" y="710.6" font-size="16" text-anchor="middle" >0.2</text>
<text x="636.3" y="710.6" font-size="16" text-anchor="middle" >0.4</text>
<text x="453.26" y="695.40" font-size="16.6" font-style="italic" xml:space="preserve">U/I</text>
<text x="475.39" y="695.40" font-size="16.6" xml:space="preserve"> [%] (Ly</text>
<text x="0" y="0" font-size="16.6" transform="translate(531.63,695.40) scale(1.25,1)">α</text>
<text x="542.50" y="695.40" font-size="16.6" xml:space="preserve"> core)</text>
<text x="334.9" y="727.6" font-size="20" text-anchor="start" >(h)</text>
</svg>
</body></html>
